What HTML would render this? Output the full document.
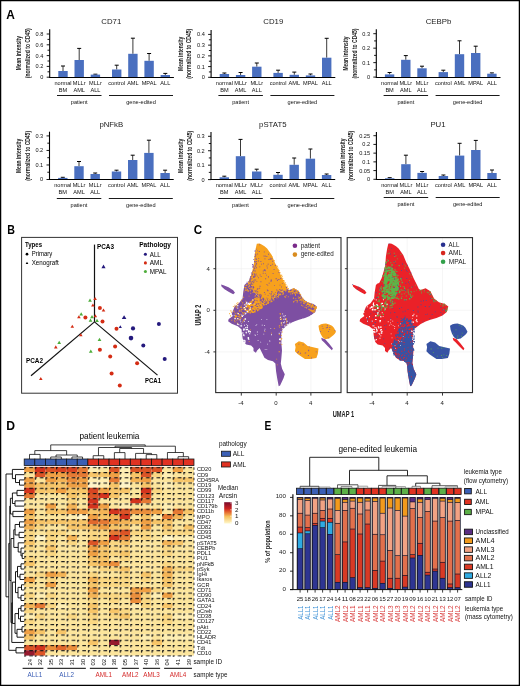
<!DOCTYPE html>
<html><head><meta charset="utf-8"><style>html,body{margin:0;padding:0;background:#fff;width:520px;height:686px;overflow:hidden}svg{display:block;will-change:transform;font-family:"Liberation Sans",sans-serif}</style></head><body>
<svg width="520" height="686" viewBox="0 0 520 686" font-family="Liberation Sans, sans-serif">
<rect x="0" y="0" width="520" height="686" fill="#fff"/>
<text x="111.3" y="24.38" font-size="7.8" fill="#1a1a1a" text-anchor="middle">CD71</text>
<line x1="63" y1="71" x2="63" y2="66" stroke="#3a3a3a" stroke-width="1"/>
<line x1="61" y1="66" x2="65" y2="66" stroke="#000" stroke-width="1"/>
<rect x="58.3" y="71" width="9.4" height="6" fill="#4a6fbf"/>
<line x1="79.2" y1="60" x2="79.2" y2="48.4" stroke="#3a3a3a" stroke-width="1"/>
<line x1="77.2" y1="48.4" x2="81.2" y2="48.4" stroke="#000" stroke-width="1"/>
<rect x="74.5" y="60" width="9.4" height="17" fill="#4a6fbf"/>
<line x1="95.4" y1="74.6" x2="95.4" y2="74.2" stroke="#3a3a3a" stroke-width="1"/>
<line x1="93.4" y1="74.2" x2="97.4" y2="74.2" stroke="#000" stroke-width="1"/>
<rect x="90.7" y="74.6" width="9.4" height="2.4" fill="#4a6fbf"/>
<line x1="116.7" y1="69.5" x2="116.7" y2="65.2" stroke="#3a3a3a" stroke-width="1"/>
<line x1="114.7" y1="65.2" x2="118.7" y2="65.2" stroke="#000" stroke-width="1"/>
<rect x="112" y="69.5" width="9.4" height="7.5" fill="#4a6fbf"/>
<line x1="132.9" y1="53.8" x2="132.9" y2="38.2" stroke="#3a3a3a" stroke-width="1"/>
<line x1="130.9" y1="38.2" x2="134.9" y2="38.2" stroke="#000" stroke-width="1"/>
<rect x="128.2" y="53.8" width="9.4" height="23.2" fill="#4a6fbf"/>
<line x1="149.1" y1="60.8" x2="149.1" y2="53.5" stroke="#3a3a3a" stroke-width="1"/>
<line x1="147.1" y1="53.5" x2="151.1" y2="53.5" stroke="#000" stroke-width="1"/>
<rect x="144.4" y="60.8" width="9.4" height="16.2" fill="#4a6fbf"/>
<line x1="165.3" y1="75" x2="165.3" y2="73.4" stroke="#3a3a3a" stroke-width="1"/>
<line x1="163.3" y1="73.4" x2="167.3" y2="73.4" stroke="#000" stroke-width="1"/>
<rect x="160.6" y="75" width="9.4" height="2" fill="#4a6fbf"/>
<line x1="49.7" y1="29.3" x2="49.7" y2="77.7" stroke="#000" stroke-width="1.1"/>
<line x1="49.2" y1="77.5" x2="173.9" y2="77.5" stroke="#000" stroke-width="1.1"/>
<line x1="46.7" y1="77.2" x2="49.7" y2="77.2" stroke="#000" stroke-width="0.9"/>
<text x="43.4" y="79.15" font-size="5.6" fill="#111" text-anchor="end">0</text>
<line x1="46.7" y1="66.4" x2="49.7" y2="66.4" stroke="#000" stroke-width="0.9"/>
<text x="43.4" y="68.35" font-size="5.6" fill="#111" text-anchor="end">0.2</text>
<line x1="46.7" y1="55.6" x2="49.7" y2="55.6" stroke="#000" stroke-width="0.9"/>
<text x="43.4" y="57.55" font-size="5.6" fill="#111" text-anchor="end">0.4</text>
<line x1="46.7" y1="44.8" x2="49.7" y2="44.8" stroke="#000" stroke-width="0.9"/>
<text x="43.4" y="46.75" font-size="5.6" fill="#111" text-anchor="end">0.6</text>
<line x1="46.7" y1="34" x2="49.7" y2="34" stroke="#000" stroke-width="0.9"/>
<text x="43.4" y="35.95" font-size="5.6" fill="#111" text-anchor="end">0.8</text>
<line x1="47.5" y1="71.8" x2="49.7" y2="71.8" stroke="#000" stroke-width="0.9"/>
<line x1="47.5" y1="61" x2="49.7" y2="61" stroke="#000" stroke-width="0.9"/>
<line x1="47.5" y1="50.2" x2="49.7" y2="50.2" stroke="#000" stroke-width="0.9"/>
<line x1="47.5" y1="39.4" x2="49.7" y2="39.4" stroke="#000" stroke-width="0.9"/>
<text transform="translate(21.3 53.2) rotate(-90)" font-size="7.3" fill="#222" text-anchor="middle" textLength="34.2" lengthAdjust="spacingAndGlyphs" font-weight="bold">Mean intensity</text>
<text transform="translate(30.1 53.2) rotate(-90)" font-size="7.3" fill="#222" text-anchor="middle" textLength="49.9" lengthAdjust="spacingAndGlyphs" font-weight="bold">(normalized to CD45)</text>
<text x="63" y="84.9" font-size="5.6" fill="#111" text-anchor="middle">normal</text>
<text x="63" y="91.9" font-size="5.6" fill="#111" text-anchor="middle">BM</text>
<text x="79.2" y="84.9" font-size="5.6" fill="#111" text-anchor="middle">MLLr</text>
<text x="79.2" y="91.9" font-size="5.6" fill="#111" text-anchor="middle">AML</text>
<text x="95.4" y="84.9" font-size="5.6" fill="#111" text-anchor="middle">MLLr</text>
<text x="95.4" y="91.9" font-size="5.6" fill="#111" text-anchor="middle">ALL</text>
<text x="116.7" y="84.9" font-size="5.6" fill="#111" text-anchor="middle">control</text>
<text x="132.9" y="84.9" font-size="5.6" fill="#111" text-anchor="middle">AML</text>
<text x="149.1" y="84.9" font-size="5.6" fill="#111" text-anchor="middle">MPAL</text>
<text x="165.3" y="84.9" font-size="5.6" fill="#111" text-anchor="middle">ALL</text>
<line x1="57" y1="95.5" x2="101.5" y2="95.5" stroke="#000" stroke-width="0.9"/>
<line x1="109" y1="95.5" x2="173" y2="95.5" stroke="#000" stroke-width="0.9"/>
<text x="79.2" y="104.2" font-size="5.6" fill="#111" text-anchor="middle">patient</text>
<text x="141" y="104.2" font-size="5.6" fill="#111" text-anchor="middle">gene-edited</text>
<text x="273.3" y="24.48" font-size="7.8" fill="#1a1a1a" text-anchor="middle">CD19</text>
<line x1="224.4" y1="74" x2="224.4" y2="73" stroke="#3a3a3a" stroke-width="1"/>
<line x1="222.4" y1="73" x2="226.4" y2="73" stroke="#000" stroke-width="1"/>
<rect x="219.7" y="74" width="9.4" height="3" fill="#4a6fbf"/>
<line x1="240.6" y1="75" x2="240.6" y2="72.5" stroke="#3a3a3a" stroke-width="1"/>
<line x1="238.6" y1="72.5" x2="242.6" y2="72.5" stroke="#000" stroke-width="1"/>
<rect x="235.9" y="75" width="9.4" height="2" fill="#4a6fbf"/>
<line x1="256.8" y1="66.7" x2="256.8" y2="63" stroke="#3a3a3a" stroke-width="1"/>
<line x1="254.8" y1="63" x2="258.8" y2="63" stroke="#000" stroke-width="1"/>
<rect x="252.1" y="66.7" width="9.4" height="10.3" fill="#4a6fbf"/>
<line x1="278.1" y1="72.9" x2="278.1" y2="70.2" stroke="#3a3a3a" stroke-width="1"/>
<line x1="276.1" y1="70.2" x2="280.1" y2="70.2" stroke="#000" stroke-width="1"/>
<rect x="273.4" y="72.9" width="9.4" height="4.1" fill="#4a6fbf"/>
<line x1="294.3" y1="74.8" x2="294.3" y2="72.1" stroke="#3a3a3a" stroke-width="1"/>
<line x1="292.3" y1="72.1" x2="296.3" y2="72.1" stroke="#000" stroke-width="1"/>
<rect x="289.6" y="74.8" width="9.4" height="2.2" fill="#4a6fbf"/>
<line x1="310.5" y1="75.4" x2="310.5" y2="74" stroke="#3a3a3a" stroke-width="1"/>
<line x1="308.5" y1="74" x2="312.5" y2="74" stroke="#000" stroke-width="1"/>
<rect x="305.8" y="75.4" width="9.4" height="1.6" fill="#4a6fbf"/>
<line x1="326.7" y1="57.7" x2="326.7" y2="38.3" stroke="#3a3a3a" stroke-width="1"/>
<line x1="324.7" y1="38.3" x2="328.7" y2="38.3" stroke="#000" stroke-width="1"/>
<rect x="322" y="57.7" width="9.4" height="19.3" fill="#4a6fbf"/>
<line x1="211.1" y1="30" x2="211.1" y2="77.8" stroke="#000" stroke-width="1.1"/>
<line x1="210.6" y1="77.5" x2="335.3" y2="77.5" stroke="#000" stroke-width="1.1"/>
<line x1="208.1" y1="77.3" x2="211.1" y2="77.3" stroke="#000" stroke-width="0.9"/>
<text x="204.8" y="79.25" font-size="5.6" fill="#111" text-anchor="end">0</text>
<line x1="208.1" y1="66.58" x2="211.1" y2="66.58" stroke="#000" stroke-width="0.9"/>
<text x="204.8" y="68.53" font-size="5.6" fill="#111" text-anchor="end">0.1</text>
<line x1="208.1" y1="55.86" x2="211.1" y2="55.86" stroke="#000" stroke-width="0.9"/>
<text x="204.8" y="57.81" font-size="5.6" fill="#111" text-anchor="end">0.2</text>
<line x1="208.1" y1="45.14" x2="211.1" y2="45.14" stroke="#000" stroke-width="0.9"/>
<text x="204.8" y="47.09" font-size="5.6" fill="#111" text-anchor="end">0.3</text>
<line x1="208.1" y1="34.42" x2="211.1" y2="34.42" stroke="#000" stroke-width="0.9"/>
<text x="204.8" y="36.37" font-size="5.6" fill="#111" text-anchor="end">0.4</text>
<line x1="208.9" y1="71.94" x2="211.1" y2="71.94" stroke="#000" stroke-width="0.9"/>
<line x1="208.9" y1="61.22" x2="211.1" y2="61.22" stroke="#000" stroke-width="0.9"/>
<line x1="208.9" y1="50.5" x2="211.1" y2="50.5" stroke="#000" stroke-width="0.9"/>
<line x1="208.9" y1="39.78" x2="211.1" y2="39.78" stroke="#000" stroke-width="0.9"/>
<text transform="translate(182.5 53.8) rotate(-90)" font-size="7.3" fill="#222" text-anchor="middle" textLength="34.2" lengthAdjust="spacingAndGlyphs" font-weight="bold">Mean intensity</text>
<text transform="translate(191.3 53.8) rotate(-90)" font-size="7.3" fill="#222" text-anchor="middle" textLength="49.9" lengthAdjust="spacingAndGlyphs" font-weight="bold">(normalized to CD45)</text>
<text x="224.4" y="85" font-size="5.6" fill="#111" text-anchor="middle">normal</text>
<text x="224.4" y="92" font-size="5.6" fill="#111" text-anchor="middle">BM</text>
<text x="240.6" y="85" font-size="5.6" fill="#111" text-anchor="middle">MLLr</text>
<text x="240.6" y="92" font-size="5.6" fill="#111" text-anchor="middle">AML</text>
<text x="256.8" y="85" font-size="5.6" fill="#111" text-anchor="middle">MLLr</text>
<text x="256.8" y="92" font-size="5.6" fill="#111" text-anchor="middle">ALL</text>
<text x="278.1" y="85" font-size="5.6" fill="#111" text-anchor="middle">control</text>
<text x="294.3" y="85" font-size="5.6" fill="#111" text-anchor="middle">AML</text>
<text x="310.5" y="85" font-size="5.6" fill="#111" text-anchor="middle">MPAL</text>
<text x="326.7" y="85" font-size="5.6" fill="#111" text-anchor="middle">ALL</text>
<line x1="218.4" y1="95.5" x2="262.9" y2="95.5" stroke="#000" stroke-width="0.9"/>
<line x1="270.4" y1="95.5" x2="334.4" y2="95.5" stroke="#000" stroke-width="0.9"/>
<text x="240.6" y="104.3" font-size="5.6" fill="#111" text-anchor="middle">patient</text>
<text x="302.4" y="104.3" font-size="5.6" fill="#111" text-anchor="middle">gene-edited</text>
<text x="438.5" y="24.38" font-size="7.8" fill="#1a1a1a" text-anchor="middle">CEBPb</text>
<line x1="389.6" y1="74.4" x2="389.6" y2="72.5" stroke="#3a3a3a" stroke-width="1"/>
<line x1="387.6" y1="72.5" x2="391.6" y2="72.5" stroke="#000" stroke-width="1"/>
<rect x="384.9" y="74.4" width="9.4" height="2.6" fill="#4a6fbf"/>
<line x1="405.8" y1="59.8" x2="405.8" y2="55.6" stroke="#3a3a3a" stroke-width="1"/>
<line x1="403.8" y1="55.6" x2="407.8" y2="55.6" stroke="#000" stroke-width="1"/>
<rect x="401.1" y="59.8" width="9.4" height="17.2" fill="#4a6fbf"/>
<line x1="422" y1="68.3" x2="422" y2="66.2" stroke="#3a3a3a" stroke-width="1"/>
<line x1="420" y1="66.2" x2="424" y2="66.2" stroke="#000" stroke-width="1"/>
<rect x="417.3" y="68.3" width="9.4" height="8.7" fill="#4a6fbf"/>
<line x1="443.3" y1="72.1" x2="443.3" y2="70.2" stroke="#3a3a3a" stroke-width="1"/>
<line x1="441.3" y1="70.2" x2="445.3" y2="70.2" stroke="#000" stroke-width="1"/>
<rect x="438.6" y="72.1" width="9.4" height="4.9" fill="#4a6fbf"/>
<line x1="459.5" y1="54.2" x2="459.5" y2="40.8" stroke="#3a3a3a" stroke-width="1"/>
<line x1="457.5" y1="40.8" x2="461.5" y2="40.8" stroke="#000" stroke-width="1"/>
<rect x="454.8" y="54.2" width="9.4" height="22.8" fill="#4a6fbf"/>
<line x1="475.7" y1="53" x2="475.7" y2="46.2" stroke="#3a3a3a" stroke-width="1"/>
<line x1="473.7" y1="46.2" x2="477.7" y2="46.2" stroke="#000" stroke-width="1"/>
<rect x="471" y="53" width="9.4" height="24" fill="#4a6fbf"/>
<line x1="491.9" y1="73.7" x2="491.9" y2="72.9" stroke="#3a3a3a" stroke-width="1"/>
<line x1="489.9" y1="72.9" x2="493.9" y2="72.9" stroke="#000" stroke-width="1"/>
<rect x="487.2" y="73.7" width="9.4" height="3.3" fill="#4a6fbf"/>
<line x1="376.3" y1="29.3" x2="376.3" y2="77.6" stroke="#000" stroke-width="1.1"/>
<line x1="375.8" y1="77.5" x2="500.5" y2="77.5" stroke="#000" stroke-width="1.1"/>
<line x1="373.3" y1="77.1" x2="376.3" y2="77.1" stroke="#000" stroke-width="0.9"/>
<text x="370" y="79.05" font-size="5.6" fill="#111" text-anchor="end">0</text>
<line x1="373.3" y1="62.63" x2="376.3" y2="62.63" stroke="#000" stroke-width="0.9"/>
<text x="370" y="64.58" font-size="5.6" fill="#111" text-anchor="end">0.1</text>
<line x1="373.3" y1="48.16" x2="376.3" y2="48.16" stroke="#000" stroke-width="0.9"/>
<text x="370" y="50.11" font-size="5.6" fill="#111" text-anchor="end">0.2</text>
<line x1="373.3" y1="33.69" x2="376.3" y2="33.69" stroke="#000" stroke-width="0.9"/>
<text x="370" y="35.64" font-size="5.6" fill="#111" text-anchor="end">0.3</text>
<line x1="374.1" y1="69.86" x2="376.3" y2="69.86" stroke="#000" stroke-width="0.9"/>
<line x1="374.1" y1="55.39" x2="376.3" y2="55.39" stroke="#000" stroke-width="0.9"/>
<line x1="374.1" y1="40.92" x2="376.3" y2="40.92" stroke="#000" stroke-width="0.9"/>
<text transform="translate(348.2 53.5) rotate(-90)" font-size="7.3" fill="#222" text-anchor="middle" textLength="34.2" lengthAdjust="spacingAndGlyphs" font-weight="bold">Mean intensity</text>
<text transform="translate(357.1 53.5) rotate(-90)" font-size="7.3" fill="#222" text-anchor="middle" textLength="49.9" lengthAdjust="spacingAndGlyphs" font-weight="bold">(normalized to CD45)</text>
<text x="389.6" y="84.8" font-size="5.6" fill="#111" text-anchor="middle">normal</text>
<text x="389.6" y="91.8" font-size="5.6" fill="#111" text-anchor="middle">BM</text>
<text x="405.8" y="84.8" font-size="5.6" fill="#111" text-anchor="middle">MLLr</text>
<text x="405.8" y="91.8" font-size="5.6" fill="#111" text-anchor="middle">AML</text>
<text x="422" y="84.8" font-size="5.6" fill="#111" text-anchor="middle">MLLr</text>
<text x="422" y="91.8" font-size="5.6" fill="#111" text-anchor="middle">ALL</text>
<text x="443.3" y="84.8" font-size="5.6" fill="#111" text-anchor="middle">control</text>
<text x="459.5" y="84.8" font-size="5.6" fill="#111" text-anchor="middle">AML</text>
<text x="475.7" y="84.8" font-size="5.6" fill="#111" text-anchor="middle">MPAL</text>
<text x="491.9" y="84.8" font-size="5.6" fill="#111" text-anchor="middle">ALL</text>
<line x1="383.6" y1="95.5" x2="428.1" y2="95.5" stroke="#000" stroke-width="0.9"/>
<line x1="435.6" y1="95.5" x2="499.6" y2="95.5" stroke="#000" stroke-width="0.9"/>
<text x="405.8" y="104.1" font-size="5.6" fill="#111" text-anchor="middle">patient</text>
<text x="467.6" y="104.1" font-size="5.6" fill="#111" text-anchor="middle">gene-edited</text>
<text x="111.3" y="126.58" font-size="7.8" fill="#1a1a1a" text-anchor="middle">pNFkB</text>
<line x1="62.8" y1="177.9" x2="62.8" y2="177.3" stroke="#3a3a3a" stroke-width="1"/>
<line x1="60.8" y1="177.3" x2="64.8" y2="177.3" stroke="#000" stroke-width="1"/>
<rect x="58.1" y="177.9" width="9.4" height="1.1" fill="#4a6fbf"/>
<line x1="79" y1="166.2" x2="79" y2="161.5" stroke="#3a3a3a" stroke-width="1"/>
<line x1="77" y1="161.5" x2="81" y2="161.5" stroke="#000" stroke-width="1"/>
<rect x="74.3" y="166.2" width="9.4" height="12.8" fill="#4a6fbf"/>
<line x1="95.2" y1="174" x2="95.2" y2="173" stroke="#3a3a3a" stroke-width="1"/>
<line x1="93.2" y1="173" x2="97.2" y2="173" stroke="#000" stroke-width="1"/>
<rect x="90.5" y="174" width="9.4" height="5" fill="#4a6fbf"/>
<line x1="116.5" y1="171.5" x2="116.5" y2="170.2" stroke="#3a3a3a" stroke-width="1"/>
<line x1="114.5" y1="170.2" x2="118.5" y2="170.2" stroke="#000" stroke-width="1"/>
<rect x="111.8" y="171.5" width="9.4" height="7.5" fill="#4a6fbf"/>
<line x1="132.7" y1="160" x2="132.7" y2="155.2" stroke="#3a3a3a" stroke-width="1"/>
<line x1="130.7" y1="155.2" x2="134.7" y2="155.2" stroke="#000" stroke-width="1"/>
<rect x="128" y="160" width="9.4" height="19" fill="#4a6fbf"/>
<line x1="148.9" y1="152.9" x2="148.9" y2="140.2" stroke="#3a3a3a" stroke-width="1"/>
<line x1="146.9" y1="140.2" x2="150.9" y2="140.2" stroke="#000" stroke-width="1"/>
<rect x="144.2" y="152.9" width="9.4" height="26.1" fill="#4a6fbf"/>
<line x1="165.1" y1="173" x2="165.1" y2="170.2" stroke="#3a3a3a" stroke-width="1"/>
<line x1="163.1" y1="170.2" x2="167.1" y2="170.2" stroke="#000" stroke-width="1"/>
<rect x="160.4" y="173" width="9.4" height="6" fill="#4a6fbf"/>
<line x1="49.5" y1="131.7" x2="49.5" y2="180" stroke="#000" stroke-width="1.1"/>
<line x1="49" y1="179.5" x2="173.7" y2="179.5" stroke="#000" stroke-width="1.1"/>
<line x1="46.5" y1="179.5" x2="49.5" y2="179.5" stroke="#000" stroke-width="0.9"/>
<text x="43.2" y="181.45" font-size="5.6" fill="#111" text-anchor="end">0</text>
<line x1="46.5" y1="164.97" x2="49.5" y2="164.97" stroke="#000" stroke-width="0.9"/>
<text x="43.2" y="166.92" font-size="5.6" fill="#111" text-anchor="end">0.1</text>
<line x1="46.5" y1="150.44" x2="49.5" y2="150.44" stroke="#000" stroke-width="0.9"/>
<text x="43.2" y="152.39" font-size="5.6" fill="#111" text-anchor="end">0.2</text>
<line x1="46.5" y1="135.91" x2="49.5" y2="135.91" stroke="#000" stroke-width="0.9"/>
<text x="43.2" y="137.86" font-size="5.6" fill="#111" text-anchor="end">0.3</text>
<line x1="47.3" y1="172.24" x2="49.5" y2="172.24" stroke="#000" stroke-width="0.9"/>
<line x1="47.3" y1="157.7" x2="49.5" y2="157.7" stroke="#000" stroke-width="0.9"/>
<line x1="47.3" y1="143.18" x2="49.5" y2="143.18" stroke="#000" stroke-width="0.9"/>
<text transform="translate(21 155.9) rotate(-90)" font-size="7.3" fill="#222" text-anchor="middle" textLength="34.2" lengthAdjust="spacingAndGlyphs" font-weight="bold">Mean intensity</text>
<text transform="translate(29.9 155.9) rotate(-90)" font-size="7.3" fill="#222" text-anchor="middle" textLength="49.9" lengthAdjust="spacingAndGlyphs" font-weight="bold">(normalized to CD45)</text>
<text x="62.8" y="187.2" font-size="5.6" fill="#111" text-anchor="middle">normal</text>
<text x="62.8" y="194.2" font-size="5.6" fill="#111" text-anchor="middle">BM</text>
<text x="79" y="187.2" font-size="5.6" fill="#111" text-anchor="middle">MLLr</text>
<text x="79" y="194.2" font-size="5.6" fill="#111" text-anchor="middle">AML</text>
<text x="95.2" y="187.2" font-size="5.6" fill="#111" text-anchor="middle">MLLr</text>
<text x="95.2" y="194.2" font-size="5.6" fill="#111" text-anchor="middle">ALL</text>
<text x="116.5" y="187.2" font-size="5.6" fill="#111" text-anchor="middle">control</text>
<text x="132.7" y="187.2" font-size="5.6" fill="#111" text-anchor="middle">AML</text>
<text x="148.9" y="187.2" font-size="5.6" fill="#111" text-anchor="middle">MPAL</text>
<text x="165.1" y="187.2" font-size="5.6" fill="#111" text-anchor="middle">ALL</text>
<line x1="56.8" y1="198.5" x2="101.3" y2="198.5" stroke="#000" stroke-width="0.9"/>
<line x1="108.8" y1="198.5" x2="172.8" y2="198.5" stroke="#000" stroke-width="0.9"/>
<text x="79" y="206.5" font-size="5.6" fill="#111" text-anchor="middle">patient</text>
<text x="140.8" y="206.5" font-size="5.6" fill="#111" text-anchor="middle">gene-edited</text>
<text x="272.8" y="126.78" font-size="7.8" fill="#1a1a1a" text-anchor="middle">pSTAT5</text>
<line x1="224.3" y1="177.3" x2="224.3" y2="176.2" stroke="#3a3a3a" stroke-width="1"/>
<line x1="222.3" y1="176.2" x2="226.3" y2="176.2" stroke="#000" stroke-width="1"/>
<rect x="219.6" y="177.3" width="9.4" height="1.7" fill="#4a6fbf"/>
<line x1="240.5" y1="156.2" x2="240.5" y2="139.4" stroke="#3a3a3a" stroke-width="1"/>
<line x1="238.5" y1="139.4" x2="242.5" y2="139.4" stroke="#000" stroke-width="1"/>
<rect x="235.8" y="156.2" width="9.4" height="22.8" fill="#4a6fbf"/>
<line x1="256.7" y1="171.5" x2="256.7" y2="169.2" stroke="#3a3a3a" stroke-width="1"/>
<line x1="254.7" y1="169.2" x2="258.7" y2="169.2" stroke="#000" stroke-width="1"/>
<rect x="252" y="171.5" width="9.4" height="7.5" fill="#4a6fbf"/>
<line x1="278" y1="174.8" x2="278" y2="172.5" stroke="#3a3a3a" stroke-width="1"/>
<line x1="276" y1="172.5" x2="280" y2="172.5" stroke="#000" stroke-width="1"/>
<rect x="273.3" y="174.8" width="9.4" height="4.2" fill="#4a6fbf"/>
<line x1="294.2" y1="164.8" x2="294.2" y2="158" stroke="#3a3a3a" stroke-width="1"/>
<line x1="292.2" y1="158" x2="296.2" y2="158" stroke="#000" stroke-width="1"/>
<rect x="289.5" y="164.8" width="9.4" height="14.2" fill="#4a6fbf"/>
<line x1="310.4" y1="158.7" x2="310.4" y2="149" stroke="#3a3a3a" stroke-width="1"/>
<line x1="308.4" y1="149" x2="312.4" y2="149" stroke="#000" stroke-width="1"/>
<rect x="305.7" y="158.7" width="9.4" height="20.3" fill="#4a6fbf"/>
<line x1="326.6" y1="175" x2="326.6" y2="174" stroke="#3a3a3a" stroke-width="1"/>
<line x1="324.6" y1="174" x2="328.6" y2="174" stroke="#000" stroke-width="1"/>
<rect x="321.9" y="175" width="9.4" height="4" fill="#4a6fbf"/>
<line x1="211" y1="132" x2="211" y2="180.1" stroke="#000" stroke-width="1.1"/>
<line x1="210.5" y1="179.5" x2="335.2" y2="179.5" stroke="#000" stroke-width="1.1"/>
<line x1="208" y1="179.6" x2="211" y2="179.6" stroke="#000" stroke-width="0.9"/>
<text x="204.7" y="181.55" font-size="5.6" fill="#111" text-anchor="end">0</text>
<line x1="208" y1="165.17" x2="211" y2="165.17" stroke="#000" stroke-width="0.9"/>
<text x="204.7" y="167.12" font-size="5.6" fill="#111" text-anchor="end">0.1</text>
<line x1="208" y1="150.74" x2="211" y2="150.74" stroke="#000" stroke-width="0.9"/>
<text x="204.7" y="152.69" font-size="5.6" fill="#111" text-anchor="end">0.2</text>
<line x1="208" y1="136.31" x2="211" y2="136.31" stroke="#000" stroke-width="0.9"/>
<text x="204.7" y="138.26" font-size="5.6" fill="#111" text-anchor="end">0.3</text>
<line x1="208.8" y1="172.38" x2="211" y2="172.38" stroke="#000" stroke-width="0.9"/>
<line x1="208.8" y1="157.95" x2="211" y2="157.95" stroke="#000" stroke-width="0.9"/>
<line x1="208.8" y1="143.52" x2="211" y2="143.52" stroke="#000" stroke-width="0.9"/>
<text transform="translate(182.5 155.8) rotate(-90)" font-size="7.3" fill="#222" text-anchor="middle" textLength="34.2" lengthAdjust="spacingAndGlyphs" font-weight="bold">Mean intensity</text>
<text transform="translate(191.5 155.8) rotate(-90)" font-size="7.3" fill="#222" text-anchor="middle" textLength="49.9" lengthAdjust="spacingAndGlyphs" font-weight="bold">(normalized to CD45)</text>
<text x="224.3" y="187.3" font-size="5.6" fill="#111" text-anchor="middle">normal</text>
<text x="224.3" y="194.3" font-size="5.6" fill="#111" text-anchor="middle">BM</text>
<text x="240.5" y="187.3" font-size="5.6" fill="#111" text-anchor="middle">MLLr</text>
<text x="240.5" y="194.3" font-size="5.6" fill="#111" text-anchor="middle">AML</text>
<text x="256.7" y="187.3" font-size="5.6" fill="#111" text-anchor="middle">MLLr</text>
<text x="256.7" y="194.3" font-size="5.6" fill="#111" text-anchor="middle">ALL</text>
<text x="278" y="187.3" font-size="5.6" fill="#111" text-anchor="middle">control</text>
<text x="294.2" y="187.3" font-size="5.6" fill="#111" text-anchor="middle">AML</text>
<text x="310.4" y="187.3" font-size="5.6" fill="#111" text-anchor="middle">MPAL</text>
<text x="326.6" y="187.3" font-size="5.6" fill="#111" text-anchor="middle">ALL</text>
<line x1="218.3" y1="198.5" x2="262.8" y2="198.5" stroke="#000" stroke-width="0.9"/>
<line x1="270.3" y1="198.5" x2="334.3" y2="198.5" stroke="#000" stroke-width="0.9"/>
<text x="240.5" y="206.6" font-size="5.6" fill="#111" text-anchor="middle">patient</text>
<text x="302.3" y="206.6" font-size="5.6" fill="#111" text-anchor="middle">gene-edited</text>
<text x="438" y="126.78" font-size="7.8" fill="#1a1a1a" text-anchor="middle">PU1</text>
<line x1="389.7" y1="178.3" x2="389.7" y2="177.7" stroke="#3a3a3a" stroke-width="1"/>
<line x1="387.7" y1="177.7" x2="391.7" y2="177.7" stroke="#000" stroke-width="1"/>
<rect x="385" y="178.3" width="9.4" height="0.7" fill="#4a6fbf"/>
<line x1="405.9" y1="164.2" x2="405.9" y2="155.2" stroke="#3a3a3a" stroke-width="1"/>
<line x1="403.9" y1="155.2" x2="407.9" y2="155.2" stroke="#000" stroke-width="1"/>
<rect x="401.2" y="164.2" width="9.4" height="14.8" fill="#4a6fbf"/>
<line x1="422.1" y1="172.9" x2="422.1" y2="171.5" stroke="#3a3a3a" stroke-width="1"/>
<line x1="420.1" y1="171.5" x2="424.1" y2="171.5" stroke="#000" stroke-width="1"/>
<rect x="417.4" y="172.9" width="9.4" height="6.1" fill="#4a6fbf"/>
<line x1="443.4" y1="176" x2="443.4" y2="175" stroke="#3a3a3a" stroke-width="1"/>
<line x1="441.4" y1="175" x2="445.4" y2="175" stroke="#000" stroke-width="1"/>
<rect x="438.7" y="176" width="9.4" height="3" fill="#4a6fbf"/>
<line x1="459.6" y1="155.6" x2="459.6" y2="143.3" stroke="#3a3a3a" stroke-width="1"/>
<line x1="457.6" y1="143.3" x2="461.6" y2="143.3" stroke="#000" stroke-width="1"/>
<rect x="454.9" y="155.6" width="9.4" height="23.4" fill="#4a6fbf"/>
<line x1="475.8" y1="150" x2="475.8" y2="140.4" stroke="#3a3a3a" stroke-width="1"/>
<line x1="473.8" y1="140.4" x2="477.8" y2="140.4" stroke="#000" stroke-width="1"/>
<rect x="471.1" y="150" width="9.4" height="29" fill="#4a6fbf"/>
<line x1="492" y1="173" x2="492" y2="170" stroke="#3a3a3a" stroke-width="1"/>
<line x1="490" y1="170" x2="494" y2="170" stroke="#000" stroke-width="1"/>
<rect x="487.3" y="173" width="9.4" height="6" fill="#4a6fbf"/>
<line x1="376.4" y1="132" x2="376.4" y2="179.8" stroke="#000" stroke-width="1.1"/>
<line x1="375.9" y1="179.5" x2="500.6" y2="179.5" stroke="#000" stroke-width="1.1"/>
<line x1="373.4" y1="179.3" x2="376.4" y2="179.3" stroke="#000" stroke-width="0.9"/>
<text x="370.1" y="181.25" font-size="5.6" fill="#111" text-anchor="end">0</text>
<line x1="373.4" y1="170.58" x2="376.4" y2="170.58" stroke="#000" stroke-width="0.9"/>
<text x="370.1" y="172.53" font-size="5.6" fill="#111" text-anchor="end">0.05</text>
<line x1="373.4" y1="161.86" x2="376.4" y2="161.86" stroke="#000" stroke-width="0.9"/>
<text x="370.1" y="163.81" font-size="5.6" fill="#111" text-anchor="end">0.1</text>
<line x1="373.4" y1="153.14" x2="376.4" y2="153.14" stroke="#000" stroke-width="0.9"/>
<text x="370.1" y="155.09" font-size="5.6" fill="#111" text-anchor="end">0.15</text>
<line x1="373.4" y1="144.42" x2="376.4" y2="144.42" stroke="#000" stroke-width="0.9"/>
<text x="370.1" y="146.37" font-size="5.6" fill="#111" text-anchor="end">0.2</text>
<line x1="373.4" y1="135.7" x2="376.4" y2="135.7" stroke="#000" stroke-width="0.9"/>
<text x="370.1" y="137.65" font-size="5.6" fill="#111" text-anchor="end">0.25</text>
<text transform="translate(344.7 155.7) rotate(-90)" font-size="7.3" fill="#222" text-anchor="middle" textLength="34.2" lengthAdjust="spacingAndGlyphs" font-weight="bold">Mean intensity</text>
<text transform="translate(353.1 155.7) rotate(-90)" font-size="7.3" fill="#222" text-anchor="middle" textLength="49.9" lengthAdjust="spacingAndGlyphs" font-weight="bold">(normalized to CD45)</text>
<text x="389.7" y="187" font-size="5.6" fill="#111" text-anchor="middle">normal</text>
<text x="389.7" y="194" font-size="5.6" fill="#111" text-anchor="middle">BM</text>
<text x="405.9" y="187" font-size="5.6" fill="#111" text-anchor="middle">MLLr</text>
<text x="405.9" y="194" font-size="5.6" fill="#111" text-anchor="middle">AML</text>
<text x="422.1" y="187" font-size="5.6" fill="#111" text-anchor="middle">MLLr</text>
<text x="422.1" y="194" font-size="5.6" fill="#111" text-anchor="middle">ALL</text>
<text x="443.4" y="187" font-size="5.6" fill="#111" text-anchor="middle">control</text>
<text x="459.6" y="187" font-size="5.6" fill="#111" text-anchor="middle">AML</text>
<text x="475.8" y="187" font-size="5.6" fill="#111" text-anchor="middle">MPAL</text>
<text x="492" y="187" font-size="5.6" fill="#111" text-anchor="middle">ALL</text>
<line x1="383.7" y1="197.5" x2="428.2" y2="197.5" stroke="#000" stroke-width="0.9"/>
<line x1="435.7" y1="197.5" x2="499.7" y2="197.5" stroke="#000" stroke-width="0.9"/>
<text x="405.9" y="206.3" font-size="5.6" fill="#111" text-anchor="middle">patient</text>
<text x="467.7" y="206.3" font-size="5.6" fill="#111" text-anchor="middle">gene-edited</text>
<rect x="21.6" y="237.4" width="155.9" height="155.8" fill="none" stroke="#333" stroke-width="1"/>
<line x1="94.5" y1="321.9" x2="94.5" y2="244.6" stroke="#111" stroke-width="1.2"/>
<line x1="94.5" y1="321.9" x2="31" y2="375.7" stroke="#111" stroke-width="1.2"/>
<line x1="94.5" y1="321.9" x2="157.5" y2="375.1" stroke="#111" stroke-width="1.2"/>
<text x="105.5" y="248.7" font-size="6.4" font-weight="bold" text-anchor="middle">PCA3</text>
<text x="34.5" y="362.7" font-size="6.4" font-weight="bold" text-anchor="middle">PCA2</text>
<text x="145" y="382.6" font-size="6.4" font-weight="bold" textLength="16" lengthAdjust="spacingAndGlyphs">PCA1</text>
<text x="25" y="246.84" font-size="6.8" font-weight="bold" textLength="17" lengthAdjust="spacingAndGlyphs">Types</text>
<circle cx="27" cy="254.2" r="1.35" fill="#000"/>
<text x="31.7" y="255.99" font-size="7" textLength="20.6" lengthAdjust="spacingAndGlyphs">Primary</text>
<path d="M27 261.67L28.3 263.88L25.7 263.88Z" fill="#000"/>
<text x="31.7" y="264.59" font-size="7" textLength="27" lengthAdjust="spacingAndGlyphs">Xenograft</text>
<text x="139.2" y="246.89" font-size="7" font-weight="bold" textLength="31.8" lengthAdjust="spacingAndGlyphs">Pathology</text>
<circle cx="145.4" cy="254.2" r="1.55" fill="#24197d"/>
<text x="149.8" y="256.57" font-size="6.9" textLength="11" lengthAdjust="spacingAndGlyphs">ALL</text>
<circle cx="145.4" cy="262.9" r="1.55" fill="#d42c14"/>
<text x="149.8" y="265.27" font-size="6.9" textLength="13.2" lengthAdjust="spacingAndGlyphs">AML</text>
<circle cx="145.4" cy="271.5" r="1.55" fill="#4fae3c"/>
<text x="149.8" y="273.87" font-size="6.9" textLength="16.7" lengthAdjust="spacingAndGlyphs">MPAL</text>
<path d="M103.5 264.56L105.6 268.13L101.4 268.13Z" fill="#24197d"/>
<path d="M90 298.56L91.9 301.79L88.1 301.79Z" fill="#4fae3c"/>
<path d="M95.1 296.96L96.9 300.02L93.3 300.02Z" fill="#d42c14"/>
<path d="M92.9 303.46L94.7 306.52L91.1 306.52Z" fill="#d42c14"/>
<circle cx="99.9" cy="308" r="2" fill="#d42c14"/>
<path d="M103.5 308.56L105.3 311.62L101.7 311.62Z" fill="#d42c14"/>
<path d="M81.2 312.36L83.1 315.59L79.3 315.59Z" fill="#4fae3c"/>
<path d="M78.9 315.16L80.7 318.22L77.1 318.22Z" fill="#d42c14"/>
<circle cx="85.4" cy="317.4" r="2" fill="#d42c14"/>
<path d="M92 314.96L93.9 318.19L90.1 318.19Z" fill="#4fae3c"/>
<path d="M95.4 314.37L97.1 317.26L93.7 317.26Z" fill="#d42c14"/>
<path d="M90.5 318.56L92.4 321.79L88.6 321.79Z" fill="#4fae3c"/>
<path d="M97 318.86L98.9 322.09L95.1 322.09Z" fill="#4fae3c"/>
<circle cx="102.5" cy="321.5" r="2" fill="#d42c14"/>
<path d="M72.3 324.76L74.1 327.82L70.5 327.82Z" fill="#d42c14"/>
<path d="M80.8 333.16L82.6 336.22L79 336.22Z" fill="#d42c14"/>
<path d="M59.2 340.66L61.1 343.89L57.3 343.89Z" fill="#4fae3c"/>
<path d="M55.8 345.36L57.6 348.42L54 348.42Z" fill="#d42c14"/>
<path d="M40.8 377.06L42.6 380.12L39 380.12Z" fill="#d42c14"/>
<path d="M90.8 349.46L92.7 352.69L88.9 352.69Z" fill="#4fae3c"/>
<path d="M99.5 337.76L101.4 340.99L97.6 340.99Z" fill="#4fae3c"/>
<circle cx="99.9" cy="349.7" r="2" fill="#d42c14"/>
<path d="M124.1 315.15L126.4 319.06L121.8 319.06Z" fill="#24197d"/>
<path d="M120.3 325.37L121.9 328.09L118.7 328.09Z" fill="#24197d"/>
<circle cx="116.5" cy="328.7" r="2" fill="#d42c14"/>
<circle cx="133" cy="328.4" r="2.1" fill="#24197d"/>
<circle cx="158.9" cy="324.1" r="2" fill="#24197d"/>
<circle cx="131" cy="338.1" r="2.3" fill="#24197d"/>
<circle cx="143.3" cy="345.4" r="2" fill="#24197d"/>
<circle cx="164.7" cy="358.9" r="2" fill="#24197d"/>
<circle cx="115.1" cy="346.6" r="2" fill="#d42c14"/>
<circle cx="110.2" cy="356.6" r="2" fill="#d42c14"/>
<circle cx="137.1" cy="363.2" r="2" fill="#d42c14"/>
<circle cx="111.6" cy="373.6" r="2" fill="#d42c14"/>
<circle cx="119.8" cy="385.5" r="2" fill="#d42c14"/>
<line x1="241.3" y1="238" x2="241.3" y2="392.5" stroke="#ececec" stroke-width="0.5"/>
<line x1="276.2" y1="238" x2="276.2" y2="392.5" stroke="#ececec" stroke-width="0.5"/>
<line x1="310.9" y1="238" x2="310.9" y2="392.5" stroke="#ececec" stroke-width="0.5"/>
<line x1="215.7" y1="268.7" x2="341" y2="268.7" stroke="#ececec" stroke-width="0.5"/>
<line x1="215.7" y1="310.3" x2="341" y2="310.3" stroke="#ececec" stroke-width="0.5"/>
<line x1="215.7" y1="351.9" x2="341" y2="351.9" stroke="#ececec" stroke-width="0.5"/>
<line x1="372.2" y1="238" x2="372.2" y2="392.5" stroke="#ececec" stroke-width="0.5"/>
<line x1="407.2" y1="238" x2="407.2" y2="392.5" stroke="#ececec" stroke-width="0.5"/>
<line x1="442.5" y1="238" x2="442.5" y2="392.5" stroke="#ececec" stroke-width="0.5"/>
<line x1="347.2" y1="268.7" x2="472.5" y2="268.7" stroke="#ececec" stroke-width="0.5"/>
<line x1="347.2" y1="310.3" x2="472.5" y2="310.3" stroke="#ececec" stroke-width="0.5"/>
<line x1="347.2" y1="351.9" x2="472.5" y2="351.9" stroke="#ececec" stroke-width="0.5"/>
<path d="M247.7 283L246 283.6L244.4 285L243.2 292.3L242.6 298.3L239 303.2L234.7 306.2L233.5 309.2L231.7 314.1L232.9 315.9L228.7 318.9L228.1 321.3L231.7 323.8L237.8 326.2L241.4 329.2L242 333.5L242.6 338.3L243.8 342L246.2 344.4L251.1 345.6L253.5 348L253.5 351L255.9 352.8L257.1 350.4L259.6 348L262 352.8L264.4 357.7L268 360.1L272.9 361.3L275.4 363.5L276.1 371.5L277.4 379.6L278.7 386.3L280.1 385.5L283.5 378.3L284.8 374.2L282.1 368.8L280.8 363.5L281.4 357.7L282 350.4L281.4 343.2L281.4 333.5L282.6 329L284.4 327.7L289.2 324.1L294.1 321.6L298.9 319.8L305 318L311 315.6L315.3 312L316.8 306.5L313.5 304.1L307.4 302.2L302.6 298.6L298.9 291.3L294.1 288.3L289.2 290.1L287.4 288.9L284 291L280 292.5L276 296L272 300L268 301.5L264 300.5L260 298L256 294L252 289ZM221.1 284.4L223.5 285.2L228.5 287.3L233.2 290.3L235 292.8L233.2 294.2L229 292L224.5 289.3L221.5 286.5ZM321.2 337.8L325.2 339.2L329 343.5L332.9 348.6L331.9 350.3L328 346.6L324 342.3L321.8 340.2Z" fill="#7d4fa2"/>
<path d="M247.7 283L250.1 278.2L252 272.1L253.8 264.9L254.4 256.4L255.6 249.1L256.8 243.7L259.5 243.6L261.6 244.5L264.5 246.2L267.1 248.5L271.7 255L274.7 262.3L278.3 269.5L282 278L285 284.1L287.4 288.9L284 291L280 292.5L276 296L272 300L268 301.5L264 300.5L260 298L256 294L252 289ZM318.5 325.8L321 324.2L323.2 323.7L326 323.6L329.2 324.4L332 325.8L333.9 327.8L336 331.8L334.8 333.8L333.3 335.2L329.2 338.6L325.2 339.2L322.5 337.2L320.5 333.8L319.1 329.8ZM294.9 343.9L298.9 341.2L303.6 342.6L307.7 346L313.1 347.3L318.5 348.6L317.8 354L316.4 358.1L310.4 358.9L305 359L301.6 356.7L297.6 354L294.9 351.3L295.6 347.3Z" fill="#f7a11d"/>
<path d="M250.87 303.71h0.97v1.52h-0.97zM262.65 301.76h1.23v1.15h-1.23zM264.11 303.71h0.92v1.06h-0.92zM258.69 299.52h1.14v1.25h-1.14zM265.66 300.06h1.73v1.54h-1.73zM257.04 310.05h1.14v1.22h-1.14zM251.67 311.28h1.04v1.74h-1.04zM257.56 304.68h1.22v1.59h-1.22zM267.8 299.13h1.55v1.72h-1.55zM267.52 296.59h0.92v1.19h-0.92zM268.49 297.8h1.25v0.97h-1.25zM258.13 297.93h1.69v1.19h-1.69zM257.36 301.42h1.59v1.37h-1.59zM257.73 298.31h0.95v1.25h-0.95zM252.93 308.83h1.11v0.94h-1.11zM248.1 305.06h1.04v1.44h-1.04zM249.23 305.27h0.93v1.18h-0.93zM270.49 297.69h1.28v1.39h-1.28zM254.5 298.46h1.02v1.54h-1.02zM266.47 297.16h1.13v1.55h-1.13zM265.17 301.67h1.5v1.03h-1.5zM262.96 302.22h1.08v1.15h-1.08zM248.39 303.85h1.54v1.26h-1.54zM252.29 307.2h1.25v1.68h-1.25zM249.11 303.29h1.1v1.16h-1.1zM253.52 311.42h1.21v1.09h-1.21zM267.25 295.82h0.94v0.92h-0.94zM253.44 304.12h1.47v1.41h-1.47zM245.8 305.88h1.63v1.78h-1.63zM247.88 303h1.17v1.5h-1.17zM247.46 306.28h1.73v1.09h-1.73zM260.28 303.77h1.52v1.5h-1.52zM262.56 303.06h1.76v1.68h-1.76zM273.21 296.35h1.11v1.47h-1.11zM249.66 305.68h0.98v1.28h-0.98zM267.23 300.86h1.25v0.95h-1.25zM259.83 298.87h1.25v1.2h-1.25zM264.64 298.1h1.35v1.15h-1.35zM248.75 303.09h1.04v1.26h-1.04zM254.63 309.81h1.33v1.05h-1.33zM270.56 295.21h1.5v1.12h-1.5zM262.06 300.11h0.98v1.21h-0.98zM263.95 301.98h1.28v1.04h-1.28zM246 309.58h1.42v1.53h-1.42zM258.25 305.89h1.4v1.53h-1.4zM269.43 299.11h0.92v1.25h-0.92zM256.8 309.17h1.23v0.96h-1.23zM247.9 311.78h1.26v0.95h-1.26zM249.09 302.68h1.35v1.43h-1.35zM256.27 304.93h1.32v1.19h-1.32zM258.88 306.59h1.13v0.92h-1.13zM248.26 310.17h1.21v1.7h-1.21zM251.48 311.08h1.41v1.14h-1.41zM252.84 307.75h1.5v1.07h-1.5zM255.26 302.07h1.32v1.45h-1.32zM249.43 303.94h1.76v1.23h-1.76zM267.27 302.26h1.42v1.75h-1.42zM254.24 301.32h1.59v1.46h-1.59zM261.89 298.08h1.46v1.27h-1.46zM259.96 305.62h1.27v1.15h-1.27zM260.79 294.97h1.65v1.69h-1.65zM259.62 306.92h1.24v1.72h-1.24zM253.34 303.24h0.93v1.02h-0.93zM260.55 296.42h1.36v1.18h-1.36zM254.73 300.68h1.22v1.78h-1.22zM248.52 307.98h1.03v1.07h-1.03zM256.34 301.89h1.11v1.51h-1.11zM252.19 308.25h1.11v0.9h-1.11zM271.13 297.97h1.39v1.25h-1.39zM271.18 296.81h1.12v1.34h-1.12zM248.07 309.7h1.49v1.39h-1.49zM256.95 306.97h1.46v1.4h-1.46zM247.96 304.66h1.65v1.77h-1.65zM259.98 307.08h1.2v1.21h-1.2zM246.24 304.61h1.7v1.18h-1.7zM272.11 296h1.54v1.53h-1.54zM249.14 306.71h1.52v1.77h-1.52zM267.36 300.52h1.64v1.04h-1.64zM257.64 300.89h1.46v1.34h-1.46zM262.72 294.63h1.41v1.23h-1.41zM269.91 297.57h1.16v1.57h-1.16zM255.74 301.29h1.38v1.11h-1.38zM262.98 296.16h1.12v1.19h-1.12zM261.99 297.85h1.06v1.36h-1.06zM268.83 299.3h1.01v0.96h-1.01zM252.25 311.98h0.96v0.99h-0.96zM255.03 306.7h1.53v1h-1.53zM260.81 301.41h1.31v1.59h-1.31zM266.76 299.22h1.33v1.05h-1.33zM261.09 306.52h1.68v1.68h-1.68zM259.21 297.56h0.95v1.13h-0.95zM261.04 305.23h1.36v1.62h-1.36zM262.71 300.99h1.25v1.54h-1.25zM259.45 299.22h1.13v1.54h-1.13zM263.76 301.96h1.19v1.2h-1.19zM247.34 310.92h1.58v1.66h-1.58zM266.03 298.94h1.65v1.41h-1.65zM249.55 311.99h1.28v1.54h-1.28zM262.77 296.31h1.46v1.65h-1.46zM258.4 298.26h1.62v1.01h-1.62zM255.72 297.11h1.24v1.5h-1.24zM258.29 306.82h1.11v1.07h-1.11zM256.1 308.05h0.91v1.43h-0.91zM259.08 303.42h1.75v1.77h-1.75zM253.46 305.52h1.02v1.52h-1.02zM263.44 296.16h1.28v1.47h-1.28zM261.34 305.81h1.26v1.74h-1.26zM259.14 301.08h1.79v0.94h-1.79zM255.2 308.28h1.54v1.01h-1.54zM258.42 308.25h0.94v1.16h-0.94zM268.71 300.93h1.56v1.79h-1.56zM253.93 308.44h1.01v1.2h-1.01zM257.94 301.14h0.92v1.39h-0.92zM258.73 300.38h1.33v1.24h-1.33zM257.94 304.7h1.18v1.62h-1.18zM253.84 308.77h1.65v1.16h-1.65zM254.37 311.12h1.25v1.46h-1.25zM265.36 303.26h1.59v1.78h-1.59zM264.44 300.29h1.25v1.52h-1.25zM254.66 302.35h1.39v1.62h-1.39zM258.19 309.33h1.03v1.06h-1.03zM258.79 298.22h1v1.74h-1zM247.88 309.66h1.13v1.34h-1.13zM256.03 301.72h1.01v1.19h-1.01zM250.66 308.34h0.92v1.41h-0.92zM269.03 298.36h1.03v1.46h-1.03zM261.21 304.95h1.15v1.1h-1.15zM262.21 300.04h1.33v1.23h-1.33zM255.13 299.59h1.13v0.95h-1.13zM271.59 295.72h0.96v1.7h-0.96zM248.24 309.62h1.18v0.97h-1.18zM267.64 301.63h1.06v1.34h-1.06zM268.51 300.62h1.8v1.08h-1.8zM259.48 304.27h1.68v1.34h-1.68zM260.56 307.32h1.27v1.63h-1.27zM257.6 302.3h1.26v0.95h-1.26zM265.14 300.19h1.4v1.49h-1.4zM257.59 299.83h1.46v1.15h-1.46zM258.8 307.68h1.74v1.68h-1.74zM254.17 298.01h1.79v1.3h-1.79zM262.42 298.37h1.65v1.55h-1.65zM259.47 298.63h1.06v0.92h-1.06zM268.32 295.57h1.05v1.01h-1.05zM258.57 298.95h0.97v1.22h-0.97zM262.79 297.32h1.58v1.18h-1.58zM267.7 297.22h1.36v0.91h-1.36zM260.42 295.1h1.09v1.76h-1.09zM269.39 295.84h0.91v1.37h-0.91zM263.02 303.96h1.63v1.61h-1.63zM265.34 295.9h1.56v1.26h-1.56zM271.77 295.86h1.62v1.64h-1.62zM251.25 304.16h1.59v1.79h-1.59zM250.07 309.51h0.99v1.76h-0.99zM254.54 301.73h1.26v1.53h-1.26zM255.87 306.85h1.13v1.72h-1.13zM266.18 303.08h0.92v1.42h-0.92zM261.81 302.85h1.1v1.25h-1.1zM271.53 297.07h1.23v1.49h-1.23zM266.18 300.52h1.63v1.23h-1.63zM249.07 306.05h1.47v1.22h-1.47zM250.64 301.58h1.15v1.71h-1.15zM262.59 296.17h1.19v0.98h-1.19zM272.28 296.79h1.2v1.57h-1.2zM264.33 296.18h1.09v1.57h-1.09zM251.25 300.4h1.39v1.51h-1.39zM252.83 304.47h1.06v1h-1.06zM261.39 300.91h1.03v1.22h-1.03zM262.01 298.21h1.29v0.91h-1.29zM261.78 294.86h1.35v1.26h-1.35zM267.93 296.83h1.19v1.38h-1.19zM247.78 310.6h1.76v1.08h-1.76zM258.58 296.7h1.69v1.19h-1.69zM252.13 305.03h1.58v1h-1.58zM261.36 299.25h1.79v1.29h-1.79zM262.56 296.72h1.77v1.1h-1.77zM253.74 310.83h1.27v1.54h-1.27zM267.46 301.14h1.06v1.15h-1.06zM250.63 304.26h1.51v1.75h-1.51zM258.58 301.93h1.19v1.07h-1.19zM254.31 306.52h1.22v1.79h-1.22zM250.08 301.89h1.03v1.47h-1.03zM249.53 301.41h1.24v1.48h-1.24zM250.49 303.89h1.09v1.45h-1.09zM252.23 311.4h1.7v1.67h-1.7zM263.88 295.02h1.47v1.35h-1.47zM256.99 303.7h1.41v1h-1.41zM258.8 301.85h1.65v1.52h-1.65zM269.27 296.42h1.31v1.5h-1.31zM253.95 305.78h1.28v1.25h-1.28zM249.06 302.55h1.11v1.44h-1.11zM260.55 298.74h1.42v1.36h-1.42zM251.97 308.08h0.93v1.46h-0.93zM271.55 296.11h1.3v1.43h-1.3zM248.87 304.08h1.44v1.74h-1.44zM249.58 307.15h1.04v1.32h-1.04zM254.03 303.44h1.79v1.56h-1.79zM270.89 297.97h1.18v1.56h-1.18zM250.77 309.87h1.79v1.26h-1.79zM260.62 298.86h1.68v1.01h-1.68zM263.96 299.99h1.79v1.34h-1.79zM266.13 296.67h1.11v1.66h-1.11zM257.3 297.26h1.48v1.74h-1.48zM248.68 306.98h1.65v1.62h-1.65zM268.24 300.99h1.36v1.79h-1.36zM262.63 298.39h0.96v1.68h-0.96zM271.2 297.78h1.54v1.13h-1.54zM253.21 306.18h1.63v1.31h-1.63zM258.73 295.57h1.38v1.68h-1.38zM260.86 295.26h1.08v1.15h-1.08zM260.84 302.35h1.48v0.97h-1.48zM252.43 299.36h1.4v1.61h-1.4zM250.73 311.04h1.34v1.12h-1.34zM250.41 304.45h1.62v1.67h-1.62zM254.51 303.25h1.59v1.39h-1.59zM260.13 303.55h1.72v1.62h-1.72zM263.12 298.74h1.04v1.23h-1.04zM261.39 299.27h0.99v0.93h-0.99zM252.93 304.23h1.21v1.68h-1.21zM254.6 305.75h1.65v1.01h-1.65zM263.54 295.37h1.06v1.25h-1.06zM256.15 298.86h1.66v1.46h-1.66zM248.87 308.49h1.71v0.96h-1.71zM249.3 302.88h1.79v1.09h-1.79zM247.92 304.44h1.47v1.69h-1.47zM255.78 300.7h1.55v1.08h-1.55zM258.66 301.63h1.5v1.29h-1.5zM256.6 308.85h0.91v1.21h-0.91zM257.54 298.83h1.18v1.47h-1.18zM259.35 301.68h1.15v1.44h-1.15zM251.17 301.55h1.53v1.06h-1.53z" fill="#f7a11d"/>
<path d="M235.3 315.94h0.89v1.01h-0.89zM242.23 311.95h1.06v0.97h-1.06zM244.2 312.05h1.16v0.88h-1.16zM244.72 309.09h1.2v1.02h-1.2zM242.67 313.05h0.86v1.19h-0.86zM247.48 311.81h1.17v0.84h-1.17zM236.24 315.97h1.05v0.91h-1.05zM234.45 321.34h1.04v0.89h-1.04zM243.41 313.63h0.83v1.12h-0.83zM238.73 318.85h0.95v1.06h-0.95zM237.87 316.09h0.93v0.85h-0.93zM237.23 318h0.92v1.01h-0.92zM238.78 310.53h0.87v0.95h-0.87zM241.27 307.23h0.93v1.13h-0.93zM243.15 308.26h1.07v1.09h-1.07zM238.38 313.9h0.81v0.94h-0.81zM240.08 317.23h1.18v1.01h-1.18zM239.43 309.59h1.01v1.09h-1.01zM243.02 319.71h0.95v1.04h-0.95zM240.86 315.98h0.84v1.08h-0.84zM234.06 319.85h0.94v0.9h-0.94zM235.08 317.14h1.19v1.08h-1.19zM244.85 307.71h1.14v0.88h-1.14zM240.6 311.14h1.11v0.82h-1.11zM245 310.02h0.87v0.85h-0.87zM234.75 315.69h1.1v0.94h-1.1zM238.93 316.58h1.14v0.89h-1.14zM234.99 315h1.04v1.12h-1.04zM238.89 314.35h1.18v1.06h-1.18zM238.76 310.97h0.95v0.84h-0.95z" fill="#f7a11d"/>
<path d="M310.06 303.35h1.03v0.99h-1.03zM305.25 301.09h1.03v1.14h-1.03zM291.89 289.84h1.16v0.96h-1.16zM311.42 311.01h1.08v0.87h-1.08zM296.52 291.19h0.82v0.99h-0.82zM301.95 299.55h0.98v0.82h-0.98zM297.16 291.76h0.84v1.01h-0.84zM294.32 289.24h1.27v1.22h-1.27zM303.69 301.17h0.82v0.96h-0.82zM301.3 298.63h0.98v0.96h-0.98zM313.41 310.11h0.87v1.1h-0.87zM304.71 300.96h1.22v0.99h-1.22zM300.27 296.84h0.89v0.85h-0.89zM314.2 309h0.81v1.18h-0.81zM312.19 310.35h0.92v1.16h-0.92zM315.48 308.05h1.2v0.84h-1.2zM297.26 293.13h0.89v0.96h-0.89zM304.32 301.61h1.18v1.17h-1.18zM297.82 296.41h0.95v1.03h-0.95zM292.58 291.07h0.98v1.04h-0.98zM312.75 305.42h1.2v0.93h-1.2zM308.13 304.04h1.21v1.26h-1.21zM295.87 292.08h1.1v1.28h-1.1zM313.86 311.46h1.27v0.89h-1.27zM291.64 291.33h1.3v0.9h-1.3zM306.72 302.92h1.2v0.86h-1.2zM303.37 299.82h0.95v1.02h-0.95zM306.95 303.77h1.22v1.14h-1.22zM288.76 291.14h0.9v1.25h-0.9zM295.02 289h1.23v1.05h-1.23zM301.39 299.5h0.83v0.94h-0.83zM310.73 307.19h0.95v1.01h-0.95zM308.79 303.94h1.27v1.1h-1.27zM312.31 306.48h1.21v0.84h-1.21zM315.24 306.45h0.92v1.17h-0.92zM288.85 290.18h0.97v0.91h-0.97zM315.05 309.39h0.83v0.83h-0.83zM287.39 289.53h1.01v1.07h-1.01zM308.37 302.74h1v1.08h-1zM314.97 308.52h0.95v0.81h-0.95zM300.01 296.67h1.14v0.97h-1.14zM305.27 301.13h1.05v0.99h-1.05zM293.01 288.5h0.93v0.83h-0.93zM311.79 304.8h0.95v0.95h-0.95zM303.11 302.46h0.86v0.81h-0.86zM311.21 310.05h1.04v0.81h-1.04zM309.32 304.27h1.24v0.98h-1.24zM288.73 290.23h1.02v1.06h-1.02zM288.28 291.57h0.81v0.85h-0.81zM295.2 292.39h1.19v1.08h-1.19zM312.76 311.81h1.05v0.97h-1.05zM302.79 300.23h1.18v1.05h-1.18zM304.19 300.92h1.2v1.22h-1.2zM310.72 305.24h1.25v1.16h-1.25zM310.09 303.14h1.14v1.03h-1.14zM310.53 309.57h1.07v1.09h-1.07zM296.26 290.48h1.06v1.21h-1.06zM292.78 288.16h1.23v0.83h-1.23zM300 299.47h1.18v1.11h-1.18zM309.22 305.15h1.1v1.25h-1.1zM291.76 288.69h0.82v1.04h-0.82zM292.52 290.38h0.99v1.27h-0.99zM299.01 296.91h0.88v1.08h-0.88zM312.15 310.35h0.87v1.18h-0.87zM312.25 304.1h1.04v1.17h-1.04zM316.04 306.86h0.95v1.24h-0.95zM289.37 290.69h0.8v0.91h-0.8zM290.71 290.97h1.17v1.24h-1.17zM295.08 289.01h1.19v0.94h-1.19zM313.46 306.86h0.84v1.15h-0.84zM311.18 309.94h1.17v0.83h-1.17zM313.33 307h1.27v1.06h-1.27zM312.53 310.45h0.82v1.04h-0.82zM292.75 289.74h0.97v0.85h-0.97zM313.57 306.59h1.24v1.27h-1.24zM304.36 303.19h0.86v1.02h-0.86zM314.35 307.24h0.94v1.14h-0.94zM299.86 294.06h0.85v0.97h-0.85zM315.02 306.12h1.01v1.04h-1.01zM310.58 305.78h1.02v1.1h-1.02zM289.48 291.18h1.27v1.27h-1.27zM312.1 310.98h1.25v1.21h-1.25zM290.29 291.23h0.91v0.92h-0.91zM304.42 301.46h1.03v1.12h-1.03zM299.7 298.87h1.1v0.97h-1.1z" fill="#f7a11d"/>
<path d="M293.76 288.47h0.96v0.97h-0.96zM314.09 311.19h0.98v1.17h-0.98zM309.26 309.22h1.07v0.75h-1.07zM301.38 298.59h1.19v0.71h-1.19zM287.84 296.2h0.73v1.11h-0.73zM313.93 307.91h0.84v0.71h-0.84zM298.77 292.85h0.79v0.95h-0.79zM307.44 302.57h1.12v0.71h-1.12zM305.52 302.39h0.78v0.71h-0.78zM315.11 307.17h0.73v0.86h-0.73zM311.5 306.06h0.95v1.18h-0.95zM302.37 305.43h1.02v1.13h-1.02zM294.96 294.61h1v1.16h-1zM311.9 305.5h1.04v0.82h-1.04zM294.93 293.85h0.89v0.94h-0.89zM300.36 294.24h0.75v1.16h-0.75zM296.15 289.74h0.94v0.8h-0.94zM292.05 293.07h0.95v1.1h-0.95zM298.47 298.05h0.84v0.99h-0.84zM312.79 309.74h0.75v0.82h-0.75zM299.42 300.07h0.79v0.95h-0.79zM294.24 292.24h1.04v0.81h-1.04zM297.04 300.36h1.04v0.99h-1.04zM311.79 304.07h1.08v1.2h-1.08zM315.17 305.56h0.87v1.2h-0.87zM293.59 292.45h0.93v0.95h-0.93zM291.6 291.08h0.79v0.74h-0.79zM306.03 307.7h1.02v0.75h-1.02zM291.66 291.8h0.72v0.74h-0.72zM313.55 309.8h0.97v0.8h-0.97zM285.27 296.62h0.83v1.08h-0.83zM285.74 295.05h0.92v0.77h-0.92zM297.92 290.83h1.04v1.2h-1.04zM301.09 304.84h1.01v0.92h-1.01zM288.01 291.12h0.97v1.05h-0.97zM304.55 306.77h1.12v1.09h-1.12zM302.79 298.56h0.82v1.09h-0.82zM305.98 307.12h0.75v0.76h-0.75zM310.72 307.04h0.95v0.79h-0.95zM293.91 292.81h0.98v0.84h-0.98zM292.91 298.17h1.17v0.92h-1.17zM308.27 308.65h1.11v1.17h-1.11zM293.46 300.92h0.93v1.08h-0.93zM301.73 300.62h0.95v0.9h-0.95zM299.36 292.88h0.76v1.03h-0.76zM309.52 310.23h1.16v1.04h-1.16zM302.26 297.61h0.86v0.96h-0.86zM305.86 304.99h0.88v0.9h-0.88zM310.41 309.68h1.09v0.7h-1.09zM284.27 296.18h0.94v0.96h-0.94zM311.3 310.14h0.77v1.07h-0.77zM292.1 289.14h0.83v0.9h-0.83zM298.98 292.98h0.82v1h-0.82zM307.62 306.1h0.92v1.04h-0.92zM291.48 290.31h0.91v1.09h-0.91zM311.85 305.05h0.98v0.75h-0.98zM300.51 302.32h0.95v0.83h-0.95zM305.82 301.02h0.85v1.17h-0.85zM293.14 301.49h0.94v1.07h-0.94zM312.69 310.24h0.78v1.01h-0.78zM306.38 304.13h0.76v0.81h-0.76zM300.84 300.51h0.76v0.71h-0.76zM303.64 300.81h1.15v1.18h-1.15zM293.02 296.9h0.88v0.71h-0.88zM295.15 291.42h1.07v1.03h-1.07zM300.65 295.92h0.72v1.08h-0.72zM296.25 290.14h0.73v0.82h-0.73zM303.26 302.86h1.09v1.08h-1.09zM305.47 301.18h0.82v0.95h-0.82zM293.23 288.64h1.1v1h-1.1zM294.71 300.2h0.96v0.79h-0.96zM293.08 291.85h0.73v0.79h-0.73zM290.36 293.43h0.96v1h-0.96zM295.37 298.2h0.93v1.02h-0.93zM296.66 301.56h0.98v1.02h-0.98z" fill="#f7a11d"/>
<path d="M286.4 288.47h0.89v1.09h-0.89zM284.36 282.53h0.91v0.77h-0.91zM278.69 269.92h0.77v0.97h-0.77zM286.77 285.74h0.91v0.86h-0.91zM272.15 258.35h0.9v0.86h-0.9zM277.45 267.59h0.97v0.94h-0.97zM287.08 286.65h0.72v0.9h-0.72zM277.16 265.85h0.8v0.93h-0.8zM275.45 265.2h0.89v1h-0.89zM281.66 276.15h1.09v1h-1.09zM283.2 280.12h0.95v0.9h-0.95zM288.18 287.95h0.75v0.99h-0.75zM283.82 281.17h0.78v0.85h-0.78zM273.89 260.38h0.93v0.81h-0.93zM278.37 271.63h1.05v0.92h-1.05zM280.99 277.9h1.09v0.71h-1.09zM276.69 265.64h0.89v0.83h-0.89zM285.79 285.64h0.93v0.96h-0.93zM281.28 274.68h0.94v1.08h-0.94zM278.18 269.31h0.88v0.85h-0.88zM285.03 282.61h1v0.92h-1zM283.06 280.02h0.81v1.07h-0.81zM279.7 272.12h0.79v0.73h-0.79zM285.28 286.35h0.92v1.06h-0.92zM271.67 256.45h1.04v1.03h-1.04zM281.59 280.53h0.94v0.9h-0.94zM282.93 282.73h0.82v0.77h-0.82zM280.9 274.68h0.88v1.03h-0.88zM279.03 274.52h0.92v1.09h-0.92zM272.88 261.02h1.02v0.92h-1.02zM285.55 284.23h0.94v0.87h-0.94zM283.33 279.89h1.06v1.03h-1.06zM279.4 272.63h0.77v1.06h-0.77zM286.52 287.67h0.97v0.84h-0.97zM282.21 278.14h1v0.87h-1zM286.71 288.04h0.98v0.9h-0.98zM282.25 279.84h0.95v1.07h-0.95zM284.8 284.33h1.06v0.89h-1.06zM283.88 282.74h0.85v0.99h-0.85zM273.48 259.98h0.97v0.74h-0.97zM284.96 286.52h0.9v0.81h-0.9zM277.87 269.45h0.96v0.77h-0.96zM275.29 264.73h0.82v0.8h-0.82zM278.78 270.29h0.81v0.93h-0.81zM277.68 270.08h1.05v0.96h-1.05z" fill="#f7a11d"/>
<path d="M289.9 324.48h1.01v0.9h-1.01zM300.13 320.43h1.02v1.03h-1.02zM289.08 324.02h0.97v1.18h-0.97zM288.99 323.02h0.8v0.78h-0.8zM313.66 313.11h0.87v0.74h-0.87zM310.27 315.23h0.97v1.14h-0.97zM311.23 315.97h0.86v0.81h-0.86zM286.22 326.21h1.02v1.01h-1.02zM308.14 317.04h0.74v1.1h-0.74zM287.67 323.69h0.99v0.87h-0.99zM287.83 324.16h0.87v0.88h-0.87zM300.59 320.37h0.94v0.96h-0.94zM286.7 324.85h0.8v0.88h-0.8zM286.56 326.91h0.77v1.05h-0.77zM291.7 322.58h0.94v1.05h-0.94zM308.39 317.41h1.17v0.9h-1.17zM294.05 322.01h1.1v1.16h-1.1zM302.26 318.78h0.8v1.03h-0.8zM314.05 312.91h0.94v1.01h-0.94zM286.66 324.2h1v0.91h-1zM311.87 314.62h0.93v1.06h-0.93zM311.17 315.12h0.71v0.72h-0.71zM285.22 326.79h0.85v1.15h-0.85zM284.12 325.39h1.09v1h-1.09zM312.43 314.79h1.15v0.89h-1.15zM289.34 322.4h1v1.19h-1zM300.08 320.58h1.15v1.07h-1.15zM284.79 325.72h0.9v0.83h-0.9zM292.79 322.39h1.17v1.13h-1.17zM310.58 315.29h0.89v0.9h-0.89z" fill="#fff"/>
<path d="M235.29 313.16h0.79v1.04h-0.79zM239.82 307.3h0.89v0.81h-0.89zM243.77 304.62h0.91v0.91h-0.91zM246.85 304.97h0.93v0.99h-0.93zM242.15 302.13h1.06v0.79h-1.06zM237.45 319.41h0.94v0.72h-0.94zM241.14 309.07h0.79v0.83h-0.79zM230.13 315.32h1v1.1h-1zM236.97 313.33h0.79v1.02h-0.79zM240.49 318.34h0.83v0.7h-0.83zM237.51 323.52h0.8v0.82h-0.8zM240.88 300.39h0.88v1.04h-0.88zM244.13 308.75h0.92v0.96h-0.92zM236.32 303.07h0.73v0.77h-0.73zM231.03 311.85h0.89v0.79h-0.89zM229.18 313.1h0.71v1.03h-0.71zM240.71 306.63h0.85v1.04h-0.85zM232.87 306.24h1.02v0.87h-1.02zM237.79 302.38h0.77v1.05h-0.77zM236.22 315.07h0.86v0.7h-0.86zM236.13 305.48h0.9v1.04h-0.9zM236.23 307.31h1.07v0.94h-1.07zM230.41 310.34h0.9v1.08h-0.9zM233.8 317.6h1.05v0.76h-1.05zM236.17 319.65h0.8v0.75h-0.8zM243.24 307.22h1.02v1.06h-1.02zM237.02 304.13h0.99v0.92h-0.99zM241.05 309.81h0.89v0.72h-0.89zM233.35 310.85h0.99v1.04h-0.99zM239.7 313.98h0.91v0.76h-0.91zM241.82 308.99h1v0.74h-1zM236.94 302.48h0.76v0.75h-0.76zM244.79 308.13h0.87v0.98h-0.87zM236.48 305.03h0.86v0.82h-0.86zM234.57 306.56h0.81v0.86h-0.81zM242.31 303.39h0.84v0.75h-0.84zM236.79 312.6h0.92v0.82h-0.92zM243.53 319.37h1.05v1.1h-1.05zM244.99 303.03h0.77v1.02h-0.77zM236.84 322.45h0.78v1.06h-0.78zM234.46 304.76h0.9v1.05h-0.9zM240.31 306.61h0.92v0.96h-0.92zM242.24 321.47h0.87v0.98h-0.87zM231.41 319.86h0.84v0.99h-0.84zM241.13 315.66h0.9v0.82h-0.9zM285.83 320.24h0.81v0.88h-0.81zM279.8 313.76h0.92v0.99h-0.92zM280.87 323.19h1.04v1.02h-1.04zM281.18 338.33h1.05v0.99h-1.05zM279.73 317.6h0.87v1.08h-0.87zM279.54 342.59h0.83v0.99h-0.83zM280.05 339.75h0.76v0.71h-0.76zM279.34 327.14h0.78v0.88h-0.78zM285.58 324.31h0.78v0.82h-0.78zM285.92 318.96h0.84v0.97h-0.84zM286.03 318.05h0.71v0.91h-0.71zM281.35 322.01h0.96v0.98h-0.96zM281.32 334.77h0.72v1.04h-0.72zM286.37 321.62h0.77v0.81h-0.77zM279.11 325.17h1.06v0.87h-1.06zM280.58 316.48h0.8v0.75h-0.8zM281.86 331.39h0.86v1.02h-0.86zM281 319.1h0.9v0.87h-0.9zM280.36 339.01h0.91v0.98h-0.91zM279.65 313.06h1.07v0.82h-1.07zM280.56 338.21h1.08v0.75h-1.08zM286.14 322.39h0.82v0.8h-0.82zM281.06 335.03h0.89v1.04h-0.89zM281.23 324.68h1.05v0.71h-1.05zM281.54 328.67h0.86v0.84h-0.86zM278.72 325.65h0.99v0.77h-0.99zM281.21 344.19h1.1v0.74h-1.1zM279.14 342.62h1.04v0.86h-1.04zM281.07 318.27h0.72v0.85h-0.72zM278.83 334.04h0.96v1.05h-0.96zM248.74 341.29h0.86v0.72h-0.86zM296.18 300.18h0.78v0.79h-0.78zM278.61 351.37h0.7v0.84h-0.7zM273.88 328.09h0.84v0.87h-0.84zM234.34 312.49h0.75v0.83h-0.75zM250.13 329.47h0.77v0.76h-0.77zM308.19 302.61h0.89v0.81h-0.89zM233.58 310.39h0.83v0.87h-0.83zM271.2 332.73h0.83v0.81h-0.83zM240.89 305.44h0.76v0.82h-0.76zM279.06 351.35h0.77v0.84h-0.77zM276.24 358.68h0.86v0.81h-0.86zM276.88 364.39h0.77v0.85h-0.77zM264.74 331.29h0.71v0.75h-0.71zM248.62 286.03h0.71v0.71h-0.71z" fill="#f7a11d"/>
<path d="M280.72 289.65h1.29v1.08h-1.29zM268.78 302.16h1.1v1.27h-1.1zM255.68 294.88h1.15v0.87h-1.15zM260.96 298.99h1.03v0.87h-1.03zM267.35 299.62h1.2v1.27h-1.2zM274.46 300.08h1.18v0.83h-1.18zM253.56 290.7h1.04v0.81h-1.04zM277.2 291.89h1.21v1.25h-1.21zM271.92 296.27h0.92v1.23h-0.92zM266.86 301.67h0.83v0.89h-0.83zM260.67 299.34h1.36v0.93h-1.36zM251.37 291.07h1.19v1.36h-1.19zM250.23 286.33h1.26v1.07h-1.26zM267.82 299h1.06v1.04h-1.06zM268.63 299.87h0.89v1.27h-0.89zM271.35 295.86h1.11v1.26h-1.11zM272.06 298.77h1.09v0.94h-1.09zM256.03 297.07h0.95v0.87h-0.95zM254.54 290.43h1.23v1.1h-1.23zM279.24 290.76h1.03v1.39h-1.03zM247.86 289.85h1.02v1.01h-1.02zM284.84 291.25h0.93v0.97h-0.93zM277.34 297.28h0.95v1.11h-0.95zM272.27 298.94h1.05v1.08h-1.05zM261.51 300.88h1.3v1.01h-1.3zM273.02 296.25h1.16v1.11h-1.16zM257.31 294.41h1.37v1.16h-1.37zM252.84 287.03h1.36v1.02h-1.36zM253.02 290.72h0.92v0.92h-0.92zM277.82 296.81h1.29v0.87h-1.29zM270.78 301.19h0.97v1.31h-0.97zM253.62 289.09h0.84v1.22h-0.84zM257.07 291.15h1.04v0.93h-1.04zM246.05 283.56h1.37v1.32h-1.37zM276.63 297.51h0.93v0.88h-0.93zM251.65 289.22h1.13v0.84h-1.13zM255.13 290.2h1.37v1h-1.37zM250.9 285.96h0.99v0.83h-0.99zM270.31 301.07h1.09v1.14h-1.09zM259.59 293.98h0.88v1.22h-0.88zM260.31 297.66h1.11v1.29h-1.11zM247.35 283.82h1.35v1.32h-1.35zM263.56 298.55h1.06v1.01h-1.06zM250.58 286.77h1.18v1.04h-1.18zM259.62 298.84h1.07v0.95h-1.07zM258.7 295.95h0.89v0.86h-0.89zM283.6 290.45h1.18v1.35h-1.18zM246.22 288.53h1.39v0.96h-1.39zM257.39 292.61h0.92v0.85h-0.92zM266.24 301.25h0.86v1.29h-0.86zM277.31 298.01h1.01v1.02h-1.01zM276.95 292.89h0.92v1.22h-0.92zM254.46 293.54h0.91v1.37h-0.91zM246.27 287.02h0.81v1.36h-0.81zM245.17 286.95h1.05v1.07h-1.05zM279.45 292.08h1.1v0.94h-1.1zM251.46 289.57h1.35v1.11h-1.35zM261.91 301.5h1.13v1.32h-1.13zM247.7 289.44h1.2v1.3h-1.2zM257.63 296.65h0.87v0.98h-0.87zM249.98 285.33h0.93v1.11h-0.93zM252.66 287.52h0.96v1.34h-0.96zM252.17 292.31h0.93v1.03h-0.93zM266.23 297.73h1.04v0.99h-1.04zM259.62 300.13h1.23v1.1h-1.23zM267.4 298.79h1.28v1.01h-1.28zM259.57 297.02h1.3v1.3h-1.3zM250.24 290.7h1.04v1.36h-1.04zM276.01 299.5h1.36v0.93h-1.36zM278.16 291.23h1.13v1.32h-1.13zM250.06 289.76h0.94v1.32h-0.94zM267.14 300.5h0.98v1.29h-0.98zM276.55 296.84h1.03v1.37h-1.03zM254.39 294.34h1.33v1.03h-1.33zM278.22 294.59h0.81v1.17h-0.81zM249.73 284.61h1.14v0.98h-1.14zM262.37 297.81h1.35v1.05h-1.35zM268.32 300.9h1.12v0.94h-1.12zM273.7 297.91h1.24v1.12h-1.24zM265.63 302.54h0.89v1.36h-0.89zM264.85 301.55h0.97v0.88h-0.97zM262.83 299.6h1.23v1.05h-1.23zM276.09 295.62h1.28v1.06h-1.28zM254.02 294.78h1.13v1.23h-1.13zM246.12 284.17h1.32v0.9h-1.32zM280.7 292.18h0.87v1.09h-0.87zM255.87 290.27h0.89v1.28h-0.89zM246.61 281.68h1v1.01h-1zM277.5 293.64h0.85v0.96h-0.85zM260.81 294.79h1.02v0.96h-1.02zM271.28 298.12h0.93v0.97h-0.93zM262.3 301.82h1.23v0.87h-1.23zM277.1 296.08h1.1v1.19h-1.1zM286.35 288.83h0.81v1.29h-0.81zM274.02 298.63h1.25v0.95h-1.25zM252.17 289.14h0.84v0.84h-0.84zM269.82 299.68h1.32v0.83h-1.32zM249.43 291.51h1.16v1.15h-1.16zM255.55 292.42h1.19v1.07h-1.19zM277.18 293.59h1.07v1.08h-1.07zM251.15 288.6h1.25v0.86h-1.25zM255.9 295.39h0.96v1.1h-0.96zM272.79 294.93h1.05v1.17h-1.05zM262.55 298.45h1.04v1.38h-1.04zM250.17 290.55h0.93v1.35h-0.93zM278.95 290.05h0.81v1.29h-0.81zM287.06 289.87h0.86v0.97h-0.86zM259.87 296.31h1.05v1.35h-1.05zM254.56 294.99h0.88v1.11h-0.88zM260.87 298.97h1.27v1.09h-1.27zM264.22 302.93h1.23v1.4h-1.23zM275.27 295.86h1.28v0.95h-1.28zM279.84 289.94h1v1.13h-1zM251.16 290.84h1.25v1.39h-1.25zM253.51 293.45h1.31v1.27h-1.31zM273.86 299.42h1.17v1.23h-1.17zM277.69 290.26h1.32v1.28h-1.32zM283.03 291.97h0.9v0.94h-0.9zM278.59 289.99h1.04v1.38h-1.04zM269.29 300.63h0.99v1.29h-0.99z" fill="#7d4fa2"/>
<path d="M282.34 289.44h1.12v1.08h-1.12zM254.98 291.06h1.19v1.29h-1.19zM279.36 293.7h0.88v1.01h-0.88zM252.6 289.41h1.1v0.89h-1.1zM274.73 293.47h0.87v1.19h-0.87zM282.18 293.52h1.39v1.29h-1.39zM244.8 286.93h0.99v1h-0.99zM253.4 288.95h1.39v1.29h-1.39zM282.38 292.1h1.16v0.85h-1.16zM261.78 295.96h0.88v1.25h-0.88zM253.16 290.79h1.02v1.2h-1.02zM264.5 297.73h0.9v1.21h-0.9zM271.71 296.75h1.11v0.87h-1.11zM284.75 289.14h0.88v0.95h-0.88zM283.17 288h1.04v1.12h-1.04zM255.43 292.46h1.37v0.91h-1.37zM246.93 289.1h0.92v1.12h-0.92zM279.44 290.4h0.93v0.8h-0.93zM254.19 289.22h1.1v1.05h-1.1zM255.29 289.47h1.19v1.11h-1.19zM285.73 289.65h0.84v1.06h-0.84zM280.48 294.32h0.86v0.85h-0.86zM267.51 301.78h1.32v1.34h-1.32zM251.3 288.17h1.37v1.24h-1.37zM267.91 299.05h1.17v1.1h-1.17zM246.22 284.4h1.11v0.99h-1.11zM260.74 298.09h1.32v1.08h-1.32zM249.73 290.28h1.35v1.02h-1.35zM254.03 291.36h0.95v1.18h-0.95zM276.64 296.02h1.22v1.09h-1.22zM281.22 292.15h0.93v0.85h-0.93zM279.23 294.37h1.18v0.88h-1.18zM247.56 290.63h1.31v1.08h-1.31zM279.25 289.81h1.23v0.96h-1.23zM267.15 300.48h1.34v0.94h-1.34zM267.38 302.68h1.39v0.84h-1.39zM264.47 298.44h1.24v0.98h-1.24zM257.62 295.44h1.36v1.16h-1.36zM270.34 297.07h1.24v1.13h-1.24zM271.3 300.71h1.26v0.97h-1.26zM272.74 297.96h1.03v1.2h-1.03zM245.31 287.67h0.84v0.97h-0.84zM275.41 297.06h0.92v0.91h-0.92zM258.3 295.88h0.95v0.82h-0.95zM279.51 290.98h1.13v1.05h-1.13zM247.38 289.91h1.24v1.38h-1.24zM270.54 300.94h1.16v1.19h-1.16zM278.23 294.08h1.34v1.38h-1.34zM278.22 289.92h1.07v1.32h-1.07zM252.54 292.01h1.06v1.08h-1.06zM258.54 298.92h0.95v1.25h-0.95zM282.9 292.73h0.95v0.99h-0.95zM265.74 297.79h1.07v0.81h-1.07zM268.68 300.26h1.29v0.8h-1.29zM278.12 295.03h0.88v1.34h-0.88zM258.06 293.11h1.26v0.81h-1.26zM245.56 284.76h0.93v1.05h-0.93zM276.57 297.68h0.81v0.94h-0.81zM273.35 299.19h1.01v1.39h-1.01zM285.48 289.15h0.83v1.22h-0.83zM253.18 290.93h0.93v1.18h-0.93zM285 290.34h0.81v1.25h-0.81zM265.46 298.69h1.35v0.84h-1.35zM256.11 297.3h1.38v1.32h-1.38zM247.95 286.53h0.99v1.09h-0.99zM267.52 301.18h0.8v0.91h-0.8zM278.06 296.62h0.83v1.01h-0.83zM285.44 290.57h0.95v0.84h-0.95zM252.78 289.45h0.84v0.91h-0.84zM280.14 293.61h0.83v0.88h-0.83zM247.86 284.27h1.03v0.96h-1.03zM244.21 287.09h0.73v0.77h-0.73zM243.76 291.46h0.79v0.74h-0.79zM250.3 292.75h0.8v0.97h-0.8zM241.67 299.15h1v0.88h-1zM245.92 284.92h0.92v0.96h-0.92zM243.08 296.84h0.97v0.87h-0.97zM245.48 288.99h0.85v0.91h-0.85zM250.28 293.09h0.93v0.75h-0.93zM245.24 300.67h0.88v0.9h-0.88zM246.15 287.53h1v0.81h-1zM249.2 288.01h1.08v0.99h-1.08zM254.62 295.87h0.95v0.9h-0.95zM244.81 289.94h0.77v0.84h-0.77zM250.21 288.58h0.82v0.89h-0.82zM248.69 295.74h0.73v0.71h-0.73zM249.04 285.98h1.1v0.7h-1.1zM244.95 289.95h0.82v0.86h-0.82zM245.72 290.24h1.09v0.84h-1.09zM255.09 294.85h0.82v0.89h-0.82z" fill="#f7a11d"/>
<path d="M281.92 283.15h1.09v0.7h-1.09zM256.08 263.2h1v0.71h-1zM280.29 278.02h0.9v1.04h-0.9zM250.05 277.29h1v0.88h-1zM253.32 282.11h0.83v1.02h-0.83zM270.3 265.1h0.86v0.86h-0.86zM263.16 255.64h0.8v0.7h-0.8zM271.95 263.76h0.75v1.02h-0.75zM258.78 251.07h0.95v0.93h-0.95zM266.59 284.01h0.74v1.03h-0.74zM255.97 248.67h0.73v0.9h-0.73zM270.25 264.97h1.03v0.74h-1.03zM256.5 280.94h0.76v0.75h-0.76zM259.22 295.21h0.96v0.88h-0.96zM270.92 297.49h1.02v1.04h-1.02zM255.26 264.79h0.95v0.84h-0.95zM264.93 272.94h0.73v0.81h-0.73zM266.02 274.87h0.75v0.75h-0.75zM250.41 282.6h0.87v0.92h-0.87zM260.31 296.46h0.76v1.03h-0.76zM251.83 272.65h1.06v0.94h-1.06zM273.55 269.24h1.07v0.74h-1.07zM258.02 277.33h0.78v0.82h-0.78zM260.32 261.28h1.07v0.75h-1.07zM277.88 293.41h0.74v0.87h-0.74zM274.1 285.03h0.76v0.73h-0.76zM252.18 286.48h0.99v0.77h-0.99zM267.66 263.65h1.08v0.82h-1.08zM266.9 267.49h0.76v0.99h-0.76zM276.33 289.39h0.87v1.04h-0.87zM281.19 286.4h0.8v1.07h-0.8zM266.59 265.55h0.8v0.91h-0.8zM253 286.04h0.78v0.91h-0.78zM268.02 253.64h0.83v1.02h-0.83zM267.69 295h0.77v0.79h-0.77zM271.01 293.25h0.83v0.77h-0.83zM269.77 257.87h0.93v0.83h-0.93zM259.74 274.52h0.76v0.99h-0.76zM273.56 293.45h0.81v0.99h-0.81zM279.36 288.93h0.99v0.95h-0.99zM259.77 295.86h0.82v0.97h-0.82zM249.21 280.15h1.09v1.06h-1.09zM272.58 273.37h1.07v0.73h-1.07zM267.42 290.29h1.05v0.94h-1.05zM259.22 287.66h0.92v1.07h-0.92zM252.35 284.03h0.79v0.8h-0.79zM259.29 266.54h0.98v0.71h-0.98zM278.33 279.09h1.07v0.96h-1.07zM265.16 299.75h0.76v0.98h-0.76zM253.17 276.77h1.09v0.85h-1.09zM278.39 272.21h1.05v0.9h-1.05zM275.89 278.1h0.74v1.09h-0.74zM257.25 275.71h0.76v0.87h-0.76zM272.2 260.81h0.94v1.05h-0.94zM263.91 292h1.09v0.79h-1.09zM256.98 294.03h0.78v0.91h-0.78zM257 250.55h0.76v0.74h-0.76zM268.63 282.82h1.09v0.74h-1.09zM263.79 269.57h0.89v0.88h-0.89zM271.34 258.37h0.95v0.91h-0.95zM270.5 280.66h1.1v1.07h-1.1zM260.52 281.18h0.81v1.02h-0.81zM277.75 291.37h0.94v0.79h-0.94zM267.91 276.37h0.9v0.79h-0.9zM268.49 258.9h0.97v1.1h-0.97zM279.63 284.75h0.79v0.84h-0.79zM262.82 270.48h0.8v0.99h-0.8zM258.22 258.36h0.89v0.72h-0.89zM260.66 276.17h0.99v0.72h-0.99zM276.93 279.85h1.1v0.8h-1.1zM271.74 291.46h0.84v0.92h-0.84zM285.96 287.02h1.09v1.07h-1.09zM268.06 276.76h0.9v0.72h-0.9zM275.12 292h0.72v0.74h-0.72zM257.34 288.18h1.07v1.08h-1.07zM271 299.31h0.89v0.79h-0.89zM270.29 259.22h0.99v0.84h-0.99zM257.21 253.5h0.89v1.09h-0.89zM282.01 289.62h0.75v0.96h-0.75zM259.54 285.82h1.03v0.96h-1.03zM270.7 279.6h1.09v1.09h-1.09zM264.55 268.88h0.75v0.75h-0.75zM265.05 270.23h0.78v1.01h-0.78zM262.79 272.67h0.78v0.96h-0.78zM259.24 244.43h0.89v0.75h-0.89zM275.54 278.43h1.05v0.76h-1.05zM248.31 280.94h0.93v0.79h-0.93zM264.17 270.14h0.76v0.77h-0.76zM271.08 291.27h0.75v1.02h-0.75zM249.03 281.85h0.87v0.75h-0.87zM251.47 281.55h0.8v1.09h-0.8zM270.59 294.24h1.01v1.01h-1.01zM257.88 260.5h1v1.09h-1zM263.17 263.23h0.83v0.97h-0.83zM260.98 263.74h0.92v0.71h-0.92zM267.25 285.39h1.04v0.71h-1.04zM263.87 251.62h0.72v0.83h-0.72zM264.52 255.54h1.07v1.09h-1.07zM259.39 294.46h1.06v0.99h-1.06zM264.77 293.65h0.87v0.91h-0.87zM264.42 258.46h1.04v0.72h-1.04zM274.9 264.96h1.06v0.78h-1.06zM260.81 296.18h0.76v0.92h-0.76zM274.51 294.17h0.76v0.92h-0.76zM265.21 278.26h0.93v0.99h-0.93zM266.3 256.24h1.04v0.74h-1.04zM256.82 288.86h0.86v0.8h-0.86zM266.91 289.4h0.85v1.09h-0.85zM269.45 292.9h0.94v0.74h-0.94zM255.1 291.17h0.95v0.86h-0.95z" fill="#7d4fa2"/>
<path d="M256.09 261.12h0.81v0.95h-0.81zM255.09 265.98h1.02v0.74h-1.02zM254.69 250.16h0.89v1.02h-0.89zM255.11 261.69h1.11v0.76h-1.11zM255.23 255.06h0.92v0.73h-0.92zM253.68 276.89h0.79v0.9h-0.79zM255.77 263.47h0.92v1.18h-0.92zM255.27 279.38h0.84v1.08h-0.84zM250.84 276.32h0.83v0.75h-0.83zM249.82 284.74h1.05v1h-1.05zM253.5 266.86h1.14v0.96h-1.14zM252.72 264.77h0.82v1.18h-0.82zM253.92 274.3h1.1v0.85h-1.1zM255.85 267.36h1.05v0.95h-1.05zM250.74 285.99h1v1.12h-1zM253.53 281.02h0.94v0.84h-0.94zM254.34 275.57h0.71v0.95h-0.71zM252.1 264.25h1.07v0.78h-1.07zM251.69 274.24h1.2v1.13h-1.2zM252.82 265.66h1.14v0.76h-1.14zM255.74 273.41h0.75v0.99h-0.75zM249.2 284.14h1.05v1.07h-1.05zM254.93 256.13h0.83v1.14h-0.83zM255.46 273.8h0.77v0.98h-0.77zM254.81 253.67h0.88v0.81h-0.88zM250.29 275.91h0.88v1.09h-0.88zM255.48 258.22h1.11v1.17h-1.11zM250.35 278.63h0.95v1.2h-0.95zM254.59 250.79h0.95v0.93h-0.95zM251.98 281.14h1.02v0.74h-1.02zM253.14 276.86h0.96v0.86h-0.96zM253.22 258.88h1.1v0.88h-1.1zM255.89 258.88h0.87v1.1h-0.87zM250.96 283.45h1.13v0.72h-1.13zM253.81 272.9h0.88v0.86h-0.88zM253.81 279.61h0.88v0.89h-0.88zM251.26 283.19h0.93v0.82h-0.93zM252.21 264.03h1.08v1.01h-1.08zM252.96 276h0.79v0.82h-0.79zM254.56 256.08h0.72v1.01h-0.72zM249.87 280.61h1v1.03h-1zM251.48 278.1h0.89v0.77h-0.89zM253.59 268.93h0.71v0.92h-0.71zM250.79 283.98h0.77v1.04h-0.77zM252.85 280.39h0.8v0.7h-0.8zM252 271.51h0.73v0.76h-0.73zM249.41 278.85h1.15v0.78h-1.15zM255.3 253.63h0.92v1.2h-0.92zM249.71 277.8h0.87v1h-0.87zM252.03 273.9h0.84v1.14h-0.84zM254.2 268.09h1.02v0.91h-1.02zM255.37 273.9h0.99v0.81h-0.99zM252.07 266.62h1.12v0.98h-1.12zM254.43 275.98h1.08v0.98h-1.08zM250.93 272.43h0.92v1.12h-0.92zM253.28 270.08h0.85v1.11h-0.85zM255.4 275.22h0.92v0.7h-0.92zM254.55 270.56h1.12v0.82h-1.12zM254.06 276.52h1.11v0.76h-1.11zM254.13 261.09h1.17v1.04h-1.17z" fill="#7d4fa2"/>
<path d="M326.89 325.2h0.96v0.72h-0.96zM327.83 337.29h0.73v0.95h-0.73zM320.28 330.95h0.75v0.94h-0.75zM326.81 327.14h0.83v0.88h-0.83zM334.55 330.13h0.77v0.84h-0.77zM322.53 327.97h0.92v0.85h-0.92zM321.82 325.65h0.72v0.99h-0.72zM329.13 329.22h0.99v0.85h-0.99zM327.16 326.79h0.8v0.89h-0.8zM327.99 330.9h0.93v0.93h-0.93zM325.82 327.54h0.95v0.7h-0.95zM329.43 326.95h0.81v0.96h-0.81zM305.25 352.41h0.98v0.93h-0.98zM304.71 352.67h0.81v0.76h-0.81zM302.64 344.39h0.93v0.75h-0.93zM298.11 350.97h0.74v0.99h-0.74zM307.91 355.06h0.92v0.86h-0.92zM308.85 346.49h0.71v0.77h-0.71zM297.18 352.17h0.81v0.71h-0.81zM308.19 349.83h0.95v0.77h-0.95zM308.26 350.42h0.87v0.92h-0.87zM315.73 351.47h0.93v0.73h-0.93zM298.46 343.82h0.85v0.71h-0.85zM297.76 351.93h0.7v0.8h-0.7zM311.15 357.52h0.79v0.96h-0.79zM299.95 352.85h0.96v0.98h-0.96z" fill="#7d4fa2"/>
<path d="M240.94 323.38h0.65v0.98h-0.65zM237.65 313.1h1.17v1.08h-1.17zM247.06 325.31h1.03v1h-1.03zM238.39 324.05h0.75v0.81h-0.75zM239.86 325.36h0.84v1.18h-0.84zM249.03 309.22h0.64v0.74h-0.64zM245.64 329.02h1.06v1.29h-1.06zM250.52 307h0.63v0.92h-0.63zM244.59 309.09h0.95v1.05h-0.95zM253.59 303.63h1.15v0.64h-1.15zM252.54 299.38h0.79v1.2h-0.79zM249.04 309.51h0.84v1.11h-0.84zM233.8 314.85h0.62v1.04h-0.62zM244.14 324.64h0.84v1.13h-0.84zM244.96 327.15h1.13v0.99h-1.13zM247.94 321.24h1.01v0.8h-1.01zM242.94 332.4h0.69v1.08h-0.69zM243.87 320.73h0.75v1.26h-0.75zM243.7 335.23h0.91v1.13h-0.91zM238.56 324.26h0.69v1.03h-0.69zM245.17 312.65h0.9v0.99h-0.9zM244.62 313.55h1.09v0.91h-1.09zM237.26 317.99h1.12v1.14h-1.12zM245.61 331.64h1.26v1.25h-1.26zM241.49 314.6h0.7v1.13h-0.7zM246.2 323.92h0.64v0.73h-0.64zM234.34 317.89h0.92v0.97h-0.92zM234.6 318.23h1.3v1.07h-1.3zM236.95 323.38h1.25v1.26h-1.25zM240.42 321.35h0.7v0.88h-0.7zM248.08 304.13h1.12v0.64h-1.12zM252.28 299.47h0.79v1.08h-0.79zM232.7 308.1h0.73v1.2h-0.73zM239.67 319.18h0.91v1.21h-0.91zM249.96 308.39h0.89v1.28h-0.89zM246.55 303.77h1.06v0.87h-1.06zM245.8 312.63h0.83v0.75h-0.83zM242.47 315.28h1.27v0.76h-1.27zM246.17 301.84h1.13v1.05h-1.13zM237.17 307.69h1.14v0.87h-1.14zM245.07 308.67h0.95v1.13h-0.95zM241.75 315.76h1.22v1.25h-1.22zM243.67 306.88h1.43v1.32h-1.43zM245.23 305.71h1.63v0.96h-1.63zM248.9 303.31h1.26v1.68h-1.26zM245.83 302.66h1.1v0.97h-1.1zM247.64 302.66h1.32v1.37h-1.32zM244.25 304.31h1.31v1.05h-1.31zM246.62 310.81h1.61v1.42h-1.61zM250 302.93h1.4v1.02h-1.4zM244.52 318.3h1.53v1.48h-1.53zM236.83 305.17h1.6v1.15h-1.6zM257.65 340.07h0.85v0.65h-0.85zM271.01 334.27h0.86v0.87h-0.86zM266.96 343.75h0.72v0.7h-0.72zM270.48 327.92h0.65v0.85h-0.65zM256.89 331.58h0.86v0.81h-0.86zM264.55 328.69h0.88v0.71h-0.88zM269.68 340.77h0.63v0.83h-0.63zM255.61 324.96h0.76v0.71h-0.76zM264.15 325.36h0.83v0.76h-0.83zM260.36 341.75h0.76v0.82h-0.76zM254.94 335.27h0.65v0.81h-0.65zM256.52 324.35h0.62v0.64h-0.62zM261.35 319.17h0.69v0.79h-0.69zM269.28 340.58h0.73v0.8h-0.73zM266.53 348.94h0.64v0.84h-0.64zM254.63 334.4h0.79v0.77h-0.79zM264.79 349.21h0.7v0.7h-0.7zM261.77 324.87h0.9v0.63h-0.9zM264.17 330.49h0.9v0.7h-0.9zM263.47 333.66h0.68v0.83h-0.68zM257 334.21h0.72v0.63h-0.72zM266.53 319.34h0.72v0.7h-0.72zM241.25 325.07h0.84v1.64h-0.84zM249.82 330.98h1.06v1.48h-1.06zM246.58 328.77h1.53v1.39h-1.53zM248.35 330.52h1.33v1.42h-1.33zM241.9 332.46h1.45v1.16h-1.45zM243.11 328.43h1.7v1.59h-1.7zM248.1 330.14h1.15v1.39h-1.15zM247.56 337.27h1.52v1.26h-1.52zM242.89 334.8h0.99v1.07h-0.99zM249.15 333.37h1.09v0.85h-1.09zM246.51 326.67h1.39v1.24h-1.39zM248.11 338.72h1.27v1h-1.27zM243.13 329.86h1.33v1h-1.33zM247.81 337.89h1.18v1.62h-1.18zM245.77 331.93h0.94v1.45h-0.94zM244.51 340.32h1.13v1.55h-1.13zM240 329.59h1.22v1.68h-1.22zM244.03 341.71h1.44v1.42h-1.44zM247.88 336.92h0.92v1.39h-0.92zM242.8 334.13h1.62v1.43h-1.62zM247.86 331.18h1.36v1.2h-1.36zM243.16 339.76h1.53v1.59h-1.53zM283.34 318.84h0.92v0.88h-0.92zM279.52 338.07h1v0.84h-1zM281.86 332.96h0.91v0.9h-0.91zM280.39 331.17h1.2v0.7h-1.2zM279.55 342.32h0.84v1.08h-0.84zM282.86 315.78h1.07v0.61h-1.07zM280.78 322.46h0.93v1.02h-0.93zM282.46 313.32h0.61v1.09h-0.61zM278.78 332.79h0.76v1.12h-0.76zM281.76 334.05h1.17v0.92h-1.17zM281.69 336.3h0.98v0.97h-0.98zM284.72 314.94h1.02v0.73h-1.02zM286.57 320.79h1.11v0.85h-1.11zM281.6 334.48h1.11v1.03h-1.11zM279.92 316.8h0.84v1.12h-0.84zM278.96 339.12h0.88v0.85h-0.88zM284.34 321.06h0.62v0.69h-0.62zM282.26 328.12h0.65v0.96h-0.65zM279.46 339.77h1.05v0.6h-1.05zM279.61 339h1.2v0.95h-1.2zM284.5 316.3h0.66v0.89h-0.66zM280.02 319.29h0.83v0.77h-0.83zM283.31 321.98h1.17v1.19h-1.17zM284.79 318.52h1.09v1.15h-1.09zM281.57 324.64h1v0.68h-1z" fill="#fff"/>
<g transform="translate(131.5 0)">
<path d="M247.7 283L246 283.6L244.4 285L243.2 292.3L242.6 298.3L239 303.2L234.7 306.2L233.5 309.2L231.7 314.1L232.9 315.9L228.7 318.9L228.1 321.3L231.7 323.8L237.8 326.2L241.4 329.2L242 333.5L242.6 338.3L243.8 342L246.2 344.4L251.1 345.6L253.5 348L253.5 351L255.9 352.8L257.1 350.4L259.6 348L262 352.8L264.4 357.7L268 360.1L272.9 361.3L275.4 363.5L276.1 371.5L277.4 379.6L278.7 386.3L280.1 385.5L283.5 378.3L284.8 374.2L282.1 368.8L280.8 363.5L281.4 357.7L282 350.4L281.4 343.2L281.4 333.5L282.6 329L284.4 327.7L289.2 324.1L294.1 321.6L298.9 319.8L305 318L311 315.6L315.3 312L316.8 306.5L313.5 304.1L307.4 302.2L302.6 298.6L298.9 291.3L294.1 288.3L289.2 290.1L287.4 288.9L284 291L280 292.5L276 296L272 300L268 301.5L264 300.5L260 298L256 294L252 289ZM221.1 284.4L223.5 285.2L228.5 287.3L233.2 290.3L235 292.8L233.2 294.2L229 292L224.5 289.3L221.5 286.5ZM321.2 337.8L325.2 339.2L329 343.5L332.9 348.6L331.9 350.3L328 346.6L324 342.3L321.8 340.2ZM247.7 283L250.1 278.2L252 272.1L253.8 264.9L254.4 256.4L255.6 249.1L256.8 243.7L259.5 243.6L261.6 244.5L264.5 246.2L267.1 248.5L271.7 255L274.7 262.3L278.3 269.5L282 278L285 284.1L287.4 288.9L284 291L280 292.5L276 296L272 300L268 301.5L264 300.5L260 298L256 294L252 289Z" fill="#ea2128"/>
<path d="M318.5 325.8L321 324.2L323.2 323.7L326 323.6L329.2 324.4L332 325.8L333.9 327.8L336 331.8L334.8 333.8L333.3 335.2L329.2 338.6L325.2 339.2L322.5 337.2L320.5 333.8L319.1 329.8ZM294.9 343.9L298.9 341.2L303.6 342.6L307.7 346L313.1 347.3L318.5 348.6L317.8 354L316.4 358.1L310.4 358.9L305 359L301.6 356.7L297.6 354L294.9 351.3L295.6 347.3Z" fill="#3753a4"/>
<path d="M275.87 349.46h1.26v1.28h-1.26zM278.22 350.55h1.04v0.92h-1.04zM278.64 322.73h1.26v1.19h-1.26zM280.16 325.78h1.59v1.34h-1.59zM279.41 347.94h1.35v1.27h-1.35zM271.86 345.57h1.1v1.3h-1.1zM270.4 322.67h1.5v0.95h-1.5zM270.79 319.18h1.17v1.04h-1.17zM275.27 338.08h1.39v1.45h-1.39zM273.94 353.02h0.94v1.26h-0.94zM276.43 344.3h1.56v1.35h-1.56zM262.29 347.78h0.97v1.3h-0.97zM279.59 349.36h1.45v1.1h-1.45zM270.73 334.9h1.36v0.93h-1.36zM276.84 327.61h1.57v1.01h-1.57zM272.59 350.22h1.1v1.5h-1.1zM273.16 332.04h1.49v1.02h-1.49zM274.66 337.9h1.34v1.56h-1.34zM272.56 360.51h1.16v1.56h-1.16zM279.31 347.75h1.51v1.34h-1.51zM269.8 330.12h1.47v1.48h-1.47zM262.91 342.72h1.2v1.5h-1.2zM281.41 349.47h1.45v1.39h-1.45zM269.66 343.1h1.24v0.91h-1.24zM271.68 329.3h1.48v1.31h-1.48zM274.99 357.95h1v1.55h-1zM267.92 332.88h1.49v1.59h-1.49zM276.76 326.35h1.35v1.43h-1.35zM263.62 355.27h1.15v1.19h-1.15zM265.86 344.92h1.06v0.97h-1.06zM272.86 341.79h1.03v1.05h-1.03zM261.62 347.03h1.6v1.45h-1.6zM273.47 358.47h1.01v1.28h-1.01zM279.85 356.04h1.38v1.52h-1.38zM264.49 352.58h1.22v0.96h-1.22zM264.52 355.38h1.38v1.42h-1.38zM271.4 358.27h1.58v1.36h-1.58zM280.51 331.5h1.59v1.18h-1.59zM268.43 345.3h1.23v1.33h-1.23zM271.52 324.47h0.98v1.27h-0.98zM271.96 331.25h1.5v1.21h-1.5zM266.74 329.92h1.58v1.49h-1.58zM276.2 359.59h1.17v1.12h-1.17zM262.49 339.21h1.09v1.42h-1.09zM271.97 347.54h1.56v1.55h-1.56zM262.65 349.03h1.02v0.98h-1.02zM276.82 337.47h1.33v1.16h-1.33zM275.84 357.54h1.59v1.02h-1.59zM267.94 348.78h1.18v0.97h-1.18zM279.7 350.58h1.42v1.46h-1.42zM270.29 319.3h1.14v1.02h-1.14zM281.62 337.02h1.25v1.44h-1.25zM275.05 326.95h1.34v1.04h-1.34zM271.83 347.88h1.42v1.55h-1.42zM275.03 338.13h1.57v1.06h-1.57zM271.7 335.05h0.98v1.36h-0.98zM278.8 336.7h1.45v1.42h-1.45zM270.07 327.59h1.07v1.16h-1.07zM273.86 335.99h1.26v1.22h-1.26zM273.36 328.09h1.53v1.52h-1.53zM265.62 331.26h1.13v1.06h-1.13zM280.48 325.86h1.41v1.19h-1.41zM275.42 360.1h1.2v1.56h-1.2zM269.15 353h1.49v1.58h-1.49zM273.51 354.45h1.28v1.12h-1.28zM275.83 343.93h1.16v1.15h-1.16zM271.45 338.82h1.28v1.25h-1.28zM268.19 335.56h1.41v1.37h-1.41zM281.83 328.21h1.38v1.45h-1.38zM275.16 318.69h1.48v0.94h-1.48zM265.53 356.93h1.24v1.22h-1.24zM272.84 343.4h1.42v1.49h-1.42zM273.46 326.12h1.47v0.91h-1.47zM267.89 331.58h1.57v1.2h-1.57zM273.96 331.76h1.33v1.3h-1.33zM271.12 352.98h1.2v1.1h-1.2zM271.31 356.19h1.24v1.33h-1.24zM275.62 329.91h1.08v1h-1.08zM278.88 333.61h1.37v1.53h-1.37zM278.84 349.43h1.53v1.38h-1.53zM276.58 356.81h1.31v0.96h-1.31zM279.53 342.89h1.14v1.39h-1.14zM267.63 329.87h1.12v1.29h-1.12zM266.78 335.79h1.07v1.51h-1.07zM267.2 334.01h0.9v0.98h-0.9zM272.77 326.72h1.17v0.93h-1.17zM275.12 362.74h1.06v1.16h-1.06zM276.98 330.11h1.33v1.42h-1.33zM268 345.85h1.26v1.11h-1.26zM271.96 321.86h1.04v1.48h-1.04zM279.64 338.52h0.99v1.48h-0.99zM262.15 354.25h0.94v1.53h-0.94zM276.65 334.29h1.49v1.57h-1.49zM267.1 350.7h1.3v1.21h-1.3zM275.98 339.56h1.31v1.04h-1.31zM274.57 338.05h1.26v1.11h-1.26zM282.05 330.87h1.23v1.54h-1.23zM267.52 342.93h1.5v1.55h-1.5zM263.32 345.23h1.5v1.43h-1.5zM268.58 340.42h1.09v0.94h-1.09zM265.31 333.66h1.38v1.13h-1.38zM273.15 330.45h1.31v1.14h-1.31zM263.77 354.75h0.94v1.45h-0.94zM265.61 354.6h1.02v1.05h-1.02zM271.67 335.7h1.47v1.47h-1.47zM278.19 321h1.02v1.36h-1.02zM273.89 359.95h1.18v1.46h-1.18zM282.15 328.61h1.19v1.11h-1.19zM276.04 346.4h1.48v1.25h-1.48zM271.19 341.83h1.31v1.17h-1.31zM268.04 359.21h1.58v1.49h-1.58zM279.9 357.64h1.47v0.95h-1.47zM262.51 343.34h1.04v1.59h-1.04zM277.58 319.67h1.39v1.37h-1.39zM271.67 331.03h1.13v1.06h-1.13zM268.01 333.12h1.3v1.02h-1.3zM281.16 327.67h1.28v0.95h-1.28zM278.07 333.97h1.39v1.27h-1.39zM272.76 331.52h1.51v0.93h-1.51zM263.42 344.24h1.45v1.37h-1.45zM281.14 325.84h1.54v1.24h-1.54zM276.33 360.02h1.51v1.6h-1.51zM266.78 328.63h1.32v1.4h-1.32zM272.87 356.03h1.58v1.27h-1.58zM269.7 357.17h1.49v1.55h-1.49zM273.77 361.15h1.03v1.51h-1.03zM266.14 356.76h1.06v1.48h-1.06zM277.32 359.23h1.12v1.33h-1.12zM273.41 347.97h1.38v0.91h-1.38zM281.21 348.33h1.29v1.35h-1.29zM278.67 361.9h1.39v1.2h-1.39zM275.35 328.15h1.34v0.95h-1.34zM275.63 339.99h1.33v1.04h-1.33zM274.65 354.09h1.53v1.37h-1.53zM269.3 339.84h1.49v1.09h-1.49zM267.31 355.12h1v1.02h-1zM277.25 322.72h1.31v1.47h-1.31zM260.91 346.25h1.04v1.49h-1.04zM276.38 327.8h0.93v1.28h-0.93zM278.27 326.32h1.46v1.45h-1.46zM270.53 334.18h1.02v0.95h-1.02zM272.98 322.57h1.51v1.39h-1.51zM279.31 346.8h1.09v1.39h-1.09zM278.97 344.35h1.23v1.03h-1.23zM269.72 359.71h1.41v0.93h-1.41zM276.15 320.5h1.47v1.42h-1.47zM267.29 332h0.92v1.48h-0.92zM271.47 319.08h1.48v1.52h-1.48zM278.42 338.95h1.29v1.32h-1.29zM273.26 324.17h0.92v0.95h-0.92zM282.16 340.89h1.31v1.22h-1.31zM270.6 349.95h1.34v0.99h-1.34zM263.24 340.91h1.16v1.31h-1.16zM277.96 350.28h1.47v1.44h-1.47zM265.34 338.12h1.55v1.16h-1.55zM281.75 341.79h1.33v1.09h-1.33zM271.16 347.3h1.15v1.08h-1.15zM280.95 338.98h1.53v1.3h-1.53zM267.47 333.89h1.45v1.24h-1.45zM269.66 350.59h1.19v1.11h-1.19zM261.97 345.07h1.54v0.94h-1.54zM269.12 333.09h1.31v1.49h-1.31zM268.14 345.2h1.04v1.43h-1.04zM263.34 345.18h1.03v1.1h-1.03zM278.84 320.31h1.44v1.09h-1.44zM272.67 359.8h1.19v1.43h-1.19zM268.27 343.26h1.04v1.23h-1.04zM267.89 344.37h0.99v1.35h-0.99zM267.68 332.39h1.04v1.2h-1.04zM268.95 319.9h1.42v1.18h-1.42zM270.9 349.74h1.06v1.15h-1.06zM264.78 337.96h1.22v1.18h-1.22zM264.96 356.76h1.11v1.08h-1.11zM278.45 319.17h0.97v1.33h-0.97zM271.7 357.64h1.35v1.5h-1.35zM279.54 340.86h1.07v0.98h-1.07zM272.56 336.83h1.57v1.2h-1.57zM266.21 354.44h1.4v1.12h-1.4zM267.23 328.69h1.5v1.27h-1.5zM267.15 328.67h1.4v1.19h-1.4zM279.24 358.04h1.24v1.43h-1.24zM275.86 347.58h1.28v1.58h-1.28zM262.19 351.18h1.55v1.49h-1.55zM275.77 326.85h0.99v0.93h-0.99zM265.13 351.69h1.23v0.92h-1.23zM272.36 317.61h1.04v1.18h-1.04zM273.07 336.6h1.15v1.38h-1.15zM263.71 351.02h1.18v1.15h-1.18zM265.12 350.32h1.51v1.17h-1.51zM273.88 329.68h1.38v1.3h-1.38zM271.87 342h1.17v1.05h-1.17zM270.13 343.9h1.51v1.19h-1.51zM272.49 355.08h0.94v1.33h-0.94zM277.05 335.4h1.5v0.96h-1.5zM275.45 356.18h0.97v1.18h-0.97zM264.92 350.11h0.96v1.19h-0.96zM281.66 338.67h1.54v1.04h-1.54zM267.47 357.86h1.48v1.59h-1.48zM269.99 333.11h0.91v1.31h-0.91zM281.54 331.55h1.23v1.25h-1.23zM269.2 322.08h1.29v1.56h-1.29zM270.31 346.83h0.97v1.05h-0.97zM268.36 348.09h1.19v1.03h-1.19zM275.48 335.36h1.58v1.28h-1.58zM265.17 345.36h1.09v1.11h-1.09zM277.43 339.5h1.07v1.14h-1.07zM275.43 329.13h1.42v1.11h-1.42zM265.13 356.97h1.52v0.96h-1.52zM272.03 320.96h1.15v0.93h-1.15zM270.18 319.38h0.91v1.36h-0.91zM267.31 339.49h0.98v1.33h-0.98zM268.82 332.27h1.04v1h-1.04zM281.1 325.85h1.01v1.24h-1.01zM270.19 354.17h1.29v1.13h-1.29zM272.51 320h1.21v1.59h-1.21zM278.63 329.32h1.36v1.18h-1.36zM265.74 334.69h1.32v1.25h-1.32zM267.26 356.93h1.31v0.93h-1.31zM271.14 322.05h1.21v0.93h-1.21zM277.6 334.82h1.23v1.52h-1.23zM280.96 354.81h0.94v1.19h-0.94zM279.85 346.64h1.32v1.14h-1.32zM261.54 352.81h1.38v1.54h-1.38zM272.26 336.05h1.24v1.56h-1.24zM276.78 335.44h1.31v1.11h-1.31zM268.38 332.59h1.54v1.36h-1.54zM264.67 340.56h1.18v1.44h-1.18zM261.92 342.69h1.34v1.06h-1.34zM267.58 341.15h1.06v1.41h-1.06zM274.53 319.43h1.25v1.46h-1.25zM262.07 353.98h1.37v1.01h-1.37zM275.47 328.23h1.37v1.11h-1.37zM279 354.29h1.52v1.26h-1.52zM276.53 334.19h1.38v1.11h-1.38zM280.44 333.85h1.52v1.1h-1.52zM267.92 324.85h1.51v1.44h-1.51zM278.76 347.16h1.09v0.91h-1.09zM262.66 353.48h1.14v0.93h-1.14zM263.98 349.09h1.14v1.03h-1.14zM274.78 358.75h1.17v1.18h-1.17zM268.39 335.31h1.3v1.02h-1.3zM260.9 345.83h0.98v0.91h-0.98zM274.75 348.16h1.34v1.57h-1.34zM271.67 318.49h1.25v1.41h-1.25zM263.72 335.12h1.41v1.16h-1.41zM272.57 327.23h1.53v1.36h-1.53zM271.07 332.69h1.4v1.25h-1.4zM278.06 333.35h0.96v1.04h-0.96zM275.87 329.78h1.23v1.25h-1.23zM267.91 329.16h1.16v1.55h-1.16zM274.67 353.2h1v1.12h-1zM275.39 344.57h1.3v1.06h-1.3zM274.03 330.1h1.09v1.5h-1.09zM279.09 351.37h1.26v1.2h-1.26zM280.97 343.49h1.42v1.18h-1.42zM265.81 348.58h0.93v1.59h-0.93zM271.52 357.24h1.55v1.51h-1.55zM278.64 356.52h1.45v1.4h-1.45zM274.19 352.96h1.34v1.07h-1.34zM275.99 320.84h1.01v1.08h-1.01zM274.96 323.91h1.41v1.21h-1.41zM281.26 337.31h1.34v1.46h-1.34zM274.01 360.23h0.93v0.94h-0.93zM278.44 361.7h1.06v1.38h-1.06zM276.4 332.41h1.49v1.22h-1.49zM275.64 349.44h1.58v1.4h-1.58zM277.14 335.5h1.33v1.07h-1.33zM281.22 342.19h1.44v1.46h-1.44zM278.38 324.43h1.33v1.19h-1.33zM279.52 323.97h1.39v1.55h-1.39zM267.42 328.13h1.34v0.92h-1.34zM274.91 333.84h1.1v1.33h-1.1zM261.53 344.06h1.56v1.16h-1.56zM282.14 326.09h1.6v1.45h-1.6zM278.43 362.02h1.05v1.48h-1.05zM278.81 326.73h1.39v1.55h-1.39zM273.48 321.67h1.11v1.1h-1.11zM275.75 353.95h1.51v1h-1.51zM273.2 319.99h1.14v1.48h-1.14zM271.43 336.06h1.54v1.06h-1.54zM281.29 327.88h1.36v1.34h-1.36zM265.59 341.16h1.24v1.14h-1.24zM273.64 326.13h1.43v1.34h-1.43zM277.9 359.84h0.91v1.21h-0.91zM277.52 339.5h1.48v1.16h-1.48zM261.37 346.59h0.97v1.6h-0.97zM274.05 334.92h1.47v1.02h-1.47zM275.46 330.04h1.37v0.94h-1.37zM279.62 356.71h1.54v1.59h-1.54zM281.95 335.43h1.4v1.36h-1.4zM273.69 360.26h0.96v1.02h-0.96zM277.67 342.33h1.08v1.24h-1.08zM271.92 358.54h1.26v1.59h-1.26zM273.62 339.64h1.31v1.59h-1.31zM274.01 325.57h0.9v1.09h-0.9zM273.19 352.12h0.95v1.51h-0.95zM268.92 333.82h1.36v1.02h-1.36zM270.78 330.5h1.48v1.47h-1.48zM272.46 336.01h1.45v1.16h-1.45zM274.75 318.2h1.36v1.26h-1.36zM276.39 340.18h1.21v0.96h-1.21zM264.38 335.99h1v1.27h-1zM276.88 319.67h1.32v1.22h-1.32zM269.74 351.3h1v1.13h-1zM267.37 334.36h1.13v1.53h-1.13zM269.55 338.85h1.27v1.34h-1.27zM274 334.93h0.98v1.5h-0.98zM268.02 355.09h1.07v1.51h-1.07zM278.54 320h1.24v1.06h-1.24zM265.61 343.78h1.35v1.02h-1.35zM274.34 350.62h1.39v0.92h-1.39zM271.73 328.59h1.22v1.38h-1.22zM267.45 345.63h0.98v1.51h-0.98zM265.6 356.89h0.97v1.44h-0.97zM270.73 358.36h1.46v1.37h-1.46zM268.7 351.72h1.42v1.12h-1.42zM277.96 341.27h1.15v1h-1.15zM273.4 330.13h1.17v1.19h-1.17zM273.52 333.57h1.36v1.41h-1.36zM276.69 326.88h1.36v1.36h-1.36zM281.78 337.54h1.13v1.09h-1.13zM278.22 335.01h1.14v0.98h-1.14zM266.58 349.09h1.13v1.37h-1.13zM274.76 348.6h1.25v1.46h-1.25zM278.86 332.58h1.17v1.37h-1.17zM264.71 345.44h1.43v1.22h-1.43zM268.9 327.03h1.47v1.53h-1.47zM275.76 356.95h1.59v1h-1.59zM262.7 339.63h0.97v1.59h-0.97zM279.62 324.33h1.16v1.14h-1.16zM272.01 356.37h1.13v1.25h-1.13zM278.5 338.38h1.18v1.11h-1.18zM276.21 335.3h1.29v1.26h-1.29zM270.72 350.53h1.17v1.42h-1.17zM268.02 325.74h1v0.9h-1zM269.09 349.38h1.12v1.4h-1.12zM271.97 328.34h1.1v1.01h-1.1zM271.33 318.51h1.42v1.26h-1.42zM266.27 333.71h1.59v1.04h-1.59zM267.57 351.39h1.09v0.91h-1.09zM268.66 332.34h1.29v0.96h-1.29zM277.94 330.43h1.44v1.59h-1.44zM271.91 329.16h0.97v1.17h-0.97zM274 340.74h0.99v1.59h-0.99zM277.61 346.68h0.98v1.04h-0.98zM264.53 341.75h1.21v1.38h-1.21zM270.91 322.71h1.5v1.24h-1.5zM266.72 352.56h0.97v0.97h-0.97zM279.37 345.21h1.31v1.16h-1.31zM261.11 350.44h1.31v1.59h-1.31zM278.35 339h1.6v1.06h-1.6zM277.24 330.35h1.37v1.18h-1.37zM271.38 320.91h1.34v1.47h-1.34zM267.3 343.47h1.15v1.17h-1.15zM268.54 351.88h1.4v1.52h-1.4zM273.77 341.31h1.18v1.48h-1.18zM274.26 359.63h1.18v1.02h-1.18zM275.69 328.41h1.35v0.96h-1.35zM281.24 341.24h1.31v0.93h-1.31zM271.69 349.32h1.47v1.59h-1.47zM278.14 321.81h1.53v0.93h-1.53zM262.02 340.67h1.34v1.4h-1.34zM275.86 340.07h1.47v1.08h-1.47zM265.36 350.44h1.5v1.42h-1.5zM261.39 343.84h1.15v1.07h-1.15zM260.17 347.32h1.48v1.21h-1.48zM277.81 348.26h1.16v1.18h-1.16zM276.61 344.27h1.04v0.91h-1.04zM270.46 326.66h0.92v1.11h-0.92zM271.87 326.92h1.28v1.58h-1.28zM277.82 327.03h1.53v1.15h-1.53zM263.59 334.46h1.49v1.19h-1.49zM271.88 326.95h1.27v0.99h-1.27zM265.34 352.55h1.2v1.16h-1.2zM267.6 331.16h0.95v1.1h-0.95zM267.01 344.68h1.37v1.31h-1.37zM272.29 318.97h1v1.5h-1zM278.8 336.13h1.22v1.06h-1.22zM280.46 325.84h0.99v1.51h-0.99zM272.13 343.3h1.03v1.37h-1.03zM279.57 323.37h1.09v1.03h-1.09zM281.33 338.05h1.01v1.47h-1.01zM261.29 347.73h1.3v1.4h-1.3zM270.29 323.27h0.91v0.97h-0.91zM260.28 343.86h1.4v1.25h-1.4zM281.08 329.35h1.59v1.4h-1.59zM270.99 340.82h1.49v1.58h-1.49zM274.23 324.61h1.1v1.46h-1.1zM269.24 329.01h1.49v1.42h-1.49zM273.3 336.44h1.06v0.94h-1.06zM280.92 326.09h1.15v0.99h-1.15zM268.53 353.01h1.6v1.31h-1.6zM267.43 352.97h1.47v1.54h-1.47zM260.96 343.12h0.98v1.18h-0.98zM261.8 342.28h1.14v1.34h-1.14zM276.38 331.6h1.27v1.56h-1.27zM281.03 327.04h1.37v1.57h-1.37zM269.7 324.27h1.05v1.28h-1.05zM265.11 333.64h0.92v1.14h-0.92zM260.58 349.26h1.4v1.49h-1.4zM272.59 354.53h1.13v1.2h-1.13zM269.9 335.71h1.28v1.48h-1.28zM272.57 322.29h1.24v1.48h-1.24zM269.83 332.94h1.17v1.25h-1.17zM262.42 349.33h1.5v1.08h-1.5zM275.18 350.02h1.3v1.37h-1.3zM262.83 341.76h1.49v1.27h-1.49zM277.19 320.38h1.2v1.54h-1.2zM264.6 346.25h1.42v1.46h-1.42zM280.67 341.94h1.4v1.07h-1.4zM267.04 348.37h0.97v1.35h-0.97zM281.26 326.27h1.05v1.49h-1.05zM270.47 357.61h0.94v1.24h-0.94zM265.07 342.44h1.05v1.54h-1.05zM275.68 346.6h0.97v1.39h-0.97zM262.4 339.73h1.49v1.55h-1.49zM279.1 320.27h1.15v1.57h-1.15zM260.55 349.3h1.1v1.17h-1.1zM265.22 352.54h0.96v0.91h-0.96zM271.19 328.28h0.92v1.04h-0.92z" fill="#3753a4"/>
<path d="M266 345L271 337L278 333L281.5 340L281.2 356L280.8 363.5L276 363L270 359L266 353ZM275.2 362.5L276.1 371.5L277.4 379.6L278.7 386.3L280.1 385.5L283.5 378.3L284.8 374.2L282.1 368.8L281 362.5Z" fill="#3753a4"/>
<path d="M268.28 341.03h1.14v0.71h-1.14zM267.15 354.64h0.76v0.74h-0.76zM276.53 336.66h1.08v0.79h-1.08zM272.89 337.05h1.17v0.85h-1.17zM271.17 339.09h0.83v1.18h-0.83zM279.4 349.63h0.92v0.8h-0.92zM267.46 353.94h1.03v0.93h-1.03zM280.38 340.52h1.03v0.79h-1.03zM276.16 351.72h0.94v0.78h-0.94zM278.87 359.05h0.79v0.79h-0.79zM279.45 352.38h1.12v0.83h-1.12zM276.97 336.93h0.74v0.85h-0.74zM267.3 347.04h0.9v1.05h-0.9zM269.61 355.35h1.06v0.98h-1.06zM272.27 356.93h0.97v0.98h-0.97zM280.16 345.64h0.93v0.8h-0.93zM272.18 344.19h0.71v0.86h-0.71zM272.24 342.25h1.04v0.72h-1.04zM276.71 350.45h0.87v1.2h-0.87zM276.75 355.5h0.91v0.81h-0.91zM278.26 353.7h0.98v0.72h-0.98zM270.27 337.1h0.78v0.97h-0.78zM267.08 342.8h1.03v0.88h-1.03zM271.07 341.71h0.9v0.79h-0.9zM281.09 341.27h0.74v0.92h-0.74zM274.14 353.29h1.07v0.8h-1.07zM271.56 357.53h1.06v1.11h-1.06zM277.56 352.38h1.17v0.77h-1.17zM271.38 338.1h1.19v0.73h-1.19zM272.83 354.75h0.97v1.05h-0.97zM270.52 354.42h0.92v0.83h-0.92zM266.32 353.24h1.02v0.73h-1.02zM277.7 334.44h0.79v1.1h-0.79zM273.94 359.59h0.87v0.93h-0.87zM269.78 350.76h1.12v0.95h-1.12zM272.53 349.64h0.94v1.17h-0.94zM276.04 347.38h0.97v0.94h-0.97zM278.78 341.58h0.91v0.97h-0.91zM274.84 357.47h0.77v1.2h-0.77zM272.46 348.35h0.73v0.79h-0.73zM277.68 371.26h0.78v0.82h-0.78zM279.47 376.29h0.78v0.89h-0.78zM276.56 363.79h0.9v0.77h-0.9zM275.66 364.93h0.73v0.87h-0.73zM280.47 364.01h0.88v0.94h-0.88zM275.09 363.63h0.78v0.8h-0.78z" fill="#ea2128"/>
<path d="M257.8 278.66h1.41v0.98h-1.41zM259.37 279.86h0.9v1.11h-0.9zM255.64 280.58h0.84v1.26h-0.84zM274.26 295.39h1.1v1.02h-1.1zM264.24 297.49h1.23v1.15h-1.23zM262.84 292.73h0.87v0.83h-0.87zM277.54 298.12h1.4v1.48h-1.4zM268.46 285.97h1.06v0.92h-1.06zM262.84 284.56h1.14v1h-1.14zM269.4 297.5h1.17v1.38h-1.17zM266.07 278.85h1.47v0.84h-1.47zM249 287.88h1.44v0.91h-1.44zM254 300.65h1.48v0.83h-1.48zM266.32 281.59h1.06v1.44h-1.06zM257.43 287.26h1.24v1.16h-1.24zM270.07 281.79h1.31v1.4h-1.31zM260.97 296.98h1.05v1.4h-1.05zM265.62 282.56h1.31v1h-1.31zM254.4 291.53h1.4v1.02h-1.4zM261.41 303.55h1.08v1.19h-1.08zM260.47 300.66h1.21v1.4h-1.21zM248.34 287.42h1.42v1.3h-1.42zM254.2 261.41h1.27v1.33h-1.27zM259.16 279.21h1.27v1.23h-1.27zM266.25 282.75h0.99v1.14h-0.99zM253.25 274.06h1.13v1.48h-1.13zM256.74 297.65h1.04v1.02h-1.04zM245.77 315h1.39v1.47h-1.39zM252.88 280.65h1.23v1.34h-1.23zM252.7 271.03h0.88v1.22h-0.88zM250.1 306.78h0.85v1.32h-0.85zM251.23 291.1h1.37v1.14h-1.37zM262.57 287.97h1.29v1.09h-1.29zM267.17 290.12h0.97v1.07h-0.97zM250.83 275.36h1.35v1.36h-1.35zM262.65 284.1h0.96v1.01h-0.96zM279.39 296.92h0.95v1.13h-0.95zM253.17 306.4h0.86v0.81h-0.86zM251.01 291.71h1.07v1.39h-1.07zM264.85 279.46h1.1v1.5h-1.1zM256.65 260.1h0.86v0.96h-0.86zM252.15 289.61h1.48v1.45h-1.48zM269.52 279.77h0.86v1.03h-0.86zM257.88 289.24h1.23v1.19h-1.23zM254.19 286.35h1.22v1.4h-1.22zM247.88 314.21h1.34v1.18h-1.34zM258.06 300.62h1.09v0.89h-1.09zM256.56 290.6h1.23v1.38h-1.23zM252.41 307.5h0.98v0.86h-0.98zM261.12 298.04h1.31v0.85h-1.31zM245.15 305.2h1.38v1.07h-1.38zM249.7 291.34h0.96v1.02h-0.96zM246.06 296.44h1.43v1.32h-1.43zM259.93 306.84h1.37v1.08h-1.37zM279.5 296.86h1.01v0.99h-1.01zM267.39 291.97h1v1.2h-1zM258.7 291.15h0.95v1.45h-0.95zM259.34 271.5h0.94v1.35h-0.94zM269.38 289.53h1.06v0.95h-1.06zM253.49 267.68h1.22v0.97h-1.22zM253.22 284.98h1.47v1.24h-1.47zM260.63 278.88h1.35v1.33h-1.35zM265.01 283.24h1.34v1.13h-1.34zM255.82 284.02h0.93v1.17h-0.93zM249.36 289.23h1.03v1.09h-1.03zM251.29 294.47h1.29v1.34h-1.29zM252.46 306.92h1.33v1.45h-1.33zM254.62 285.36h1.13v1.35h-1.13zM253.23 297.48h1.41v1.08h-1.41zM254.62 270.19h1.32v0.87h-1.32zM268.61 278.36h1.16v1.11h-1.16zM248.58 303.18h1.05v1.48h-1.05zM248.88 309.18h1.4v1.44h-1.4zM259.76 269.86h0.96v1.03h-0.96zM271.21 286.15h0.93v1.06h-0.93zM264.05 285.98h1.23v1.48h-1.23zM253.94 302.81h1.09v1.31h-1.09zM253.47 271.25h1.28v0.92h-1.28zM245.03 305.73h0.97v1.3h-0.97zM254.24 307.1h0.91v1.23h-0.91zM246.24 310.48h0.89v0.81h-0.89zM249.9 294.76h1.49v1.07h-1.49zM255.79 291.58h1.31v1.31h-1.31zM246.98 300.76h1.32v1.45h-1.32zM275.84 289.43h1.47v1.08h-1.47zM272.36 298.9h0.86v1.48h-0.86zM244.28 308.63h1.25v1.47h-1.25zM257.34 292.6h1.31v1.26h-1.31zM260.56 302.99h0.96v1.2h-0.96zM276.22 291.15h0.98v1.48h-0.98zM269.59 293.73h1.35v0.86h-1.35zM253.37 269.14h0.87v1.3h-0.87zM254.82 281.86h0.84v1.48h-0.84zM260.6 301.17h0.86v1.18h-0.86zM252.67 303.34h1.44v1.09h-1.44zM264.33 292.19h1.45v1.24h-1.45zM252.78 309.51h0.9v1.42h-0.9zM255.69 277.33h1.29v1.24h-1.29zM257.17 287.84h1.22v0.84h-1.22zM261.41 296.04h0.91v1.01h-0.91zM278.26 293.7h0.96v1.43h-0.96zM252.38 274.76h1.4v1.35h-1.4zM242.69 306.57h0.96v1.03h-0.96zM264.87 282.32h0.83v1.26h-0.83zM255.9 285.89h1.45v1.46h-1.45zM257.06 291.61h1.1v1.41h-1.1zM247.06 306.01h1.16v0.8h-1.16zM266.73 298.23h1.03v1.46h-1.03zM253.75 282.3h1.16v1.25h-1.16zM278.9 296.97h1.29v0.98h-1.29zM261.63 284.55h0.91v1.1h-0.91zM256.98 290.58h1.11v1.37h-1.11zM249.35 286.13h1.21v1.11h-1.21zM254.56 275.75h0.86v0.87h-0.86zM258.02 307.28h0.98v1.21h-0.98zM262.91 297.74h0.87v0.9h-0.87zM255.23 259.38h1.12v0.97h-1.12zM247.31 293.15h1.19v1.4h-1.19zM255.89 261.24h1.02v0.82h-1.02zM262.75 280.28h1.03v0.9h-1.03zM267.9 284.56h1.18v0.88h-1.18zM262.4 296.95h1.2v0.81h-1.2zM256.14 266.85h1.35v1.24h-1.35zM251.23 313.74h1.29v1.23h-1.29zM258.44 299.52h1.49v1.23h-1.49zM265.05 278.2h0.93v0.98h-0.93zM249.37 302.96h1.11v0.93h-1.11zM278.58 295.47h1.26v1.38h-1.26zM246.16 306.68h0.97v0.9h-0.97zM250.58 298.21h1.1v1.16h-1.1zM253.77 262.34h1.15v1.41h-1.15zM255.79 274.9h0.94v0.83h-0.94zM252.94 267.46h1.36v1.48h-1.36zM254.02 284.5h1.04v1.32h-1.04zM258.08 287.52h1.37v1.04h-1.37zM258.84 262.18h1v1.19h-1zM265.4 296.4h0.89v1.19h-0.89zM266.15 278.4h1.43v1.32h-1.43zM259.64 270.45h0.8v1.2h-0.8zM250.19 281h0.96v0.89h-0.96zM254.38 265.39h1.16v0.92h-1.16zM272.55 288.1h1.22v1.08h-1.22zM249.55 307.57h1.19v1.48h-1.19zM258.13 289.27h0.88v0.94h-0.88zM246.28 312.82h0.97v1.02h-0.97zM258.56 301.81h1.43v0.97h-1.43zM252.54 280.25h1.26v1.14h-1.26zM246.48 314.99h1.02v1.31h-1.02zM261.38 293.32h1.24v1.38h-1.24zM259.64 304.48h1.4v1.49h-1.4zM253.78 266.34h0.97v1.39h-0.97zM272.87 289.66h1.05v0.98h-1.05zM264.91 274.09h0.88v1.13h-0.88zM260.46 280.43h0.98v1.36h-0.98zM261.09 274.82h1v0.95h-1zM267.74 280.93h0.93v1.31h-0.93zM255.11 279.54h1.23v1.24h-1.23zM265.11 286.83h1.02v1.35h-1.02zM252.26 280.06h1.15v1.39h-1.15zM262.87 279.51h1.19v1.36h-1.19zM261.07 282.44h1.22v1h-1.22zM255.29 282.27h0.86v0.99h-0.86zM258.75 268.42h1.4v1.31h-1.4zM253.08 301.67h1.33v0.98h-1.33zM249.02 305.2h1.24v1.12h-1.24zM244.14 304.83h0.99v0.94h-0.99zM280.71 295.53h0.98v0.97h-0.98zM246.33 307.5h1.12v1.15h-1.12zM251.45 305.96h1.1v1.18h-1.1zM265.92 274.92h1.14v1.18h-1.14zM264.65 270.95h1.3v1.02h-1.3zM259.24 274.62h1.39v0.97h-1.39zM255.26 303.64h1.43v0.98h-1.43zM245.77 301.21h0.84v0.91h-0.84zM251.49 289.29h1.15v1.2h-1.15zM250.42 290.6h1v1.46h-1zM262.83 302.38h1.21v1.33h-1.21zM258.97 298.06h1.25v1.18h-1.25zM260.4 297.94h1.23v1.16h-1.23zM272.66 286.46h0.89v1.4h-0.89zM247.74 289.53h1.37v1.31h-1.37zM272.29 293.14h0.91v1.03h-0.91zM259.42 286.5h0.8v1.22h-0.8zM252.62 309.31h1.15v1.07h-1.15zM245.28 305.82h1.49v1.03h-1.49zM274 298.97h1.33v1.21h-1.33zM259.93 282.2h1.21v1.09h-1.21zM258.05 305.08h1.3v1.08h-1.3zM255.11 287.27h0.82v1.15h-0.82zM250.34 305.71h1.47v1.38h-1.47zM260.2 302.56h0.9v1.44h-0.9zM254.59 287.2h0.87v0.86h-0.87zM243.57 305.62h1.25v1.2h-1.25zM262.87 296.61h1.2v1.36h-1.2zM255 306.5h1.06v0.94h-1.06zM249.16 306.2h0.93v1.11h-0.93zM254.74 276.77h0.89v1.04h-0.89zM270.93 289.8h0.95v1.15h-0.95zM254.39 304.45h1.49v1.31h-1.49zM253.84 292.38h0.91v1.4h-0.91zM267.71 291.02h1.42v1.35h-1.42zM264.82 288.04h1.13v1.17h-1.13zM265 276.41h1.26v1.17h-1.26zM252.69 269.51h1.36v0.83h-1.36zM259.81 264.3h1.47v1.35h-1.47zM246.8 299.51h1.3v1.18h-1.3zM268.76 278.07h1.45v1.12h-1.45zM253.55 269.2h1.17v1.19h-1.17zM263.13 269.41h1.23v1.45h-1.23zM261.46 279.63h1.47v0.87h-1.47zM253.84 296.05h1.05v1.44h-1.05zM261.99 285.6h1.48v1.2h-1.48zM254.82 268.28h0.95v1.48h-0.95zM254.19 265.39h0.88v0.83h-0.88zM260.5 296.83h1.23v1.12h-1.23zM266.33 282.4h1.09v0.82h-1.09zM263.98 278.51h1.31v0.99h-1.31zM264.7 287.87h1.09v1.09h-1.09zM263.18 293.49h0.98v0.82h-0.98zM255.49 276.8h1.22v0.96h-1.22z" fill="#5db548"/>
<path d="M252.42 285.3h1.66v1.1h-1.66zM253.65 276.51h1.56v1.13h-1.56zM253.82 274.13h1.03v1.98h-1.03zM256.17 279.92h1.62v1.4h-1.62zM258.91 278.66h1.02v1.57h-1.02zM252.91 275.71h1.13v1.38h-1.13zM254.85 291.06h1.91v1.75h-1.91zM262.27 283.93h1.62v1.7h-1.62zM253.3 290.78h1.7v1h-1.7zM254.69 284.91h1.64v1.72h-1.64zM256.46 290.46h1.46v1.04h-1.46zM259.4 296.38h1.95v1.36h-1.95zM259.25 275.82h1.26v1.16h-1.26zM259.7 271.04h1.36v1.24h-1.36zM258.78 282.58h1.46v1.37h-1.46zM259.73 290.73h1.2v1.72h-1.2zM253.06 276.88h1.84v1.07h-1.84zM263.39 277.02h1.95v1.41h-1.95zM258.52 278.64h1.18v1.56h-1.18zM254.89 270.06h1.7v1.18h-1.7zM262.82 294.55h1.26v1.61h-1.26zM252.84 276.15h1.18v1.3h-1.18zM252.4 278.6h1.8v1.06h-1.8zM263.64 282.64h1.81v1.99h-1.81zM262.76 277.26h1.24v1.65h-1.24zM262.34 270.98h1.46v1.56h-1.46zM263.02 293.97h1.43v1.99h-1.43zM263.01 282.3h1.8v1.28h-1.8zM251.76 281.74h1.9v1.6h-1.9zM252 283.02h1.68v1.28h-1.68zM250.27 295.26h1.81v1.3h-1.81zM253.69 280.49h1.04v1.46h-1.04zM260.34 283.29h1.78v1.79h-1.78zM263.42 281.37h1.22v1.51h-1.22zM259.38 292.47h1.6v1.04h-1.6zM261.61 294.55h1.19v1.23h-1.19zM251.37 286.94h1.98v1.75h-1.98zM253.8 283.51h1.5v1.13h-1.5zM252.87 273.11h1.47v1.83h-1.47zM263.71 291.72h1.71v1.99h-1.71zM257.99 276.05h1.42v1.55h-1.42zM255.02 267.66h1.41v1.61h-1.41zM260.3 294.03h1.45v1.72h-1.45zM262.58 280.58h1.98v1.66h-1.98zM258.11 285.09h1.06v1.03h-1.06zM258.7 273.72h1.45v1.98h-1.45zM261.67 272.27h1.57v1.73h-1.57zM256.49 297.95h1.94v1.54h-1.94zM262.99 272.84h1.6v1.6h-1.6zM262.47 283.86h1.06v1.37h-1.06zM261.26 283.47h1.49v1.87h-1.49zM263.54 287.05h1.03v1.33h-1.03zM254.47 289.12h1.56v1.46h-1.56zM253.59 290.94h1.53v1.39h-1.53zM261.51 277.83h1.21v1.6h-1.21zM260.12 271.7h1.55v1.06h-1.55zM258.2 273.49h1.49v1.67h-1.49zM260.14 271.11h1.9v1.89h-1.9zM263.99 289.46h1.71v1.76h-1.71zM260.01 288.1h1.5v1.64h-1.5zM252.45 282.8h1.71v1.79h-1.71zM263.1 275.32h1.89v1.05h-1.89zM255.36 267.44h1.92v1.14h-1.92zM251.2 296.19h1.59v1.15h-1.59zM256.84 269.46h1.46v1.2h-1.46zM257.2 272h1.98v1.09h-1.98zM252.46 277.85h1.82v1.95h-1.82zM261.63 274.79h1.52v1.49h-1.52zM255.52 295.18h1.19v1.78h-1.19zM254.08 285.85h1.72v1.87h-1.72zM257.46 296.68h1.22v1.9h-1.22zM257.02 287.28h1.29v1.53h-1.29zM252.52 282.53h1.83v1.62h-1.83zM260.57 288.74h1.93v1.96h-1.93zM259.79 280.28h1.78v1.16h-1.78zM260.1 292.02h1.41v1.17h-1.41zM253.22 296.07h1.6v1.01h-1.6zM253.1 286.85h1.62v1.22h-1.62zM258.13 280.71h1.57v1.26h-1.57zM262.57 292.71h1.45v1.77h-1.45zM254.83 290.52h1.25v1.03h-1.25zM254.75 277.21h1.92v1.94h-1.92zM259.37 289.62h1.8v1.15h-1.8zM260.6 290.6h1.75v1.86h-1.75zM258.96 279.65h1.03v1.81h-1.03zM259.26 292.98h1.28v1.39h-1.28zM259.32 276.26h1.25v1.29h-1.25zM259.27 273.09h1.89v1.95h-1.89zM253.3 295.41h1.69v1.51h-1.69zM264.05 292.62h1.07v1.07h-1.07zM265.84 282.77h1.18v1.61h-1.18zM254.25 280.64h1.62v1.33h-1.62zM261.37 281.58h1.11v1.68h-1.11zM259.18 292.36h1.48v1.37h-1.48zM264.98 286.72h1.46v1.51h-1.46zM253 278.97h1.22v1.29h-1.22zM265.1 292.16h1.65v1.19h-1.65zM252.21 292.2h1.36v1.98h-1.36zM256.27 293.15h1.88v1.71h-1.88zM258.29 294.81h1.66v1.22h-1.66zM264.52 284.7h1.44v1.59h-1.44zM263.91 285.23h1.81v1.6h-1.81zM264.54 280.29h1.09v1.9h-1.09zM258.71 282.89h1.45v1.09h-1.45zM256.42 274.35h1.6v1.68h-1.6zM257.86 276.86h1.94v1.29h-1.94zM253.84 272.95h1.37v1.69h-1.37zM264.12 280.46h1.57v1.27h-1.57zM254.03 270.55h1.91v1.59h-1.91zM253.95 280.08h1.98v1.09h-1.98zM258.23 292.85h1.33v1.15h-1.33zM251.96 297.05h1.96v1.98h-1.96zM257.36 274.73h1.4v1.97h-1.4zM261.42 282.99h1.75v1.91h-1.75zM257.49 270h1.82v1.02h-1.82zM263.13 274.58h1.22v1.51h-1.22zM258.93 275.15h1.45v1.94h-1.45zM257.92 284.2h1.96v1.43h-1.96zM261.74 282.61h1.58v1.34h-1.58zM252.11 292.93h1.87v1.27h-1.87zM260.16 267.72h1.4v1.97h-1.4zM253.82 274.24h1.28v1.15h-1.28zM262.78 287.13h1.55v1.71h-1.55zM261.34 288.46h1.84v1.29h-1.84zM266.28 288.44h1.31v1.33h-1.31zM255.49 296.63h1.96v1.83h-1.96zM262.41 289.24h1.49v1.95h-1.49zM252.36 289.78h1.28v1.52h-1.28zM260.3 296.54h1.76v1.4h-1.76zM262.11 284.76h1.96v1.06h-1.96zM255.16 294.68h1.2v1.13h-1.2zM264.99 289.76h1.62v1.08h-1.62zM257.16 284.95h1.08v1.08h-1.08zM265.1 278.93h1.83v1.94h-1.83zM260.48 270.37h1.92v1.59h-1.92zM257.52 283.26h1.28v1.85h-1.28zM253.69 270.98h1.77v1.28h-1.77zM261.15 292.12h1.34v1.12h-1.34zM265.18 287.81h1.57v1.78h-1.57zM255.11 278.99h1.3v1.29h-1.3zM265.36 278.98h1.34v1.47h-1.34zM259.24 288.16h2v1.75h-2zM257.84 291.83h1.12v1.11h-1.12zM257.32 283.03h1.5v1.3h-1.5zM257.34 284.7h1.12v1.21h-1.12zM256.03 290.66h1.4v1.63h-1.4zM265.47 281.87h1.56v1.6h-1.56zM258.04 281.24h1.52v1.7h-1.52zM256.02 296.15h1.1v1.05h-1.1zM257.74 296.59h1.01v1.03h-1.01zM262.78 288.87h1.11v1.31h-1.11zM261.07 292.88h1.98v1.34h-1.98zM258.05 275.21h1.8v1.27h-1.8zM254.43 281.55h1.14v1.99h-1.14zM259.38 276.2h1.89v1.58h-1.89zM259.84 270.47h1.48v1.85h-1.48zM257.32 285.23h1.43v1.94h-1.43zM253.19 280.24h1.21v1.68h-1.21zM259.19 297.11h1.04v1.93h-1.04zM253.16 287.83h1.45v1.89h-1.45zM257.34 291.76h1.16v1.5h-1.16zM254.65 290.43h1.42v1.57h-1.42zM259.12 269.48h1.55v1.7h-1.55zM263.56 280.86h1.79v1.71h-1.79zM262.48 289.36h1.3v1.19h-1.3zM262.66 289.43h1.46v1.04h-1.46zM253.08 287.38h1.75v1.01h-1.75zM257.8 288.86h1.63v1.19h-1.63zM256.71 284.11h1.66v1.47h-1.66zM257.89 278.74h1.12v1.64h-1.12zM264.41 281.08h1.33v1.36h-1.33zM253.38 275.58h1.91v1.43h-1.91zM259.99 284.84h1.36v1.84h-1.36zM250.4 295.49h1.44v1.52h-1.44zM252.47 279.68h1.64v1.01h-1.64zM264.62 280.96h1.42v1.58h-1.42zM252.81 288.2h1.19v1.83h-1.19zM259.77 281.42h1.44v1.45h-1.44zM253.3 278.25h1.85v1.67h-1.85zM257.99 279.32h1.53v1.98h-1.53zM258.82 266.52h1.19v1.64h-1.19zM258.45 273.8h1.51v1.49h-1.51zM261.91 291.43h1.7v1.99h-1.7zM261.21 279.92h1.42v1.08h-1.42zM264.27 292.93h1.14v1.65h-1.14zM257.2 267.15h1.71v1.58h-1.71zM266.1 287.11h1.33v1.91h-1.33zM251.27 287.11h1.99v1.22h-1.99zM263.94 286.01h1.83v1.11h-1.83zM254.08 279.13h1.4v1.95h-1.4zM258.71 275.09h1.93v1.6h-1.93zM254.08 281.14h1.04v1.15h-1.04zM265.6 280.26h1.56v1.02h-1.56zM259.36 271.25h1.7v1.68h-1.7zM258.98 280.5h1.63v1.88h-1.63zM253.88 280.58h1.21v1.14h-1.21zM256.89 273.77h1.66v1.1h-1.66zM256.49 293.39h1.23v1.31h-1.23zM253.67 281.14h1.35v1.96h-1.35zM256.56 291.07h1.49v1.69h-1.49zM253.11 295.89h1.82v1.16h-1.82zM263.32 283.27h1.77v1.14h-1.77zM254.85 269.95h1.95v1.92h-1.95zM259.34 267.74h1.26v1.2h-1.26zM261.99 274.1h1.85v1.17h-1.85zM256.27 266.5h1.02v1.17h-1.02zM262.35 295.47h1.11v1.43h-1.11zM257.03 293.43h1.77v1.15h-1.77zM263.24 283.08h1.64v1.93h-1.64zM258.2 273.38h1.35v1.15h-1.35zM256.38 275.96h1.26v1.85h-1.26zM261.71 282.93h1.35v1.57h-1.35zM263.74 288h1.58v1.46h-1.58zM256.37 270.29h1.94v1.22h-1.94zM259.94 294.73h1.82v1.27h-1.82zM253.3 296.87h1.32v1.31h-1.32zM257.8 276.09h1.57v1.11h-1.57zM256.97 292.08h1.28v1.43h-1.28zM263.2 292.79h1.52v1.22h-1.52zM264.63 285.72h1.89v1.27h-1.89zM259.66 286.82h1.56v1.2h-1.56zM255.88 278.37h1.13v1.72h-1.13zM263.1 286.7h1.22v1.61h-1.22zM254.8 275.27h1.23v1.24h-1.23zM253.76 272.39h1.73v1.43h-1.73zM255.06 276.65h1.83v1.7h-1.83zM255.34 298.91h1.78v1.45h-1.78zM262.04 290.04h1.32v1.63h-1.32zM263.51 276.87h1.4v1.25h-1.4zM253.38 284.47h1.02v1.21h-1.02zM260.33 276.8h1.43v1.32h-1.43zM251.31 287.49h1.74v1.58h-1.74zM261.4 278.43h1.06v1.14h-1.06zM252.3 290.58h1.03v1.29h-1.03zM258.69 277.47h1.79v1.69h-1.79zM265.82 283.29h1.68v1.47h-1.68zM256.62 273.73h1.17v1.9h-1.17zM254.74 276.95h1.86v1.32h-1.86zM260.71 277.43h1.57v1.1h-1.57zM256.55 298.26h1.43v1.05h-1.43zM259.81 287.76h1.11v1.1h-1.11zM254.27 286.64h1.57v1.61h-1.57zM251 293.62h1.42v1.96h-1.42zM263.98 287.41h1.09v1.9h-1.09zM255.84 297.33h1.87v1.35h-1.87zM264.89 288.73h1.93v1.14h-1.93zM251.9 297.03h1.07v1.15h-1.07zM253.59 281.53h1.65v1.39h-1.65zM262.42 279.14h1.84v1.53h-1.84zM251.91 295.12h1.94v1.42h-1.94zM253.97 278.2h1.23v1.43h-1.23zM261.1 287.64h1.29v1.42h-1.29zM256.78 266.81h1.8v1.88h-1.8zM261.44 273.28h1.9v1.89h-1.9zM265.78 284.61h1.7v1.07h-1.7zM256.89 274.24h1.21v1.24h-1.21zM260.05 277.7h1.85v1.32h-1.85zM255.74 288.4h1.61v1.94h-1.61zM256.83 278.41h1.27v1.77h-1.27zM262.4 279.54h1.53v1.28h-1.53z" fill="#5db548"/>
<path d="M289.43 290.66h0.79v0.82h-0.79zM298.71 293.87h1.06v0.88h-1.06zM308.51 303.51h0.98v0.9h-0.98zM314.45 310.52h0.93v0.97h-0.93zM297.76 293.9h1.03v0.89h-1.03zM315.01 309.67h0.72v0.79h-0.72zM298 291.06h1.03v1.09h-1.03zM287.87 289.53h0.93v0.89h-0.93zM298.31 293.07h0.83v0.94h-0.83zM313.5 310.7h0.9v0.87h-0.9zM313.49 309.82h0.74v0.82h-0.74zM300.99 298.1h0.97v0.85h-0.97zM302.22 299.04h0.99v0.82h-0.99zM313.75 310.92h1.04v0.95h-1.04zM302.15 301.25h0.76v1.07h-0.76zM313.83 304.97h0.85v1.08h-0.85zM289.73 292.36h0.85v1.1h-0.85zM315.12 308.49h1.06v0.91h-1.06zM304.17 300.2h1.03v0.99h-1.03zM311.55 303.71h0.97v0.85h-0.97zM296.2 292.27h1.08v1.01h-1.08zM292.33 289.71h0.98v1h-0.98zM311.1 305.98h0.8v0.74h-0.8zM295.18 291.79h1.08v0.83h-1.08zM315.26 307.48h0.79v1.06h-0.79zM311.18 304.92h0.96v0.73h-0.96zM289.94 289.49h0.86v0.73h-0.86zM314.26 310.74h1.08v0.74h-1.08zM301.48 299.94h0.81v0.97h-0.81zM310.19 304.39h0.94v0.78h-0.94zM292.24 291.48h0.86v0.85h-0.86zM299.61 298.38h0.95v0.7h-0.95zM303.78 300.53h0.89v0.95h-0.89zM312.43 303.52h0.98v0.95h-0.98zM311.77 308.95h0.95v0.83h-0.95zM301.75 300.61h0.83v1.01h-0.83zM300.04 295.59h0.82v0.96h-0.82zM288.05 289.85h0.94v1.07h-0.94zM302.3 300.5h0.74v0.94h-0.74zM315.03 310.14h0.78v0.95h-0.78zM279.63 277.23h0.76v0.71h-0.76zM254.57 283.65h0.96v0.78h-0.96zM264.04 255.45h1v0.89h-1zM277.01 293.79h0.86v0.86h-0.86zM259.74 279h0.78v0.96h-0.78zM265.73 298.08h0.9v0.87h-0.9zM269.03 289.47h0.74v0.74h-0.74zM252.76 282.71h0.9v0.74h-0.9zM284.44 289.68h0.8v0.79h-0.8zM261.89 261.82h0.97v0.72h-0.97zM276.73 292.48h0.87v0.99h-0.87zM277.52 280.15h0.86v0.95h-0.86zM262.84 256.09h0.88v0.86h-0.88zM267.74 265.57h0.81v0.79h-0.81zM257.19 252.86h0.98v0.86h-0.98zM282.2 291.02h0.83v0.85h-0.83zM255.95 253.44h0.93v0.91h-0.93zM262.22 268.72h0.82v0.94h-0.82zM254.98 271.35h0.93v0.87h-0.93zM273.88 291.58h1v0.8h-1zM283.55 284.8h0.73v0.89h-0.73zM273.69 265.61h0.9v0.99h-0.9zM279.03 291.05h0.91v0.89h-0.91zM254.05 271.58h0.76v0.85h-0.76zM270.19 296.14h0.75v0.81h-0.75zM252.67 289.75h0.77v0.92h-0.77zM262.27 252.67h0.98v0.99h-0.98zM279.78 286.81h0.79v0.93h-0.79zM267.05 265.08h0.9v0.91h-0.9zM256.32 249.17h0.77v0.92h-0.77zM277.63 273.32h0.76v0.89h-0.76zM265.66 258.43h0.84v0.92h-0.84zM279.67 291.75h0.81v0.96h-0.81zM279.1 274.53h0.78v0.89h-0.78zM253.59 269.63h0.78v0.83h-0.78zM268.95 254.27h0.96v0.8h-0.96zM252.76 277.22h0.95v0.76h-0.95zM263.63 260.73h0.76v0.73h-0.76zM272.71 267.87h0.77v0.85h-0.77zM272.78 264.56h0.7v0.79h-0.7z" fill="#5db548"/>
<path d="M238.88 313.57h0.91v0.72h-0.91zM241.18 305.25h0.84v0.82h-0.84zM283.77 374.89h0.86v0.93h-0.86zM286.14 311.68h0.97v0.87h-0.97zM298.75 294.33h0.93v0.74h-0.93zM293.36 306.09h0.93v0.95h-0.93zM243.32 322.05h0.93v0.95h-0.93zM261.62 345.94h0.95v0.84h-0.95zM241.39 324.07h0.86v0.83h-0.86zM261.22 300.6h0.93v0.73h-0.93zM252.45 319.6h0.83v0.77h-0.83zM265.22 316.75h0.87v0.99h-0.87zM308.86 311.92h0.87v0.8h-0.87zM270.18 333.35h0.97v0.92h-0.97zM269.84 307.13h0.74v0.84h-0.74zM245.95 313.37h0.77v0.73h-0.77zM272.47 321.82h0.89v0.95h-0.89zM254.33 324.47h0.81v0.99h-0.81zM267.52 308.18h0.92v0.87h-0.92zM280.26 352.46h0.87v0.71h-0.87zM312.84 308.58h0.73v1h-0.73zM309.04 307.04h0.95v0.83h-0.95zM262.8 312.06h0.89v0.96h-0.89zM273.28 310.71h0.98v0.72h-0.98zM298.12 318.06h0.74v0.88h-0.74zM279.05 352.84h0.7v0.76h-0.7zM286.04 306.56h0.82v0.95h-0.82zM250.28 297.47h0.86v0.94h-0.86zM274.41 333.31h0.73v0.74h-0.73zM259.08 302.25h0.81v0.96h-0.81zM249.1 307.56h0.93v0.77h-0.93zM234.29 308.79h0.76v0.85h-0.76zM251.54 292.3h0.97v0.96h-0.97zM257.68 304.24h0.71v0.9h-0.71zM274.61 321.63h0.76v0.76h-0.76zM289.14 300.84h0.88v0.93h-0.88zM272.58 331.91h0.73v0.71h-0.73zM281.43 310.1h0.95v0.84h-0.95zM243.02 338.33h0.99v0.75h-0.99zM249.4 332.14h0.97v0.72h-0.97zM260.75 307.76h0.93v0.74h-0.93zM258.72 312.4h0.9v0.93h-0.9zM295.74 313.71h0.7v0.83h-0.7zM270.83 346.86h0.85v0.85h-0.85zM280.8 336.29h0.73v0.93h-0.73zM247.39 327.65h0.75v0.93h-0.75zM265.78 322.06h0.86v0.92h-0.86zM291.2 321.44h0.74v0.93h-0.74zM241.38 316.72h0.85v0.92h-0.85zM244.95 336.47h0.79v0.92h-0.79zM276.05 309.25h0.92v0.79h-0.92zM278.54 296.97h0.71v0.93h-0.71zM244.18 312h0.98v0.7h-0.98zM293.87 314.05h0.86v0.72h-0.86zM235.94 321.26h0.77v0.92h-0.77zM301.61 300.41h0.82v0.94h-0.82zM297.26 306.34h0.89v0.97h-0.89zM313.73 310.3h0.9v0.95h-0.9zM258.88 318.31h0.81v0.95h-0.81zM245.63 296.91h0.84v0.91h-0.84zM247.07 312.53h0.76v0.83h-0.76zM262.2 347.3h0.81v0.81h-0.81zM272.58 318.36h0.98v0.7h-0.98zM239.63 320.92h0.94v0.78h-0.94zM244.26 292.23h0.89v0.91h-0.89zM248.12 310.29h0.84v0.75h-0.84zM271.24 337.05h0.83v0.71h-0.83zM253.65 328.51h0.92v0.89h-0.92zM248.35 289.62h0.91v0.86h-0.91zM271.07 311.43h0.85v0.86h-0.85zM275.55 355.03h0.97v0.86h-0.97zM298.46 297.92h0.95v0.74h-0.95zM291.51 300.22h0.9v0.91h-0.9zM246.18 335.53h0.75v0.96h-0.75zM273.14 299.79h1v0.81h-1zM244.1 329.25h0.87v0.84h-0.87zM244.45 297.4h0.94v0.91h-0.94zM235.39 319.7h0.81v0.76h-0.81zM269.33 317.92h0.73v0.97h-0.73zM310.9 309.56h0.95v0.83h-0.95zM274.99 345.82h0.75v1h-0.75zM251.94 338.24h0.73v0.89h-0.73zM274.92 331.23h0.7v0.88h-0.7zM241.98 311.36h0.86v0.87h-0.86zM282.61 374.67h0.73v0.98h-0.73zM244.3 332.82h0.91v0.86h-0.91zM247.76 287.81h0.76v0.7h-0.76zM265.33 354.84h0.83v0.78h-0.83zM284.43 326.12h0.95v1h-0.95zM273.05 317.37h0.92v1h-0.92zM235.44 318.11h0.99v0.98h-0.99zM303.31 311.5h0.91v0.81h-0.91zM276.91 375.02h0.79v0.95h-0.79zM276.47 348.11h0.71v0.78h-0.71zM267.04 356.01h0.88v0.97h-0.88zM300.17 314.03h0.93v0.77h-0.93zM265.05 316.24h0.9v0.85h-0.9zM242.73 336.36h0.92v0.92h-0.92zM257.66 347.79h0.72v0.75h-0.72zM235.91 324.07h0.94v0.73h-0.94zM273.09 315.67h0.92v0.77h-0.92zM294.27 299.89h0.89v0.9h-0.89zM252.89 343.29h0.83v0.76h-0.83zM298.64 304.46h0.81v0.86h-0.81zM279.48 327.18h0.85v0.93h-0.85zM289.07 304.37h0.84v0.89h-0.84zM252.66 325.14h0.89v0.94h-0.89zM310.52 313.69h0.97v0.8h-0.97zM281 323.37h0.79v0.94h-0.79zM286.1 310.61h0.77v0.99h-0.77zM263.7 262.89h0.91v0.93h-0.91zM279.12 272.59h0.74v0.91h-0.74zM267.31 289.38h0.82v0.97h-0.82zM264.98 273.83h0.86v0.71h-0.86zM277.27 287.44h0.91v0.82h-0.91zM257.2 243.59h0.9v0.75h-0.9zM252.87 284.51h0.71v0.98h-0.71zM265.05 267.49h0.85v0.87h-0.85zM259.03 267.82h0.77v0.72h-0.77zM253.5 263.83h0.84v0.8h-0.84zM253.25 269.42h0.8v0.97h-0.8zM280.56 286.55h0.79v0.77h-0.79zM262.35 286.89h0.91v0.99h-0.91zM275.52 264.78h0.76v0.87h-0.76zM262.55 278.48h0.88v0.99h-0.88zM258.11 251.38h0.75v0.73h-0.75zM273.95 282.78h0.81v0.86h-0.81zM269.64 270.03h0.8v0.96h-0.8zM277.4 283.63h0.96v0.73h-0.96zM260.26 276.93h0.75v0.87h-0.75zM265.32 292.32h0.81v0.81h-0.81zM274.83 277.88h0.99v0.76h-0.99zM249.98 285.31h0.78v0.9h-0.78zM267.21 287.52h0.97v0.94h-0.97zM276.51 281.86h0.81v0.9h-0.81zM273.36 290.19h0.95v0.71h-0.95zM270.55 263.61h0.95v0.98h-0.95zM258.63 253.62h0.74v0.88h-0.74zM269.78 277.43h0.98v0.99h-0.98zM272.69 289.27h0.82v0.71h-0.82zM262.29 295.45h0.74v0.7h-0.74zM266.71 295h0.88v0.86h-0.88zM259.49 248.17h0.74v0.77h-0.74zM265.69 284.74h0.78v0.93h-0.78zM262.41 255.06h0.97v0.81h-0.97zM261.12 266.56h0.89v0.72h-0.89zM275.28 271.13h0.73v0.96h-0.73zM274.45 269.82h0.77v0.99h-0.77zM262.23 261.05h0.82v1h-0.82zM255.44 269.4h0.75v0.94h-0.75zM229.76 288.99h0.86v0.88h-0.86zM225.86 288.87h0.78v0.97h-0.78zM220.8 284.22h0.72v0.73h-0.72zM226.83 286.65h0.87v0.84h-0.87z" fill="#3753a4"/>
<path d="M321.82 333.57h0.79v0.71h-0.79zM324 329.39h0.97v0.8h-0.97zM329.56 325.7h0.85v0.71h-0.85zM329.55 335.87h0.78v0.84h-0.78zM325.52 337.58h0.76v1h-0.76zM330.31 332.67h0.76v0.91h-0.76zM325.9 335.43h0.91v0.96h-0.91zM327.24 324.81h0.87v0.78h-0.87zM309.86 347.76h0.8v0.97h-0.8zM309.58 354.93h0.98v0.79h-0.98zM310.61 357.31h0.72v0.79h-0.72zM305.32 355.79h0.89v0.77h-0.89zM301.41 351.95h0.84v0.92h-0.84zM311.99 354.4h0.74v0.79h-0.74zM311.96 347.11h0.8v0.73h-0.8zM306.11 347.78h0.81v0.71h-0.81zM299.14 348.6h0.95v0.78h-0.95zM314.68 355.11h0.96v0.75h-0.96z" fill="#5db548"/>
<path d="M239.26 306.78h1.03v1.26h-1.03zM232 312.46h1.07v0.63h-1.07zM250.26 312.22h0.92v0.98h-0.92zM249.66 303.76h0.63v0.72h-0.63zM244.4 327.51h1.04v0.9h-1.04zM248.26 320.09h1.28v1.07h-1.28zM242.46 305.28h0.76v0.7h-0.76zM231.6 311.57h0.96v0.86h-0.96zM241.8 302.06h0.89v0.81h-0.89zM251.24 315.89h0.69v1.01h-0.69zM244.46 330.89h1.1v0.69h-1.1zM235.37 306.27h0.71v1.23h-0.71zM242.92 298.47h0.65v1.14h-0.65zM251.74 305.56h0.8v0.94h-0.8zM254.99 303.81h1.22v0.91h-1.22zM240.71 325.44h1.18v0.81h-1.18zM247.77 319.9h0.83v0.87h-0.83zM246.43 332.91h0.93v0.67h-0.93zM234.95 305.5h1.06v0.65h-1.06zM234.68 317.31h0.64v0.9h-0.64zM251.65 299.17h0.87v1.17h-0.87zM241.76 304.46h1.01v1.18h-1.01zM245.9 312.07h1.14v1.19h-1.14zM250.83 305.21h1.21v1.23h-1.21zM253.2 308.41h0.99v1.12h-0.99zM244.04 331.62h0.86v0.82h-0.86zM244.3 299.37h0.77v1.07h-0.77zM248.91 316.32h0.99v1.24h-0.99zM245.24 330.36h1.04v1.02h-1.04zM247.9 321.37h1.16v0.77h-1.16zM248.71 316.01h1.14v1.16h-1.14zM247.22 310.14h0.72v1.28h-0.72zM241.16 304.3h1.13v0.78h-1.13zM245.44 305.02h1.26v0.64h-1.26zM237.61 316.08h0.86v1.1h-0.86zM239.28 306.67h1.15v1.25h-1.15zM240.8 299.22h0.69v0.7h-0.69zM240.32 320.61h0.75v1.04h-0.75zM240.92 307.58h0.99v1.02h-0.99zM235.55 320.71h0.93v1.08h-0.93zM238.09 307.59h1.17v1.27h-1.17zM242.81 308.93h1.41v1.6h-1.41zM241.46 305.54h1.18v0.91h-1.18zM245.74 313.31h0.97v1.36h-0.97zM240.33 309.01h1.67v1.43h-1.67zM243.48 315.03h1.53v1.45h-1.53zM241.42 303.08h1.06v1.49h-1.06zM249.85 302.82h1.63v1.07h-1.63zM239.75 306.1h1.39v1.4h-1.39zM244.79 304.12h1.33v0.98h-1.33zM245.49 307.27h1.52v1.65h-1.52zM243.44 318.97h1.69v0.96h-1.69zM269.81 341.21h0.82v0.62h-0.82zM258.87 319.46h0.84v0.87h-0.84zM266.76 325.55h0.78v0.78h-0.78zM260.77 320.8h0.88v0.74h-0.88zM258.61 322.54h0.83v0.61h-0.83zM262.56 327.95h0.76v0.76h-0.76zM266.39 339.95h0.71v0.77h-0.71zM263.8 348.15h0.61v0.87h-0.61zM261.26 325.34h0.7v0.66h-0.7zM267.6 340.97h0.68v0.89h-0.68zM257.43 324.83h0.78v0.65h-0.78zM260.1 337.38h0.83v0.75h-0.83zM268.85 323.47h0.74v0.86h-0.74zM259.61 343.51h0.82v0.85h-0.82zM256.28 321.27h0.83v0.88h-0.83zM271.36 336.32h0.63v0.66h-0.63zM268.66 345.24h0.75v0.84h-0.75zM262.81 326.36h0.86v0.76h-0.86zM259.21 333.48h0.81v0.83h-0.81zM263.21 345.15h0.64v0.87h-0.64zM270.75 330.75h0.61v0.66h-0.61zM259.32 324.37h0.61v0.66h-0.61zM248.42 330.2h0.82v0.96h-0.82zM244.32 338.93h1.08v1.26h-1.08zM246.7 326.79h1.27v1.6h-1.27zM247.68 333.34h1.01v1.4h-1.01zM242.19 328.99h1.2v1.26h-1.2zM248.49 326.62h1.69v1.15h-1.69zM246.32 326.2h1.27v1.16h-1.27zM240.29 328.66h1.56v1.1h-1.56zM248.71 335.53h1.14v0.83h-1.14zM242.49 331.65h1.25v1.06h-1.25zM241.68 331.03h1.55v1.49h-1.55zM244.46 328.85h1.43v1.57h-1.43zM249.69 330.67h1.43v1.32h-1.43zM241.45 328.85h1.06v0.81h-1.06zM242.05 325.23h0.83v1.36h-0.83zM242.65 339.65h1.53v0.96h-1.53zM241.06 331.13h1.27v1.07h-1.27zM248.83 328.88h1.59v1.44h-1.59zM248.05 337.74h0.91v1.1h-0.91zM240.15 332.28h1.47v1.53h-1.47zM243.02 326.89h1.03v1.39h-1.03zM249.31 332.14h1.5v1.5h-1.5zM280.97 337.35h0.9v0.87h-0.9zM280.61 338.97h1.04v0.78h-1.04zM284.18 320.11h0.83v0.78h-0.83zM284.7 315.58h1.11v0.98h-1.11zM281.44 342h1.15v1.05h-1.15zM284.69 319.05h0.99v0.93h-0.99zM284.21 320.42h0.83v0.79h-0.83zM280.43 317.96h0.68v0.73h-0.68zM281.04 315.34h1.05v0.83h-1.05zM281.61 330.27h0.68v0.7h-0.68zM280.03 330.86h1.09v1.1h-1.09zM281.29 315.2h0.9v0.88h-0.9zM280.89 314.96h0.68v0.76h-0.68zM285.04 320.96h1.08v1.19h-1.08zM280.48 315.67h0.99v0.63h-0.99zM280.98 337.83h1.05v0.84h-1.05zM281.98 313.64h0.93v1.13h-0.93zM279.65 330.62h0.86v0.7h-0.86zM280.16 321.39h0.82v1.14h-0.82zM279.81 331.23h0.9v0.84h-0.9zM281.55 332.25h1.01v0.75h-1.01zM283.28 328.21h0.7v0.98h-0.7zM284.88 320.44h0.89v0.73h-0.89zM281.37 321.54h1.15v1.17h-1.15zM281.5 337.17h0.92v1.09h-0.92z" fill="#fff"/>
</g>
<rect x="215.7" y="237.6" width="125.3" height="155" fill="none" stroke="#2a2a2a" stroke-width="1.1"/>
<line x1="213.4" y1="268.7" x2="215.7" y2="268.7" stroke="#222" stroke-width="0.9"/>
<line x1="213.4" y1="310.3" x2="215.7" y2="310.3" stroke="#222" stroke-width="0.9"/>
<line x1="213.4" y1="351.9" x2="215.7" y2="351.9" stroke="#222" stroke-width="0.9"/>
<line x1="241.3" y1="393" x2="241.3" y2="395.6" stroke="#222" stroke-width="0.9"/>
<text x="241" y="405.3" font-size="6" fill="#222" text-anchor="middle">-4</text>
<line x1="276.2" y1="393" x2="276.2" y2="395.6" stroke="#222" stroke-width="0.9"/>
<text x="275.9" y="405.3" font-size="6" fill="#222" text-anchor="middle">0</text>
<line x1="310.9" y1="393" x2="310.9" y2="395.6" stroke="#222" stroke-width="0.9"/>
<text x="310.6" y="405.3" font-size="6" fill="#222" text-anchor="middle">4</text>
<rect x="347.2" y="237.6" width="125.3" height="155" fill="none" stroke="#2a2a2a" stroke-width="1.1"/>
<line x1="344.9" y1="268.7" x2="347.2" y2="268.7" stroke="#222" stroke-width="0.9"/>
<line x1="344.9" y1="310.3" x2="347.2" y2="310.3" stroke="#222" stroke-width="0.9"/>
<line x1="344.9" y1="351.9" x2="347.2" y2="351.9" stroke="#222" stroke-width="0.9"/>
<line x1="372.2" y1="393" x2="372.2" y2="395.6" stroke="#222" stroke-width="0.9"/>
<text x="371.9" y="405.3" font-size="6" fill="#222" text-anchor="middle">-4</text>
<line x1="407.2" y1="393" x2="407.2" y2="395.6" stroke="#222" stroke-width="0.9"/>
<text x="406.9" y="405.3" font-size="6" fill="#222" text-anchor="middle">4</text>
<line x1="442.5" y1="393" x2="442.5" y2="395.6" stroke="#222" stroke-width="0.9"/>
<text x="442.2" y="405.3" font-size="6" fill="#222" text-anchor="middle">4</text>
<text x="209.9" y="270.8" font-size="6" fill="#222" text-anchor="end">4</text>
<text x="209.9" y="312.4" font-size="6" fill="#222" text-anchor="end">0</text>
<text x="209.9" y="354" font-size="6" fill="#222" text-anchor="end">-4</text>
<circle cx="294.9" cy="245.8" r="2.3" fill="#7a2a8a"/>
<circle cx="294.9" cy="254.6" r="2.3" fill="#d98c1f"/>
<text x="300.8" y="247.58" font-size="6.6" fill="#222" textLength="19.2" lengthAdjust="spacingAndGlyphs">patient</text>
<text x="300.8" y="256.38" font-size="6.6" fill="#222" textLength="33" lengthAdjust="spacingAndGlyphs">gene-edited</text>
<circle cx="443.1" cy="244.7" r="2.3" fill="#28308f"/>
<text x="448.6" y="246.97" font-size="6.6" fill="#222" textLength="10.9" lengthAdjust="spacingAndGlyphs">ALL</text>
<circle cx="443.1" cy="253" r="2.3" fill="#d7261e"/>
<text x="455.3" y="255.27" font-size="6.6" fill="#222" text-anchor="middle">AML</text>
<circle cx="443.1" cy="261.8" r="2.3" fill="#32a04a"/>
<text x="457.55" y="264.07" font-size="6.6" fill="#222" text-anchor="middle">MPAL</text>
<text transform="translate(201.4 315.1) rotate(-90)" font-size="8.8" fill="#222" text-anchor="middle" textLength="20.8" lengthAdjust="spacingAndGlyphs" font-weight="bold">UMAP 2</text>
<text x="332.7" y="417.3" font-size="8.8" fill="#222" textLength="21.4" lengthAdjust="spacingAndGlyphs" font-weight="bold">UMAP 1</text>
<text x="79.5" y="439.47" font-size="8.4" textLength="59.9" lengthAdjust="spacingAndGlyphs">patient leukemia</text>
<line x1="29.5" y1="454.4" x2="29.5" y2="459" stroke="#111" stroke-width="0.8"/>
<line x1="40.11" y1="454.4" x2="40.11" y2="459" stroke="#111" stroke-width="0.8"/>
<line x1="29.5" y1="454.4" x2="40.11" y2="454.4" stroke="#111" stroke-width="0.8"/>
<line x1="50.72" y1="457" x2="50.72" y2="459" stroke="#111" stroke-width="0.8"/>
<line x1="61.33" y1="457" x2="61.33" y2="459" stroke="#111" stroke-width="0.8"/>
<line x1="50.72" y1="457" x2="61.33" y2="457" stroke="#111" stroke-width="0.8"/>
<line x1="71.94" y1="457" x2="71.94" y2="459" stroke="#111" stroke-width="0.8"/>
<line x1="82.55" y1="457" x2="82.55" y2="459" stroke="#111" stroke-width="0.8"/>
<line x1="71.94" y1="457" x2="82.55" y2="457" stroke="#111" stroke-width="0.8"/>
<line x1="56.03" y1="455" x2="56.03" y2="457" stroke="#111" stroke-width="0.8"/>
<line x1="77.25" y1="455" x2="77.25" y2="457" stroke="#111" stroke-width="0.8"/>
<line x1="56.03" y1="455" x2="77.25" y2="455" stroke="#111" stroke-width="0.8"/>
<line x1="34.81" y1="450.6" x2="34.81" y2="454.4" stroke="#111" stroke-width="0.8"/>
<line x1="66.64" y1="450.6" x2="66.64" y2="455" stroke="#111" stroke-width="0.8"/>
<line x1="34.81" y1="450.6" x2="66.64" y2="450.6" stroke="#111" stroke-width="0.8"/>
<line x1="93.17" y1="455.7" x2="93.17" y2="459" stroke="#111" stroke-width="0.8"/>
<line x1="103.77" y1="455.7" x2="103.77" y2="459" stroke="#111" stroke-width="0.8"/>
<line x1="93.17" y1="455.7" x2="103.77" y2="455.7" stroke="#111" stroke-width="0.8"/>
<line x1="114.39" y1="452.6" x2="114.39" y2="459" stroke="#111" stroke-width="0.8"/>
<line x1="124.99" y1="452.6" x2="124.99" y2="459" stroke="#111" stroke-width="0.8"/>
<line x1="114.39" y1="452.6" x2="124.99" y2="452.6" stroke="#111" stroke-width="0.8"/>
<line x1="146.21" y1="454.6" x2="146.21" y2="459" stroke="#111" stroke-width="0.8"/>
<line x1="156.82" y1="454.6" x2="156.82" y2="459" stroke="#111" stroke-width="0.8"/>
<line x1="146.21" y1="454.6" x2="156.82" y2="454.6" stroke="#111" stroke-width="0.8"/>
<line x1="135.6" y1="453.4" x2="135.6" y2="459" stroke="#111" stroke-width="0.8"/>
<line x1="151.52" y1="453.4" x2="151.52" y2="454.6" stroke="#111" stroke-width="0.8"/>
<line x1="135.6" y1="453.4" x2="151.52" y2="453.4" stroke="#111" stroke-width="0.8"/>
<line x1="119.69" y1="448.5" x2="119.69" y2="452.6" stroke="#111" stroke-width="0.8"/>
<line x1="143.56" y1="448.5" x2="143.56" y2="453.4" stroke="#111" stroke-width="0.8"/>
<line x1="119.69" y1="448.5" x2="143.56" y2="448.5" stroke="#111" stroke-width="0.8"/>
<line x1="98.47" y1="447.5" x2="98.47" y2="455.7" stroke="#111" stroke-width="0.8"/>
<line x1="131.63" y1="447.5" x2="131.63" y2="448.5" stroke="#111" stroke-width="0.8"/>
<line x1="98.47" y1="447.5" x2="131.63" y2="447.5" stroke="#111" stroke-width="0.8"/>
<line x1="178.04" y1="456.7" x2="178.04" y2="459" stroke="#111" stroke-width="0.8"/>
<line x1="188.65" y1="456.7" x2="188.65" y2="459" stroke="#111" stroke-width="0.8"/>
<line x1="178.04" y1="456.7" x2="188.65" y2="456.7" stroke="#111" stroke-width="0.8"/>
<line x1="167.43" y1="452.5" x2="167.43" y2="459" stroke="#111" stroke-width="0.8"/>
<line x1="183.35" y1="452.5" x2="183.35" y2="456.7" stroke="#111" stroke-width="0.8"/>
<line x1="167.43" y1="452.5" x2="183.35" y2="452.5" stroke="#111" stroke-width="0.8"/>
<line x1="115.05" y1="446.2" x2="115.05" y2="447.5" stroke="#111" stroke-width="0.8"/>
<line x1="175.39" y1="446.2" x2="175.39" y2="452.5" stroke="#111" stroke-width="0.8"/>
<line x1="115.05" y1="446.2" x2="175.39" y2="446.2" stroke="#111" stroke-width="0.8"/>
<line x1="50.72" y1="444.9" x2="50.72" y2="450.6" stroke="#111" stroke-width="0.8"/>
<line x1="145.22" y1="444.9" x2="145.22" y2="446.2" stroke="#111" stroke-width="0.8"/>
<line x1="50.72" y1="444.9" x2="145.22" y2="444.9" stroke="#111" stroke-width="0.8"/>
<rect x="24.2" y="459" width="10.61" height="6.5" fill="#3b5fb5" stroke="#151515" stroke-width="0.8"/>
<rect x="34.81" y="459" width="10.61" height="6.5" fill="#3b5fb5" stroke="#151515" stroke-width="0.8"/>
<rect x="45.42" y="459" width="10.61" height="6.5" fill="#3b5fb5" stroke="#151515" stroke-width="0.8"/>
<rect x="56.03" y="459" width="10.61" height="6.5" fill="#3b5fb5" stroke="#151515" stroke-width="0.8"/>
<rect x="66.64" y="459" width="10.61" height="6.5" fill="#3b5fb5" stroke="#151515" stroke-width="0.8"/>
<rect x="77.25" y="459" width="10.61" height="6.5" fill="#3b5fb5" stroke="#151515" stroke-width="0.8"/>
<rect x="87.86" y="459" width="10.61" height="6.5" fill="#e03222" stroke="#151515" stroke-width="0.8"/>
<rect x="98.47" y="459" width="10.61" height="6.5" fill="#e03222" stroke="#151515" stroke-width="0.8"/>
<rect x="109.08" y="459" width="10.61" height="6.5" fill="#e03222" stroke="#151515" stroke-width="0.8"/>
<rect x="119.69" y="459" width="10.61" height="6.5" fill="#e03222" stroke="#151515" stroke-width="0.8"/>
<rect x="130.3" y="459" width="10.61" height="6.5" fill="#e03222" stroke="#151515" stroke-width="0.8"/>
<rect x="140.91" y="459" width="10.61" height="6.5" fill="#e03222" stroke="#151515" stroke-width="0.8"/>
<rect x="151.52" y="459" width="10.61" height="6.5" fill="#e03222" stroke="#151515" stroke-width="0.8"/>
<rect x="162.13" y="459" width="10.61" height="6.5" fill="#e03222" stroke="#151515" stroke-width="0.8"/>
<rect x="172.74" y="459" width="10.61" height="6.5" fill="#e03222" stroke="#151515" stroke-width="0.8"/>
<rect x="183.35" y="459" width="10.61" height="6.5" fill="#e03222" stroke="#151515" stroke-width="0.8"/>
<rect x="24.2" y="466.8" width="10.66" height="5.29" fill="#f0a044"/>
<rect x="34.81" y="466.8" width="10.66" height="5.29" fill="#d4341e"/>
<rect x="45.42" y="466.8" width="10.66" height="5.29" fill="#dc5426"/>
<rect x="56.03" y="466.8" width="10.66" height="5.29" fill="#d84422"/>
<rect x="66.64" y="466.8" width="10.66" height="5.29" fill="#d84422"/>
<rect x="77.25" y="466.8" width="10.66" height="5.29" fill="#e67a34"/>
<rect x="87.86" y="466.8" width="10.66" height="5.29" fill="#feeeb2"/>
<rect x="98.47" y="466.8" width="10.66" height="5.29" fill="#fce59c"/>
<rect x="109.08" y="466.8" width="10.66" height="5.29" fill="#dc5426"/>
<rect x="119.69" y="466.8" width="10.66" height="5.29" fill="#feeeb2"/>
<rect x="130.3" y="466.8" width="10.66" height="5.29" fill="#dc5426"/>
<rect x="140.91" y="466.8" width="10.66" height="5.29" fill="#dc5426"/>
<rect x="151.52" y="466.8" width="10.66" height="5.29" fill="#dc5426"/>
<rect x="162.13" y="466.8" width="10.66" height="5.29" fill="#fce59c"/>
<rect x="172.74" y="466.8" width="10.66" height="5.29" fill="#f0a044"/>
<rect x="183.35" y="466.8" width="10.66" height="5.29" fill="#fce59c"/>
<rect x="24.2" y="472.04" width="10.66" height="5.29" fill="#fce59c"/>
<rect x="34.81" y="472.04" width="10.66" height="5.29" fill="#dc5426"/>
<rect x="45.42" y="472.04" width="10.66" height="5.29" fill="#f0a044"/>
<rect x="56.03" y="472.04" width="10.66" height="5.29" fill="#f0a044"/>
<rect x="66.64" y="472.04" width="10.66" height="5.29" fill="#e67a34"/>
<rect x="77.25" y="472.04" width="10.66" height="5.29" fill="#e67a34"/>
<rect x="87.86" y="472.04" width="10.66" height="5.29" fill="#f7c568"/>
<rect x="98.47" y="472.04" width="10.66" height="5.29" fill="#f7c568"/>
<rect x="109.08" y="472.04" width="10.66" height="5.29" fill="#f0a044"/>
<rect x="119.69" y="472.04" width="10.66" height="5.29" fill="#feeeb2"/>
<rect x="130.3" y="472.04" width="10.66" height="5.29" fill="#f7c568"/>
<rect x="140.91" y="472.04" width="10.66" height="5.29" fill="#dc5426"/>
<rect x="151.52" y="472.04" width="10.66" height="5.29" fill="#fad782"/>
<rect x="162.13" y="472.04" width="10.66" height="5.29" fill="#feeeb2"/>
<rect x="172.74" y="472.04" width="10.66" height="5.29" fill="#fce59c"/>
<rect x="183.35" y="472.04" width="10.66" height="5.29" fill="#fce59c"/>
<rect x="24.2" y="477.29" width="10.66" height="5.29" fill="#f0a044"/>
<rect x="34.81" y="477.29" width="10.66" height="5.29" fill="#fce59c"/>
<rect x="45.42" y="477.29" width="10.66" height="5.29" fill="#f0a044"/>
<rect x="56.03" y="477.29" width="10.66" height="5.29" fill="#f4b456"/>
<rect x="66.64" y="477.29" width="10.66" height="5.29" fill="#eb8e3c"/>
<rect x="77.25" y="477.29" width="10.66" height="5.29" fill="#f0a044"/>
<rect x="87.86" y="477.29" width="10.66" height="5.29" fill="#feeeb2"/>
<rect x="98.47" y="477.29" width="10.66" height="5.29" fill="#feeeb2"/>
<rect x="109.08" y="477.29" width="10.66" height="5.29" fill="#e67a34"/>
<rect x="119.69" y="477.29" width="10.66" height="5.29" fill="#feeeb2"/>
<rect x="130.3" y="477.29" width="10.66" height="5.29" fill="#f4b456"/>
<rect x="140.91" y="477.29" width="10.66" height="5.29" fill="#f0a044"/>
<rect x="151.52" y="477.29" width="10.66" height="5.29" fill="#fce59c"/>
<rect x="162.13" y="477.29" width="10.66" height="5.29" fill="#fce59c"/>
<rect x="172.74" y="477.29" width="10.66" height="5.29" fill="#f7c568"/>
<rect x="183.35" y="477.29" width="10.66" height="5.29" fill="#f7c568"/>
<rect x="24.2" y="482.53" width="10.66" height="5.29" fill="#f0a044"/>
<rect x="34.81" y="482.53" width="10.66" height="5.29" fill="#f7c568"/>
<rect x="45.42" y="482.53" width="10.66" height="5.29" fill="#f7c568"/>
<rect x="56.03" y="482.53" width="10.66" height="5.29" fill="#f7c568"/>
<rect x="66.64" y="482.53" width="10.66" height="5.29" fill="#f0a044"/>
<rect x="77.25" y="482.53" width="10.66" height="5.29" fill="#f0a044"/>
<rect x="87.86" y="482.53" width="10.66" height="5.29" fill="#fff5c8"/>
<rect x="98.47" y="482.53" width="10.66" height="5.29" fill="#feeeb2"/>
<rect x="109.08" y="482.53" width="10.66" height="5.29" fill="#f7c568"/>
<rect x="119.69" y="482.53" width="10.66" height="5.29" fill="#fff5c8"/>
<rect x="130.3" y="482.53" width="10.66" height="5.29" fill="#fce59c"/>
<rect x="140.91" y="482.53" width="10.66" height="5.29" fill="#f7c568"/>
<rect x="151.52" y="482.53" width="10.66" height="5.29" fill="#fce59c"/>
<rect x="162.13" y="482.53" width="10.66" height="5.29" fill="#feeeb2"/>
<rect x="172.74" y="482.53" width="10.66" height="5.29" fill="#fce59c"/>
<rect x="183.35" y="482.53" width="10.66" height="5.29" fill="#fce59c"/>
<rect x="24.2" y="487.77" width="10.66" height="5.29" fill="#d4341e"/>
<rect x="34.81" y="487.77" width="10.66" height="5.29" fill="#f7c568"/>
<rect x="45.42" y="487.77" width="10.66" height="5.29" fill="#f7c568"/>
<rect x="56.03" y="487.77" width="10.66" height="5.29" fill="#f0a044"/>
<rect x="66.64" y="487.77" width="10.66" height="5.29" fill="#f7c568"/>
<rect x="77.25" y="487.77" width="10.66" height="5.29" fill="#f7c568"/>
<rect x="87.86" y="487.77" width="10.66" height="5.29" fill="#d84422"/>
<rect x="98.47" y="487.77" width="10.66" height="5.29" fill="#f0a044"/>
<rect x="109.08" y="487.77" width="10.66" height="5.29" fill="#f7c568"/>
<rect x="119.69" y="487.77" width="10.66" height="5.29" fill="#f7c568"/>
<rect x="130.3" y="487.77" width="10.66" height="5.29" fill="#fce59c"/>
<rect x="140.91" y="487.77" width="10.66" height="5.29" fill="#d4341e"/>
<rect x="151.52" y="487.77" width="10.66" height="5.29" fill="#fad782"/>
<rect x="162.13" y="487.77" width="10.66" height="5.29" fill="#fce59c"/>
<rect x="172.74" y="487.77" width="10.66" height="5.29" fill="#fce59c"/>
<rect x="183.35" y="487.77" width="10.66" height="5.29" fill="#fce59c"/>
<rect x="24.2" y="493.01" width="10.66" height="5.29" fill="#e67a34"/>
<rect x="34.81" y="493.01" width="10.66" height="5.29" fill="#fce59c"/>
<rect x="45.42" y="493.01" width="10.66" height="5.29" fill="#fce59c"/>
<rect x="56.03" y="493.01" width="10.66" height="5.29" fill="#fce59c"/>
<rect x="66.64" y="493.01" width="10.66" height="5.29" fill="#f7c568"/>
<rect x="77.25" y="493.01" width="10.66" height="5.29" fill="#fad782"/>
<rect x="87.86" y="493.01" width="10.66" height="5.29" fill="#dc5426"/>
<rect x="98.47" y="493.01" width="10.66" height="5.29" fill="#d4341e"/>
<rect x="109.08" y="493.01" width="10.66" height="5.29" fill="#f7c568"/>
<rect x="119.69" y="493.01" width="10.66" height="5.29" fill="#fce59c"/>
<rect x="130.3" y="493.01" width="10.66" height="5.29" fill="#fce59c"/>
<rect x="140.91" y="493.01" width="10.66" height="5.29" fill="#dc5426"/>
<rect x="151.52" y="493.01" width="10.66" height="5.29" fill="#fce59c"/>
<rect x="162.13" y="493.01" width="10.66" height="5.29" fill="#fce59c"/>
<rect x="172.74" y="493.01" width="10.66" height="5.29" fill="#fce59c"/>
<rect x="183.35" y="493.01" width="10.66" height="5.29" fill="#fce59c"/>
<rect x="24.2" y="498.26" width="10.66" height="5.29" fill="#fce59c"/>
<rect x="34.81" y="498.26" width="10.66" height="5.29" fill="#fce59c"/>
<rect x="45.42" y="498.26" width="10.66" height="5.29" fill="#fce59c"/>
<rect x="56.03" y="498.26" width="10.66" height="5.29" fill="#fce59c"/>
<rect x="66.64" y="498.26" width="10.66" height="5.29" fill="#fad782"/>
<rect x="77.25" y="498.26" width="10.66" height="5.29" fill="#fce59c"/>
<rect x="87.86" y="498.26" width="10.66" height="5.29" fill="#d4341e"/>
<rect x="98.47" y="498.26" width="10.66" height="5.29" fill="#fce59c"/>
<rect x="109.08" y="498.26" width="10.66" height="5.29" fill="#fce59c"/>
<rect x="119.69" y="498.26" width="10.66" height="5.29" fill="#fce59c"/>
<rect x="130.3" y="498.26" width="10.66" height="5.29" fill="#d4341e"/>
<rect x="140.91" y="498.26" width="10.66" height="5.29" fill="#e67a34"/>
<rect x="151.52" y="498.26" width="10.66" height="5.29" fill="#fce59c"/>
<rect x="162.13" y="498.26" width="10.66" height="5.29" fill="#fce59c"/>
<rect x="172.74" y="498.26" width="10.66" height="5.29" fill="#fce59c"/>
<rect x="183.35" y="498.26" width="10.66" height="5.29" fill="#fce59c"/>
<rect x="24.2" y="503.5" width="10.66" height="5.29" fill="#fce59c"/>
<rect x="34.81" y="503.5" width="10.66" height="5.29" fill="#fce59c"/>
<rect x="45.42" y="503.5" width="10.66" height="5.29" fill="#f0a044"/>
<rect x="56.03" y="503.5" width="10.66" height="5.29" fill="#fce59c"/>
<rect x="66.64" y="503.5" width="10.66" height="5.29" fill="#f4b456"/>
<rect x="77.25" y="503.5" width="10.66" height="5.29" fill="#fce59c"/>
<rect x="87.86" y="503.5" width="10.66" height="5.29" fill="#d4341e"/>
<rect x="98.47" y="503.5" width="10.66" height="5.29" fill="#f0a044"/>
<rect x="109.08" y="503.5" width="10.66" height="5.29" fill="#fce59c"/>
<rect x="119.69" y="503.5" width="10.66" height="5.29" fill="#feeeb2"/>
<rect x="130.3" y="503.5" width="10.66" height="5.29" fill="#fce59c"/>
<rect x="140.91" y="503.5" width="10.66" height="5.29" fill="#fce59c"/>
<rect x="151.52" y="503.5" width="10.66" height="5.29" fill="#fce59c"/>
<rect x="162.13" y="503.5" width="10.66" height="5.29" fill="#feeeb2"/>
<rect x="172.74" y="503.5" width="10.66" height="5.29" fill="#fce59c"/>
<rect x="183.35" y="503.5" width="10.66" height="5.29" fill="#fce59c"/>
<rect x="24.2" y="508.74" width="10.66" height="5.29" fill="#f0a044"/>
<rect x="34.81" y="508.74" width="10.66" height="5.29" fill="#fce59c"/>
<rect x="45.42" y="508.74" width="10.66" height="5.29" fill="#f7c568"/>
<rect x="56.03" y="508.74" width="10.66" height="5.29" fill="#f7c568"/>
<rect x="66.64" y="508.74" width="10.66" height="5.29" fill="#f0a044"/>
<rect x="77.25" y="508.74" width="10.66" height="5.29" fill="#f0a044"/>
<rect x="87.86" y="508.74" width="10.66" height="5.29" fill="#f7c568"/>
<rect x="98.47" y="508.74" width="10.66" height="5.29" fill="#f4b456"/>
<rect x="109.08" y="508.74" width="10.66" height="5.29" fill="#d4341e"/>
<rect x="119.69" y="508.74" width="10.66" height="5.29" fill="#dc5426"/>
<rect x="130.3" y="508.74" width="10.66" height="5.29" fill="#eb8e3c"/>
<rect x="140.91" y="508.74" width="10.66" height="5.29" fill="#eb8e3c"/>
<rect x="151.52" y="508.74" width="10.66" height="5.29" fill="#f0a044"/>
<rect x="162.13" y="508.74" width="10.66" height="5.29" fill="#fce59c"/>
<rect x="172.74" y="508.74" width="10.66" height="5.29" fill="#e67a34"/>
<rect x="183.35" y="508.74" width="10.66" height="5.29" fill="#f7c568"/>
<rect x="24.2" y="513.99" width="10.66" height="5.29" fill="#f7c568"/>
<rect x="34.81" y="513.99" width="10.66" height="5.29" fill="#fce59c"/>
<rect x="45.42" y="513.99" width="10.66" height="5.29" fill="#fce59c"/>
<rect x="56.03" y="513.99" width="10.66" height="5.29" fill="#fce59c"/>
<rect x="66.64" y="513.99" width="10.66" height="5.29" fill="#feeeb2"/>
<rect x="77.25" y="513.99" width="10.66" height="5.29" fill="#fff5c8"/>
<rect x="87.86" y="513.99" width="10.66" height="5.29" fill="#f0a044"/>
<rect x="98.47" y="513.99" width="10.66" height="5.29" fill="#f7c568"/>
<rect x="109.08" y="513.99" width="10.66" height="5.29" fill="#f4b456"/>
<rect x="119.69" y="513.99" width="10.66" height="5.29" fill="#d4341e"/>
<rect x="130.3" y="513.99" width="10.66" height="5.29" fill="#fce59c"/>
<rect x="140.91" y="513.99" width="10.66" height="5.29" fill="#f7c568"/>
<rect x="151.52" y="513.99" width="10.66" height="5.29" fill="#feeeb2"/>
<rect x="162.13" y="513.99" width="10.66" height="5.29" fill="#e67a34"/>
<rect x="172.74" y="513.99" width="10.66" height="5.29" fill="#f4b456"/>
<rect x="183.35" y="513.99" width="10.66" height="5.29" fill="#fce59c"/>
<rect x="24.2" y="519.23" width="10.66" height="5.29" fill="#f0a044"/>
<rect x="34.81" y="519.23" width="10.66" height="5.29" fill="#f7c568"/>
<rect x="45.42" y="519.23" width="10.66" height="5.29" fill="#f7c568"/>
<rect x="56.03" y="519.23" width="10.66" height="5.29" fill="#f7c568"/>
<rect x="66.64" y="519.23" width="10.66" height="5.29" fill="#f7c568"/>
<rect x="77.25" y="519.23" width="10.66" height="5.29" fill="#f7c568"/>
<rect x="87.86" y="519.23" width="10.66" height="5.29" fill="#e1682d"/>
<rect x="98.47" y="519.23" width="10.66" height="5.29" fill="#e67a34"/>
<rect x="109.08" y="519.23" width="10.66" height="5.29" fill="#f0a044"/>
<rect x="119.69" y="519.23" width="10.66" height="5.29" fill="#f4b456"/>
<rect x="130.3" y="519.23" width="10.66" height="5.29" fill="#f7c568"/>
<rect x="140.91" y="519.23" width="10.66" height="5.29" fill="#f0a044"/>
<rect x="151.52" y="519.23" width="10.66" height="5.29" fill="#f7c568"/>
<rect x="162.13" y="519.23" width="10.66" height="5.29" fill="#f7c568"/>
<rect x="172.74" y="519.23" width="10.66" height="5.29" fill="#fce59c"/>
<rect x="183.35" y="519.23" width="10.66" height="5.29" fill="#fce59c"/>
<rect x="24.2" y="524.47" width="10.66" height="5.29" fill="#f4b456"/>
<rect x="34.81" y="524.47" width="10.66" height="5.29" fill="#fad782"/>
<rect x="45.42" y="524.47" width="10.66" height="5.29" fill="#fce59c"/>
<rect x="56.03" y="524.47" width="10.66" height="5.29" fill="#fce59c"/>
<rect x="66.64" y="524.47" width="10.66" height="5.29" fill="#f7c568"/>
<rect x="77.25" y="524.47" width="10.66" height="5.29" fill="#f7c568"/>
<rect x="87.86" y="524.47" width="10.66" height="5.29" fill="#f4b456"/>
<rect x="98.47" y="524.47" width="10.66" height="5.29" fill="#f0a044"/>
<rect x="109.08" y="524.47" width="10.66" height="5.29" fill="#f7c568"/>
<rect x="119.69" y="524.47" width="10.66" height="5.29" fill="#f7c568"/>
<rect x="130.3" y="524.47" width="10.66" height="5.29" fill="#fce59c"/>
<rect x="140.91" y="524.47" width="10.66" height="5.29" fill="#f0a044"/>
<rect x="151.52" y="524.47" width="10.66" height="5.29" fill="#fce59c"/>
<rect x="162.13" y="524.47" width="10.66" height="5.29" fill="#f7c568"/>
<rect x="172.74" y="524.47" width="10.66" height="5.29" fill="#fce59c"/>
<rect x="183.35" y="524.47" width="10.66" height="5.29" fill="#f7c568"/>
<rect x="24.2" y="529.72" width="10.66" height="5.29" fill="#fad782"/>
<rect x="34.81" y="529.72" width="10.66" height="5.29" fill="#fce59c"/>
<rect x="45.42" y="529.72" width="10.66" height="5.29" fill="#fad782"/>
<rect x="56.03" y="529.72" width="10.66" height="5.29" fill="#fad782"/>
<rect x="66.64" y="529.72" width="10.66" height="5.29" fill="#fce59c"/>
<rect x="77.25" y="529.72" width="10.66" height="5.29" fill="#fce59c"/>
<rect x="87.86" y="529.72" width="10.66" height="5.29" fill="#fad782"/>
<rect x="98.47" y="529.72" width="10.66" height="5.29" fill="#fad782"/>
<rect x="109.08" y="529.72" width="10.66" height="5.29" fill="#e67a34"/>
<rect x="119.69" y="529.72" width="10.66" height="5.29" fill="#dc5426"/>
<rect x="130.3" y="529.72" width="10.66" height="5.29" fill="#fad782"/>
<rect x="140.91" y="529.72" width="10.66" height="5.29" fill="#fad782"/>
<rect x="151.52" y="529.72" width="10.66" height="5.29" fill="#fce59c"/>
<rect x="162.13" y="529.72" width="10.66" height="5.29" fill="#fad782"/>
<rect x="172.74" y="529.72" width="10.66" height="5.29" fill="#fad782"/>
<rect x="183.35" y="529.72" width="10.66" height="5.29" fill="#fad782"/>
<rect x="24.2" y="534.96" width="10.66" height="5.29" fill="#fad782"/>
<rect x="34.81" y="534.96" width="10.66" height="5.29" fill="#fff5c8"/>
<rect x="45.42" y="534.96" width="10.66" height="5.29" fill="#fad782"/>
<rect x="56.03" y="534.96" width="10.66" height="5.29" fill="#fce59c"/>
<rect x="66.64" y="534.96" width="10.66" height="5.29" fill="#f4b456"/>
<rect x="77.25" y="534.96" width="10.66" height="5.29" fill="#fce59c"/>
<rect x="87.86" y="534.96" width="10.66" height="5.29" fill="#fad782"/>
<rect x="98.47" y="534.96" width="10.66" height="5.29" fill="#fad782"/>
<rect x="109.08" y="534.96" width="10.66" height="5.29" fill="#d4341e"/>
<rect x="119.69" y="534.96" width="10.66" height="5.29" fill="#e67a34"/>
<rect x="130.3" y="534.96" width="10.66" height="5.29" fill="#fce59c"/>
<rect x="140.91" y="534.96" width="10.66" height="5.29" fill="#fad782"/>
<rect x="151.52" y="534.96" width="10.66" height="5.29" fill="#fce59c"/>
<rect x="162.13" y="534.96" width="10.66" height="5.29" fill="#fff5c8"/>
<rect x="172.74" y="534.96" width="10.66" height="5.29" fill="#feeeb2"/>
<rect x="183.35" y="534.96" width="10.66" height="5.29" fill="#feeeb2"/>
<rect x="24.2" y="540.2" width="10.66" height="5.29" fill="#f7c568"/>
<rect x="34.81" y="540.2" width="10.66" height="5.29" fill="#fce59c"/>
<rect x="45.42" y="540.2" width="10.66" height="5.29" fill="#fad782"/>
<rect x="56.03" y="540.2" width="10.66" height="5.29" fill="#fce59c"/>
<rect x="66.64" y="540.2" width="10.66" height="5.29" fill="#fad782"/>
<rect x="77.25" y="540.2" width="10.66" height="5.29" fill="#fce59c"/>
<rect x="87.86" y="540.2" width="10.66" height="5.29" fill="#dc5426"/>
<rect x="98.47" y="540.2" width="10.66" height="5.29" fill="#f0a044"/>
<rect x="109.08" y="540.2" width="10.66" height="5.29" fill="#fad782"/>
<rect x="119.69" y="540.2" width="10.66" height="5.29" fill="#f7c568"/>
<rect x="130.3" y="540.2" width="10.66" height="5.29" fill="#fce59c"/>
<rect x="140.91" y="540.2" width="10.66" height="5.29" fill="#fce59c"/>
<rect x="151.52" y="540.2" width="10.66" height="5.29" fill="#fce59c"/>
<rect x="162.13" y="540.2" width="10.66" height="5.29" fill="#f4b456"/>
<rect x="172.74" y="540.2" width="10.66" height="5.29" fill="#f7c568"/>
<rect x="183.35" y="540.2" width="10.66" height="5.29" fill="#fce59c"/>
<rect x="24.2" y="545.45" width="10.66" height="5.29" fill="#fad782"/>
<rect x="34.81" y="545.45" width="10.66" height="5.29" fill="#fce59c"/>
<rect x="45.42" y="545.45" width="10.66" height="5.29" fill="#f7c568"/>
<rect x="56.03" y="545.45" width="10.66" height="5.29" fill="#fce59c"/>
<rect x="66.64" y="545.45" width="10.66" height="5.29" fill="#fce59c"/>
<rect x="77.25" y="545.45" width="10.66" height="5.29" fill="#fce59c"/>
<rect x="87.86" y="545.45" width="10.66" height="5.29" fill="#f0a044"/>
<rect x="98.47" y="545.45" width="10.66" height="5.29" fill="#f7c568"/>
<rect x="109.08" y="545.45" width="10.66" height="5.29" fill="#fad782"/>
<rect x="119.69" y="545.45" width="10.66" height="5.29" fill="#fad782"/>
<rect x="130.3" y="545.45" width="10.66" height="5.29" fill="#fce59c"/>
<rect x="140.91" y="545.45" width="10.66" height="5.29" fill="#fce59c"/>
<rect x="151.52" y="545.45" width="10.66" height="5.29" fill="#fce59c"/>
<rect x="162.13" y="545.45" width="10.66" height="5.29" fill="#fad782"/>
<rect x="172.74" y="545.45" width="10.66" height="5.29" fill="#fce59c"/>
<rect x="183.35" y="545.45" width="10.66" height="5.29" fill="#fce59c"/>
<rect x="24.2" y="550.69" width="10.66" height="5.29" fill="#fce59c"/>
<rect x="34.81" y="550.69" width="10.66" height="5.29" fill="#fce59c"/>
<rect x="45.42" y="550.69" width="10.66" height="5.29" fill="#fad782"/>
<rect x="56.03" y="550.69" width="10.66" height="5.29" fill="#fce59c"/>
<rect x="66.64" y="550.69" width="10.66" height="5.29" fill="#fce59c"/>
<rect x="77.25" y="550.69" width="10.66" height="5.29" fill="#fce59c"/>
<rect x="87.86" y="550.69" width="10.66" height="5.29" fill="#f0a044"/>
<rect x="98.47" y="550.69" width="10.66" height="5.29" fill="#f7c568"/>
<rect x="109.08" y="550.69" width="10.66" height="5.29" fill="#fad782"/>
<rect x="119.69" y="550.69" width="10.66" height="5.29" fill="#f7c568"/>
<rect x="130.3" y="550.69" width="10.66" height="5.29" fill="#fce59c"/>
<rect x="140.91" y="550.69" width="10.66" height="5.29" fill="#fce59c"/>
<rect x="151.52" y="550.69" width="10.66" height="5.29" fill="#fce59c"/>
<rect x="162.13" y="550.69" width="10.66" height="5.29" fill="#fad782"/>
<rect x="172.74" y="550.69" width="10.66" height="5.29" fill="#fce59c"/>
<rect x="183.35" y="550.69" width="10.66" height="5.29" fill="#fce59c"/>
<rect x="24.2" y="555.93" width="10.66" height="5.29" fill="#fad782"/>
<rect x="34.81" y="555.93" width="10.66" height="5.29" fill="#fce59c"/>
<rect x="45.42" y="555.93" width="10.66" height="5.29" fill="#fce59c"/>
<rect x="56.03" y="555.93" width="10.66" height="5.29" fill="#fce59c"/>
<rect x="66.64" y="555.93" width="10.66" height="5.29" fill="#fce59c"/>
<rect x="77.25" y="555.93" width="10.66" height="5.29" fill="#fce59c"/>
<rect x="87.86" y="555.93" width="10.66" height="5.29" fill="#f7c568"/>
<rect x="98.47" y="555.93" width="10.66" height="5.29" fill="#f7c568"/>
<rect x="109.08" y="555.93" width="10.66" height="5.29" fill="#fce59c"/>
<rect x="119.69" y="555.93" width="10.66" height="5.29" fill="#fad782"/>
<rect x="130.3" y="555.93" width="10.66" height="5.29" fill="#fce59c"/>
<rect x="140.91" y="555.93" width="10.66" height="5.29" fill="#fce59c"/>
<rect x="151.52" y="555.93" width="10.66" height="5.29" fill="#fce59c"/>
<rect x="162.13" y="555.93" width="10.66" height="5.29" fill="#fce59c"/>
<rect x="172.74" y="555.93" width="10.66" height="5.29" fill="#fce59c"/>
<rect x="183.35" y="555.93" width="10.66" height="5.29" fill="#fce59c"/>
<rect x="24.2" y="561.17" width="10.66" height="5.29" fill="#f7c568"/>
<rect x="34.81" y="561.17" width="10.66" height="5.29" fill="#fce59c"/>
<rect x="45.42" y="561.17" width="10.66" height="5.29" fill="#fce59c"/>
<rect x="56.03" y="561.17" width="10.66" height="5.29" fill="#fce59c"/>
<rect x="66.64" y="561.17" width="10.66" height="5.29" fill="#fce59c"/>
<rect x="77.25" y="561.17" width="10.66" height="5.29" fill="#fce59c"/>
<rect x="87.86" y="561.17" width="10.66" height="5.29" fill="#f7c568"/>
<rect x="98.47" y="561.17" width="10.66" height="5.29" fill="#f4b456"/>
<rect x="109.08" y="561.17" width="10.66" height="5.29" fill="#eb8e3c"/>
<rect x="119.69" y="561.17" width="10.66" height="5.29" fill="#fce59c"/>
<rect x="130.3" y="561.17" width="10.66" height="5.29" fill="#fce59c"/>
<rect x="140.91" y="561.17" width="10.66" height="5.29" fill="#fce59c"/>
<rect x="151.52" y="561.17" width="10.66" height="5.29" fill="#fce59c"/>
<rect x="162.13" y="561.17" width="10.66" height="5.29" fill="#fad782"/>
<rect x="172.74" y="561.17" width="10.66" height="5.29" fill="#fce59c"/>
<rect x="183.35" y="561.17" width="10.66" height="5.29" fill="#fce59c"/>
<rect x="24.2" y="566.42" width="10.66" height="5.29" fill="#fce59c"/>
<rect x="34.81" y="566.42" width="10.66" height="5.29" fill="#fce59c"/>
<rect x="45.42" y="566.42" width="10.66" height="5.29" fill="#fce59c"/>
<rect x="56.03" y="566.42" width="10.66" height="5.29" fill="#fce59c"/>
<rect x="66.64" y="566.42" width="10.66" height="5.29" fill="#fce59c"/>
<rect x="77.25" y="566.42" width="10.66" height="5.29" fill="#fce59c"/>
<rect x="87.86" y="566.42" width="10.66" height="5.29" fill="#fce59c"/>
<rect x="98.47" y="566.42" width="10.66" height="5.29" fill="#fad782"/>
<rect x="109.08" y="566.42" width="10.66" height="5.29" fill="#fad782"/>
<rect x="119.69" y="566.42" width="10.66" height="5.29" fill="#f7c568"/>
<rect x="130.3" y="566.42" width="10.66" height="5.29" fill="#fce59c"/>
<rect x="140.91" y="566.42" width="10.66" height="5.29" fill="#fce59c"/>
<rect x="151.52" y="566.42" width="10.66" height="5.29" fill="#fce59c"/>
<rect x="162.13" y="566.42" width="10.66" height="5.29" fill="#f4b456"/>
<rect x="172.74" y="566.42" width="10.66" height="5.29" fill="#fad782"/>
<rect x="183.35" y="566.42" width="10.66" height="5.29" fill="#fad782"/>
<rect x="24.2" y="571.66" width="10.66" height="5.29" fill="#fce59c"/>
<rect x="34.81" y="571.66" width="10.66" height="5.29" fill="#fad782"/>
<rect x="45.42" y="571.66" width="10.66" height="5.29" fill="#f0a044"/>
<rect x="56.03" y="571.66" width="10.66" height="5.29" fill="#f4b456"/>
<rect x="66.64" y="571.66" width="10.66" height="5.29" fill="#fce59c"/>
<rect x="77.25" y="571.66" width="10.66" height="5.29" fill="#fce59c"/>
<rect x="87.86" y="571.66" width="10.66" height="5.29" fill="#fad782"/>
<rect x="98.47" y="571.66" width="10.66" height="5.29" fill="#fce59c"/>
<rect x="109.08" y="571.66" width="10.66" height="5.29" fill="#fce59c"/>
<rect x="119.69" y="571.66" width="10.66" height="5.29" fill="#fad782"/>
<rect x="130.3" y="571.66" width="10.66" height="5.29" fill="#fce59c"/>
<rect x="140.91" y="571.66" width="10.66" height="5.29" fill="#f7c568"/>
<rect x="151.52" y="571.66" width="10.66" height="5.29" fill="#fce59c"/>
<rect x="162.13" y="571.66" width="10.66" height="5.29" fill="#f4b456"/>
<rect x="172.74" y="571.66" width="10.66" height="5.29" fill="#fce59c"/>
<rect x="183.35" y="571.66" width="10.66" height="5.29" fill="#fce59c"/>
<rect x="24.2" y="576.9" width="10.66" height="5.29" fill="#f0a044"/>
<rect x="34.81" y="576.9" width="10.66" height="5.29" fill="#fce59c"/>
<rect x="45.42" y="576.9" width="10.66" height="5.29" fill="#fad782"/>
<rect x="56.03" y="576.9" width="10.66" height="5.29" fill="#fce59c"/>
<rect x="66.64" y="576.9" width="10.66" height="5.29" fill="#fce59c"/>
<rect x="77.25" y="576.9" width="10.66" height="5.29" fill="#fce59c"/>
<rect x="87.86" y="576.9" width="10.66" height="5.29" fill="#f4b456"/>
<rect x="98.47" y="576.9" width="10.66" height="5.29" fill="#fad782"/>
<rect x="109.08" y="576.9" width="10.66" height="5.29" fill="#fad782"/>
<rect x="119.69" y="576.9" width="10.66" height="5.29" fill="#fad782"/>
<rect x="130.3" y="576.9" width="10.66" height="5.29" fill="#fce59c"/>
<rect x="140.91" y="576.9" width="10.66" height="5.29" fill="#fad782"/>
<rect x="151.52" y="576.9" width="10.66" height="5.29" fill="#fce59c"/>
<rect x="162.13" y="576.9" width="10.66" height="5.29" fill="#f7c568"/>
<rect x="172.74" y="576.9" width="10.66" height="5.29" fill="#fce59c"/>
<rect x="183.35" y="576.9" width="10.66" height="5.29" fill="#fce59c"/>
<rect x="24.2" y="582.15" width="10.66" height="5.29" fill="#fad782"/>
<rect x="34.81" y="582.15" width="10.66" height="5.29" fill="#fce59c"/>
<rect x="45.42" y="582.15" width="10.66" height="5.29" fill="#f0a044"/>
<rect x="56.03" y="582.15" width="10.66" height="5.29" fill="#fce59c"/>
<rect x="66.64" y="582.15" width="10.66" height="5.29" fill="#fce59c"/>
<rect x="77.25" y="582.15" width="10.66" height="5.29" fill="#fce59c"/>
<rect x="87.86" y="582.15" width="10.66" height="5.29" fill="#f7c568"/>
<rect x="98.47" y="582.15" width="10.66" height="5.29" fill="#fad782"/>
<rect x="109.08" y="582.15" width="10.66" height="5.29" fill="#fad782"/>
<rect x="119.69" y="582.15" width="10.66" height="5.29" fill="#fad782"/>
<rect x="130.3" y="582.15" width="10.66" height="5.29" fill="#fce59c"/>
<rect x="140.91" y="582.15" width="10.66" height="5.29" fill="#fce59c"/>
<rect x="151.52" y="582.15" width="10.66" height="5.29" fill="#fce59c"/>
<rect x="162.13" y="582.15" width="10.66" height="5.29" fill="#f7c568"/>
<rect x="172.74" y="582.15" width="10.66" height="5.29" fill="#fce59c"/>
<rect x="183.35" y="582.15" width="10.66" height="5.29" fill="#fce59c"/>
<rect x="24.2" y="587.39" width="10.66" height="5.29" fill="#fce59c"/>
<rect x="34.81" y="587.39" width="10.66" height="5.29" fill="#fce59c"/>
<rect x="45.42" y="587.39" width="10.66" height="5.29" fill="#fce59c"/>
<rect x="56.03" y="587.39" width="10.66" height="5.29" fill="#fce59c"/>
<rect x="66.64" y="587.39" width="10.66" height="5.29" fill="#fce59c"/>
<rect x="77.25" y="587.39" width="10.66" height="5.29" fill="#fce59c"/>
<rect x="87.86" y="587.39" width="10.66" height="5.29" fill="#f0a044"/>
<rect x="98.47" y="587.39" width="10.66" height="5.29" fill="#fce59c"/>
<rect x="109.08" y="587.39" width="10.66" height="5.29" fill="#fce59c"/>
<rect x="119.69" y="587.39" width="10.66" height="5.29" fill="#fce59c"/>
<rect x="130.3" y="587.39" width="10.66" height="5.29" fill="#f0a044"/>
<rect x="140.91" y="587.39" width="10.66" height="5.29" fill="#f0a044"/>
<rect x="151.52" y="587.39" width="10.66" height="5.29" fill="#fad782"/>
<rect x="162.13" y="587.39" width="10.66" height="5.29" fill="#fce59c"/>
<rect x="172.74" y="587.39" width="10.66" height="5.29" fill="#fce59c"/>
<rect x="183.35" y="587.39" width="10.66" height="5.29" fill="#fce59c"/>
<rect x="24.2" y="592.63" width="10.66" height="5.29" fill="#fad782"/>
<rect x="34.81" y="592.63" width="10.66" height="5.29" fill="#feeeb2"/>
<rect x="45.42" y="592.63" width="10.66" height="5.29" fill="#fad782"/>
<rect x="56.03" y="592.63" width="10.66" height="5.29" fill="#fce59c"/>
<rect x="66.64" y="592.63" width="10.66" height="5.29" fill="#fce59c"/>
<rect x="77.25" y="592.63" width="10.66" height="5.29" fill="#fce59c"/>
<rect x="87.86" y="592.63" width="10.66" height="5.29" fill="#f4b456"/>
<rect x="98.47" y="592.63" width="10.66" height="5.29" fill="#fad782"/>
<rect x="109.08" y="592.63" width="10.66" height="5.29" fill="#fad782"/>
<rect x="119.69" y="592.63" width="10.66" height="5.29" fill="#fad782"/>
<rect x="130.3" y="592.63" width="10.66" height="5.29" fill="#eb8e3c"/>
<rect x="140.91" y="592.63" width="10.66" height="5.29" fill="#fad782"/>
<rect x="151.52" y="592.63" width="10.66" height="5.29" fill="#feeeb2"/>
<rect x="162.13" y="592.63" width="10.66" height="5.29" fill="#f0a044"/>
<rect x="172.74" y="592.63" width="10.66" height="5.29" fill="#fce59c"/>
<rect x="183.35" y="592.63" width="10.66" height="5.29" fill="#fce59c"/>
<rect x="24.2" y="597.88" width="10.66" height="5.29" fill="#fce59c"/>
<rect x="34.81" y="597.88" width="10.66" height="5.29" fill="#fce59c"/>
<rect x="45.42" y="597.88" width="10.66" height="5.29" fill="#fce59c"/>
<rect x="56.03" y="597.88" width="10.66" height="5.29" fill="#fce59c"/>
<rect x="66.64" y="597.88" width="10.66" height="5.29" fill="#fce59c"/>
<rect x="77.25" y="597.88" width="10.66" height="5.29" fill="#fce59c"/>
<rect x="87.86" y="597.88" width="10.66" height="5.29" fill="#fad782"/>
<rect x="98.47" y="597.88" width="10.66" height="5.29" fill="#fce59c"/>
<rect x="109.08" y="597.88" width="10.66" height="5.29" fill="#fad782"/>
<rect x="119.69" y="597.88" width="10.66" height="5.29" fill="#fce59c"/>
<rect x="130.3" y="597.88" width="10.66" height="5.29" fill="#eb8e3c"/>
<rect x="140.91" y="597.88" width="10.66" height="5.29" fill="#fad782"/>
<rect x="151.52" y="597.88" width="10.66" height="5.29" fill="#fce59c"/>
<rect x="162.13" y="597.88" width="10.66" height="5.29" fill="#fce59c"/>
<rect x="172.74" y="597.88" width="10.66" height="5.29" fill="#fce59c"/>
<rect x="183.35" y="597.88" width="10.66" height="5.29" fill="#fce59c"/>
<rect x="24.2" y="603.12" width="10.66" height="5.29" fill="#f4b456"/>
<rect x="34.81" y="603.12" width="10.66" height="5.29" fill="#e67a34"/>
<rect x="45.42" y="603.12" width="10.66" height="5.29" fill="#fad782"/>
<rect x="56.03" y="603.12" width="10.66" height="5.29" fill="#feeeb2"/>
<rect x="66.64" y="603.12" width="10.66" height="5.29" fill="#fce59c"/>
<rect x="77.25" y="603.12" width="10.66" height="5.29" fill="#fce59c"/>
<rect x="87.86" y="603.12" width="10.66" height="5.29" fill="#f7c568"/>
<rect x="98.47" y="603.12" width="10.66" height="5.29" fill="#fce59c"/>
<rect x="109.08" y="603.12" width="10.66" height="5.29" fill="#fce59c"/>
<rect x="119.69" y="603.12" width="10.66" height="5.29" fill="#fce59c"/>
<rect x="130.3" y="603.12" width="10.66" height="5.29" fill="#feeeb2"/>
<rect x="140.91" y="603.12" width="10.66" height="5.29" fill="#fad782"/>
<rect x="151.52" y="603.12" width="10.66" height="5.29" fill="#fce59c"/>
<rect x="162.13" y="603.12" width="10.66" height="5.29" fill="#f7c568"/>
<rect x="172.74" y="603.12" width="10.66" height="5.29" fill="#fce59c"/>
<rect x="183.35" y="603.12" width="10.66" height="5.29" fill="#fce59c"/>
<rect x="24.2" y="608.36" width="10.66" height="5.29" fill="#fad782"/>
<rect x="34.81" y="608.36" width="10.66" height="5.29" fill="#fce59c"/>
<rect x="45.42" y="608.36" width="10.66" height="5.29" fill="#fce59c"/>
<rect x="56.03" y="608.36" width="10.66" height="5.29" fill="#fce59c"/>
<rect x="66.64" y="608.36" width="10.66" height="5.29" fill="#fce59c"/>
<rect x="77.25" y="608.36" width="10.66" height="5.29" fill="#fce59c"/>
<rect x="87.86" y="608.36" width="10.66" height="5.29" fill="#f7c568"/>
<rect x="98.47" y="608.36" width="10.66" height="5.29" fill="#fce59c"/>
<rect x="109.08" y="608.36" width="10.66" height="5.29" fill="#f7c568"/>
<rect x="119.69" y="608.36" width="10.66" height="5.29" fill="#fad782"/>
<rect x="130.3" y="608.36" width="10.66" height="5.29" fill="#fce59c"/>
<rect x="140.91" y="608.36" width="10.66" height="5.29" fill="#fce59c"/>
<rect x="151.52" y="608.36" width="10.66" height="5.29" fill="#fce59c"/>
<rect x="162.13" y="608.36" width="10.66" height="5.29" fill="#fce59c"/>
<rect x="172.74" y="608.36" width="10.66" height="5.29" fill="#fce59c"/>
<rect x="183.35" y="608.36" width="10.66" height="5.29" fill="#fce59c"/>
<rect x="24.2" y="613.6" width="10.66" height="5.29" fill="#feeeb2"/>
<rect x="34.81" y="613.6" width="10.66" height="5.29" fill="#fad782"/>
<rect x="45.42" y="613.6" width="10.66" height="5.29" fill="#fce59c"/>
<rect x="56.03" y="613.6" width="10.66" height="5.29" fill="#fce59c"/>
<rect x="66.64" y="613.6" width="10.66" height="5.29" fill="#fad782"/>
<rect x="77.25" y="613.6" width="10.66" height="5.29" fill="#fce59c"/>
<rect x="87.86" y="613.6" width="10.66" height="5.29" fill="#fad782"/>
<rect x="98.47" y="613.6" width="10.66" height="5.29" fill="#fce59c"/>
<rect x="109.08" y="613.6" width="10.66" height="5.29" fill="#fad782"/>
<rect x="119.69" y="613.6" width="10.66" height="5.29" fill="#f7c568"/>
<rect x="130.3" y="613.6" width="10.66" height="5.29" fill="#fce59c"/>
<rect x="140.91" y="613.6" width="10.66" height="5.29" fill="#fce59c"/>
<rect x="151.52" y="613.6" width="10.66" height="5.29" fill="#fce59c"/>
<rect x="162.13" y="613.6" width="10.66" height="5.29" fill="#fad782"/>
<rect x="172.74" y="613.6" width="10.66" height="5.29" fill="#feeeb2"/>
<rect x="183.35" y="613.6" width="10.66" height="5.29" fill="#feeeb2"/>
<rect x="24.2" y="618.85" width="10.66" height="5.29" fill="#fad782"/>
<rect x="34.81" y="618.85" width="10.66" height="5.29" fill="#fce59c"/>
<rect x="45.42" y="618.85" width="10.66" height="5.29" fill="#fce59c"/>
<rect x="56.03" y="618.85" width="10.66" height="5.29" fill="#fce59c"/>
<rect x="66.64" y="618.85" width="10.66" height="5.29" fill="#fce59c"/>
<rect x="77.25" y="618.85" width="10.66" height="5.29" fill="#fce59c"/>
<rect x="87.86" y="618.85" width="10.66" height="5.29" fill="#fad782"/>
<rect x="98.47" y="618.85" width="10.66" height="5.29" fill="#fce59c"/>
<rect x="109.08" y="618.85" width="10.66" height="5.29" fill="#fce59c"/>
<rect x="119.69" y="618.85" width="10.66" height="5.29" fill="#fce59c"/>
<rect x="130.3" y="618.85" width="10.66" height="5.29" fill="#fce59c"/>
<rect x="140.91" y="618.85" width="10.66" height="5.29" fill="#fce59c"/>
<rect x="151.52" y="618.85" width="10.66" height="5.29" fill="#fce59c"/>
<rect x="162.13" y="618.85" width="10.66" height="5.29" fill="#fad782"/>
<rect x="172.74" y="618.85" width="10.66" height="5.29" fill="#fce59c"/>
<rect x="183.35" y="618.85" width="10.66" height="5.29" fill="#fce59c"/>
<rect x="24.2" y="624.09" width="10.66" height="5.29" fill="#fce59c"/>
<rect x="34.81" y="624.09" width="10.66" height="5.29" fill="#fce59c"/>
<rect x="45.42" y="624.09" width="10.66" height="5.29" fill="#fce59c"/>
<rect x="56.03" y="624.09" width="10.66" height="5.29" fill="#fce59c"/>
<rect x="66.64" y="624.09" width="10.66" height="5.29" fill="#fce59c"/>
<rect x="77.25" y="624.09" width="10.66" height="5.29" fill="#fce59c"/>
<rect x="87.86" y="624.09" width="10.66" height="5.29" fill="#fce59c"/>
<rect x="98.47" y="624.09" width="10.66" height="5.29" fill="#fce59c"/>
<rect x="109.08" y="624.09" width="10.66" height="5.29" fill="#fce59c"/>
<rect x="119.69" y="624.09" width="10.66" height="5.29" fill="#fce59c"/>
<rect x="130.3" y="624.09" width="10.66" height="5.29" fill="#fce59c"/>
<rect x="140.91" y="624.09" width="10.66" height="5.29" fill="#fce59c"/>
<rect x="151.52" y="624.09" width="10.66" height="5.29" fill="#fce59c"/>
<rect x="162.13" y="624.09" width="10.66" height="5.29" fill="#fce59c"/>
<rect x="172.74" y="624.09" width="10.66" height="5.29" fill="#fce59c"/>
<rect x="183.35" y="624.09" width="10.66" height="5.29" fill="#fce59c"/>
<rect x="24.2" y="629.33" width="10.66" height="5.29" fill="#f0a044"/>
<rect x="34.81" y="629.33" width="10.66" height="5.29" fill="#f7c568"/>
<rect x="45.42" y="629.33" width="10.66" height="5.29" fill="#fce59c"/>
<rect x="56.03" y="629.33" width="10.66" height="5.29" fill="#f7c568"/>
<rect x="66.64" y="629.33" width="10.66" height="5.29" fill="#fce59c"/>
<rect x="77.25" y="629.33" width="10.66" height="5.29" fill="#fce59c"/>
<rect x="87.86" y="629.33" width="10.66" height="5.29" fill="#fce59c"/>
<rect x="98.47" y="629.33" width="10.66" height="5.29" fill="#fce59c"/>
<rect x="109.08" y="629.33" width="10.66" height="5.29" fill="#fce59c"/>
<rect x="119.69" y="629.33" width="10.66" height="5.29" fill="#fce59c"/>
<rect x="130.3" y="629.33" width="10.66" height="5.29" fill="#fce59c"/>
<rect x="140.91" y="629.33" width="10.66" height="5.29" fill="#fce59c"/>
<rect x="151.52" y="629.33" width="10.66" height="5.29" fill="#fce59c"/>
<rect x="162.13" y="629.33" width="10.66" height="5.29" fill="#fce59c"/>
<rect x="172.74" y="629.33" width="10.66" height="5.29" fill="#fce59c"/>
<rect x="183.35" y="629.33" width="10.66" height="5.29" fill="#fce59c"/>
<rect x="24.2" y="634.58" width="10.66" height="5.29" fill="#f7c568"/>
<rect x="34.81" y="634.58" width="10.66" height="5.29" fill="#fce59c"/>
<rect x="45.42" y="634.58" width="10.66" height="5.29" fill="#fce59c"/>
<rect x="56.03" y="634.58" width="10.66" height="5.29" fill="#fce59c"/>
<rect x="66.64" y="634.58" width="10.66" height="5.29" fill="#fce59c"/>
<rect x="77.25" y="634.58" width="10.66" height="5.29" fill="#fce59c"/>
<rect x="87.86" y="634.58" width="10.66" height="5.29" fill="#fce59c"/>
<rect x="98.47" y="634.58" width="10.66" height="5.29" fill="#fce59c"/>
<rect x="109.08" y="634.58" width="10.66" height="5.29" fill="#fce59c"/>
<rect x="119.69" y="634.58" width="10.66" height="5.29" fill="#fce59c"/>
<rect x="130.3" y="634.58" width="10.66" height="5.29" fill="#fce59c"/>
<rect x="140.91" y="634.58" width="10.66" height="5.29" fill="#feeeb2"/>
<rect x="151.52" y="634.58" width="10.66" height="5.29" fill="#fce59c"/>
<rect x="162.13" y="634.58" width="10.66" height="5.29" fill="#feeeb2"/>
<rect x="172.74" y="634.58" width="10.66" height="5.29" fill="#feeeb2"/>
<rect x="183.35" y="634.58" width="10.66" height="5.29" fill="#feeeb2"/>
<rect x="24.2" y="639.82" width="10.66" height="5.29" fill="#fce59c"/>
<rect x="34.81" y="639.82" width="10.66" height="5.29" fill="#fce59c"/>
<rect x="45.42" y="639.82" width="10.66" height="5.29" fill="#fce59c"/>
<rect x="56.03" y="639.82" width="10.66" height="5.29" fill="#fce59c"/>
<rect x="66.64" y="639.82" width="10.66" height="5.29" fill="#fce59c"/>
<rect x="77.25" y="639.82" width="10.66" height="5.29" fill="#fce59c"/>
<rect x="87.86" y="639.82" width="10.66" height="5.29" fill="#f7c568"/>
<rect x="98.47" y="639.82" width="10.66" height="5.29" fill="#fce59c"/>
<rect x="109.08" y="639.82" width="10.66" height="5.29" fill="#961a2e"/>
<rect x="119.69" y="639.82" width="10.66" height="5.29" fill="#fce59c"/>
<rect x="130.3" y="639.82" width="10.66" height="5.29" fill="#fce59c"/>
<rect x="140.91" y="639.82" width="10.66" height="5.29" fill="#fce59c"/>
<rect x="151.52" y="639.82" width="10.66" height="5.29" fill="#f7c568"/>
<rect x="162.13" y="639.82" width="10.66" height="5.29" fill="#fce59c"/>
<rect x="172.74" y="639.82" width="10.66" height="5.29" fill="#fce59c"/>
<rect x="183.35" y="639.82" width="10.66" height="5.29" fill="#fce59c"/>
<rect x="24.2" y="645.06" width="10.66" height="5.29" fill="#dc5426"/>
<rect x="34.81" y="645.06" width="10.66" height="5.29" fill="#d4341e"/>
<rect x="45.42" y="645.06" width="10.66" height="5.29" fill="#eb8e3c"/>
<rect x="56.03" y="645.06" width="10.66" height="5.29" fill="#e1682d"/>
<rect x="66.64" y="645.06" width="10.66" height="5.29" fill="#eb8e3c"/>
<rect x="77.25" y="645.06" width="10.66" height="5.29" fill="#fce59c"/>
<rect x="87.86" y="645.06" width="10.66" height="5.29" fill="#fce59c"/>
<rect x="98.47" y="645.06" width="10.66" height="5.29" fill="#fce59c"/>
<rect x="109.08" y="645.06" width="10.66" height="5.29" fill="#fce59c"/>
<rect x="119.69" y="645.06" width="10.66" height="5.29" fill="#fce59c"/>
<rect x="130.3" y="645.06" width="10.66" height="5.29" fill="#fce59c"/>
<rect x="140.91" y="645.06" width="10.66" height="5.29" fill="#fce59c"/>
<rect x="151.52" y="645.06" width="10.66" height="5.29" fill="#fce59c"/>
<rect x="162.13" y="645.06" width="10.66" height="5.29" fill="#fce59c"/>
<rect x="172.74" y="645.06" width="10.66" height="5.29" fill="#fce59c"/>
<rect x="183.35" y="645.06" width="10.66" height="5.29" fill="#fce59c"/>
<rect x="24.2" y="650.31" width="10.66" height="5.29" fill="#961a2e"/>
<rect x="34.81" y="650.31" width="10.66" height="5.29" fill="#dc5426"/>
<rect x="45.42" y="650.31" width="10.66" height="5.29" fill="#fce59c"/>
<rect x="56.03" y="650.31" width="10.66" height="5.29" fill="#fce59c"/>
<rect x="66.64" y="650.31" width="10.66" height="5.29" fill="#fce59c"/>
<rect x="77.25" y="650.31" width="10.66" height="5.29" fill="#fce59c"/>
<rect x="87.86" y="650.31" width="10.66" height="5.29" fill="#fce59c"/>
<rect x="98.47" y="650.31" width="10.66" height="5.29" fill="#fce59c"/>
<rect x="109.08" y="650.31" width="10.66" height="5.29" fill="#fce59c"/>
<rect x="119.69" y="650.31" width="10.66" height="5.29" fill="#fce59c"/>
<rect x="130.3" y="650.31" width="10.66" height="5.29" fill="#fce59c"/>
<rect x="140.91" y="650.31" width="10.66" height="5.29" fill="#fce59c"/>
<rect x="151.52" y="650.31" width="10.66" height="5.29" fill="#fce59c"/>
<rect x="162.13" y="650.31" width="10.66" height="5.29" fill="#fce59c"/>
<rect x="172.74" y="650.31" width="10.66" height="5.29" fill="#fce59c"/>
<rect x="183.35" y="650.31" width="10.66" height="5.29" fill="#fce59c"/>
<defs><pattern id="hp" x="24.2" y="466.8" width="10.61" height="5.24" patternUnits="userSpaceOnUse"><path d="M0.5 0V2.4M0 0.55H2.0M5.1 0.55H8.7" stroke="#111" stroke-width="1.25" fill="none"/></pattern></defs>
<rect x="24.2" y="466.8" width="169.76" height="189.95" fill="url(#hp)"/>
<line x1="193.96" y1="467.3" x2="193.96" y2="469.8" stroke="#1a1a1a" stroke-width="0.9"/>
<line x1="193.96" y1="472.54" x2="193.96" y2="475.04" stroke="#1a1a1a" stroke-width="0.9"/>
<line x1="193.96" y1="477.79" x2="193.96" y2="480.29" stroke="#1a1a1a" stroke-width="0.9"/>
<line x1="193.96" y1="483.03" x2="193.96" y2="485.53" stroke="#1a1a1a" stroke-width="0.9"/>
<line x1="193.96" y1="488.27" x2="193.96" y2="490.77" stroke="#1a1a1a" stroke-width="0.9"/>
<line x1="193.96" y1="493.51" x2="193.96" y2="496.01" stroke="#1a1a1a" stroke-width="0.9"/>
<line x1="193.96" y1="498.76" x2="193.96" y2="501.26" stroke="#1a1a1a" stroke-width="0.9"/>
<line x1="193.96" y1="504" x2="193.96" y2="506.5" stroke="#1a1a1a" stroke-width="0.9"/>
<line x1="193.96" y1="509.24" x2="193.96" y2="511.74" stroke="#1a1a1a" stroke-width="0.9"/>
<line x1="193.96" y1="514.49" x2="193.96" y2="516.99" stroke="#1a1a1a" stroke-width="0.9"/>
<line x1="193.96" y1="519.73" x2="193.96" y2="522.23" stroke="#1a1a1a" stroke-width="0.9"/>
<line x1="193.96" y1="524.97" x2="193.96" y2="527.47" stroke="#1a1a1a" stroke-width="0.9"/>
<line x1="193.96" y1="530.22" x2="193.96" y2="532.72" stroke="#1a1a1a" stroke-width="0.9"/>
<line x1="193.96" y1="535.46" x2="193.96" y2="537.96" stroke="#1a1a1a" stroke-width="0.9"/>
<line x1="193.96" y1="540.7" x2="193.96" y2="543.2" stroke="#1a1a1a" stroke-width="0.9"/>
<line x1="193.96" y1="545.95" x2="193.96" y2="548.45" stroke="#1a1a1a" stroke-width="0.9"/>
<line x1="193.96" y1="551.19" x2="193.96" y2="553.69" stroke="#1a1a1a" stroke-width="0.9"/>
<line x1="193.96" y1="556.43" x2="193.96" y2="558.93" stroke="#1a1a1a" stroke-width="0.9"/>
<line x1="193.96" y1="561.67" x2="193.96" y2="564.17" stroke="#1a1a1a" stroke-width="0.9"/>
<line x1="193.96" y1="566.92" x2="193.96" y2="569.42" stroke="#1a1a1a" stroke-width="0.9"/>
<line x1="193.96" y1="572.16" x2="193.96" y2="574.66" stroke="#1a1a1a" stroke-width="0.9"/>
<line x1="193.96" y1="577.4" x2="193.96" y2="579.9" stroke="#1a1a1a" stroke-width="0.9"/>
<line x1="193.96" y1="582.65" x2="193.96" y2="585.15" stroke="#1a1a1a" stroke-width="0.9"/>
<line x1="193.96" y1="587.89" x2="193.96" y2="590.39" stroke="#1a1a1a" stroke-width="0.9"/>
<line x1="193.96" y1="593.13" x2="193.96" y2="595.63" stroke="#1a1a1a" stroke-width="0.9"/>
<line x1="193.96" y1="598.38" x2="193.96" y2="600.88" stroke="#1a1a1a" stroke-width="0.9"/>
<line x1="193.96" y1="603.62" x2="193.96" y2="606.12" stroke="#1a1a1a" stroke-width="0.9"/>
<line x1="193.96" y1="608.86" x2="193.96" y2="611.36" stroke="#1a1a1a" stroke-width="0.9"/>
<line x1="193.96" y1="614.1" x2="193.96" y2="616.6" stroke="#1a1a1a" stroke-width="0.9"/>
<line x1="193.96" y1="619.35" x2="193.96" y2="621.85" stroke="#1a1a1a" stroke-width="0.9"/>
<line x1="193.96" y1="624.59" x2="193.96" y2="627.09" stroke="#1a1a1a" stroke-width="0.9"/>
<line x1="193.96" y1="629.83" x2="193.96" y2="632.33" stroke="#1a1a1a" stroke-width="0.9"/>
<line x1="193.96" y1="635.08" x2="193.96" y2="637.58" stroke="#1a1a1a" stroke-width="0.9"/>
<line x1="193.96" y1="640.32" x2="193.96" y2="642.82" stroke="#1a1a1a" stroke-width="0.9"/>
<line x1="193.96" y1="645.56" x2="193.96" y2="648.06" stroke="#1a1a1a" stroke-width="0.9"/>
<line x1="193.96" y1="650.81" x2="193.96" y2="653.31" stroke="#1a1a1a" stroke-width="0.9"/>
<text x="197" y="471.32" font-size="5.6" fill="#111">CD20</text>
<text x="197" y="476.56" font-size="5.6" fill="#111">CD9</text>
<text x="197" y="481.81" font-size="5.6" fill="#111">CD45RA</text>
<text x="197" y="487.05" font-size="5.6" fill="#111">CD19</text>
<text x="197" y="492.29" font-size="5.6" fill="#111">CD99</text>
<text x="197" y="497.54" font-size="5.6" fill="#111">CD123</text>
<text x="197" y="502.78" font-size="5.6" fill="#111">CD117</text>
<text x="197" y="508.02" font-size="5.6" fill="#111">CD179b</text>
<text x="197" y="513.27" font-size="5.6" fill="#111">CD11b</text>
<text x="197" y="518.51" font-size="5.6" fill="#111">MPO</text>
<text x="197" y="523.75" font-size="5.6" fill="#111">CD47</text>
<text x="197" y="528.99" font-size="5.6" fill="#111">CD82</text>
<text x="197" y="534.24" font-size="5.6" fill="#111">CD93</text>
<text x="197" y="539.48" font-size="5.6" fill="#111">CD45</text>
<text x="197" y="544.72" font-size="5.6" fill="#111">pSTAT5</text>
<text x="197" y="549.97" font-size="5.6" fill="#111">CEBPb</text>
<text x="197" y="555.21" font-size="5.6" fill="#111">PDL1</text>
<text x="197" y="560.45" font-size="5.6" fill="#111">PU1</text>
<text x="197" y="565.7" font-size="5.6" fill="#111">pNFkB</text>
<text x="197" y="570.94" font-size="5.6" fill="#111">pSyk</text>
<text x="197" y="576.18" font-size="5.6" fill="#111">IgHi</text>
<text x="197" y="581.42" font-size="5.6" fill="#111">Ikaros</text>
<text x="197" y="586.67" font-size="5.6" fill="#111">GCR</text>
<text x="197" y="591.91" font-size="5.6" fill="#111">CD71</text>
<text x="197" y="597.15" font-size="5.6" fill="#111">CD90</text>
<text x="197" y="602.4" font-size="5.6" fill="#111">GATA1</text>
<text x="197" y="607.64" font-size="5.6" fill="#111">CD24</text>
<text x="197" y="612.88" font-size="5.6" fill="#111">pCreb</text>
<text x="197" y="618.13" font-size="5.6" fill="#111">CD38</text>
<text x="197" y="623.37" font-size="5.6" fill="#111">CD127</text>
<text x="197" y="628.61" font-size="5.6" fill="#111">pAkt</text>
<text x="197" y="633.85" font-size="5.6" fill="#111">CD22</text>
<text x="197" y="639.1" font-size="5.6" fill="#111">HLADR</text>
<text x="197" y="644.34" font-size="5.6" fill="#111">CD41</text>
<text x="197" y="649.58" font-size="5.6" fill="#111">Tdt</text>
<text x="197" y="654.83" font-size="5.6" fill="#111">CD10</text>
<line x1="19.5" y1="479.91" x2="24.2" y2="479.91" stroke="#000" stroke-width="0.9"/>
<line x1="19.5" y1="485.15" x2="24.2" y2="485.15" stroke="#000" stroke-width="0.9"/>
<line x1="19.5" y1="479.91" x2="19.5" y2="485.15" stroke="#000" stroke-width="0.9"/>
<line x1="15.5" y1="474.66" x2="24.2" y2="474.66" stroke="#000" stroke-width="0.9"/>
<line x1="15.5" y1="482.53" x2="19.5" y2="482.53" stroke="#000" stroke-width="0.9"/>
<line x1="15.5" y1="474.66" x2="15.5" y2="482.53" stroke="#000" stroke-width="0.9"/>
<line x1="12.4" y1="469.42" x2="24.2" y2="469.42" stroke="#000" stroke-width="0.9"/>
<line x1="12.4" y1="478.6" x2="15.5" y2="478.6" stroke="#000" stroke-width="0.9"/>
<line x1="12.4" y1="469.42" x2="12.4" y2="478.6" stroke="#000" stroke-width="0.9"/>
<line x1="17" y1="490.39" x2="24.2" y2="490.39" stroke="#000" stroke-width="0.9"/>
<line x1="17" y1="495.64" x2="24.2" y2="495.64" stroke="#000" stroke-width="0.9"/>
<line x1="17" y1="490.39" x2="17" y2="495.64" stroke="#000" stroke-width="0.9"/>
<line x1="15" y1="500.88" x2="24.2" y2="500.88" stroke="#000" stroke-width="0.9"/>
<line x1="15" y1="506.12" x2="24.2" y2="506.12" stroke="#000" stroke-width="0.9"/>
<line x1="15" y1="500.88" x2="15" y2="506.12" stroke="#000" stroke-width="0.9"/>
<line x1="12.4" y1="493.01" x2="17" y2="493.01" stroke="#000" stroke-width="0.9"/>
<line x1="12.4" y1="503.5" x2="15" y2="503.5" stroke="#000" stroke-width="0.9"/>
<line x1="12.4" y1="493.01" x2="12.4" y2="503.5" stroke="#000" stroke-width="0.9"/>
<line x1="12.9" y1="511.37" x2="24.2" y2="511.37" stroke="#000" stroke-width="0.9"/>
<line x1="12.9" y1="516.61" x2="24.2" y2="516.61" stroke="#000" stroke-width="0.9"/>
<line x1="12.9" y1="511.37" x2="12.9" y2="516.61" stroke="#000" stroke-width="0.9"/>
<line x1="10.4" y1="498.26" x2="12.4" y2="498.26" stroke="#000" stroke-width="0.9"/>
<line x1="10.4" y1="513.99" x2="12.9" y2="513.99" stroke="#000" stroke-width="0.9"/>
<line x1="10.4" y1="498.26" x2="10.4" y2="513.99" stroke="#000" stroke-width="0.9"/>
<line x1="19.5" y1="521.85" x2="24.2" y2="521.85" stroke="#000" stroke-width="0.9"/>
<line x1="19.5" y1="527.09" x2="24.2" y2="527.09" stroke="#000" stroke-width="0.9"/>
<line x1="19.5" y1="521.85" x2="19.5" y2="527.09" stroke="#000" stroke-width="0.9"/>
<line x1="19.1" y1="532.34" x2="24.2" y2="532.34" stroke="#000" stroke-width="0.9"/>
<line x1="19.1" y1="537.58" x2="24.2" y2="537.58" stroke="#000" stroke-width="0.9"/>
<line x1="19.1" y1="532.34" x2="19.1" y2="537.58" stroke="#000" stroke-width="0.9"/>
<line x1="15.1" y1="524.47" x2="19.5" y2="524.47" stroke="#000" stroke-width="0.9"/>
<line x1="15.1" y1="534.96" x2="19.1" y2="534.96" stroke="#000" stroke-width="0.9"/>
<line x1="15.1" y1="524.47" x2="15.1" y2="534.96" stroke="#000" stroke-width="0.9"/>
<line x1="22.2" y1="553.31" x2="24.2" y2="553.31" stroke="#000" stroke-width="0.9"/>
<line x1="22.2" y1="558.55" x2="24.2" y2="558.55" stroke="#000" stroke-width="0.9"/>
<line x1="22.2" y1="553.31" x2="22.2" y2="558.55" stroke="#000" stroke-width="0.9"/>
<line x1="21" y1="548.07" x2="24.2" y2="548.07" stroke="#000" stroke-width="0.9"/>
<line x1="21" y1="555.93" x2="22.2" y2="555.93" stroke="#000" stroke-width="0.9"/>
<line x1="21" y1="548.07" x2="21" y2="555.93" stroke="#000" stroke-width="0.9"/>
<line x1="18.2" y1="542.82" x2="24.2" y2="542.82" stroke="#000" stroke-width="0.9"/>
<line x1="18.2" y1="552" x2="21" y2="552" stroke="#000" stroke-width="0.9"/>
<line x1="18.2" y1="542.82" x2="18.2" y2="552" stroke="#000" stroke-width="0.9"/>
<line x1="13.8" y1="529.72" x2="15.1" y2="529.72" stroke="#000" stroke-width="0.9"/>
<line x1="13.8" y1="547.41" x2="18.2" y2="547.41" stroke="#000" stroke-width="0.9"/>
<line x1="13.8" y1="529.72" x2="13.8" y2="547.41" stroke="#000" stroke-width="0.9"/>
<line x1="21" y1="563.8" x2="24.2" y2="563.8" stroke="#000" stroke-width="0.9"/>
<line x1="21" y1="569.04" x2="24.2" y2="569.04" stroke="#000" stroke-width="0.9"/>
<line x1="21" y1="563.8" x2="21" y2="569.04" stroke="#000" stroke-width="0.9"/>
<line x1="20" y1="574.28" x2="24.2" y2="574.28" stroke="#000" stroke-width="0.9"/>
<line x1="20" y1="579.52" x2="24.2" y2="579.52" stroke="#000" stroke-width="0.9"/>
<line x1="20" y1="574.28" x2="20" y2="579.52" stroke="#000" stroke-width="0.9"/>
<line x1="17.5" y1="566.42" x2="21" y2="566.42" stroke="#000" stroke-width="0.9"/>
<line x1="17.5" y1="576.9" x2="20" y2="576.9" stroke="#000" stroke-width="0.9"/>
<line x1="17.5" y1="566.42" x2="17.5" y2="576.9" stroke="#000" stroke-width="0.9"/>
<line x1="21.5" y1="584.77" x2="24.2" y2="584.77" stroke="#000" stroke-width="0.9"/>
<line x1="21.5" y1="590.01" x2="24.2" y2="590.01" stroke="#000" stroke-width="0.9"/>
<line x1="21.5" y1="584.77" x2="21.5" y2="590.01" stroke="#000" stroke-width="0.9"/>
<line x1="21" y1="595.25" x2="24.2" y2="595.25" stroke="#000" stroke-width="0.9"/>
<line x1="21" y1="600.5" x2="24.2" y2="600.5" stroke="#000" stroke-width="0.9"/>
<line x1="21" y1="595.25" x2="21" y2="600.5" stroke="#000" stroke-width="0.9"/>
<line x1="18" y1="587.39" x2="21.5" y2="587.39" stroke="#000" stroke-width="0.9"/>
<line x1="18" y1="597.88" x2="21" y2="597.88" stroke="#000" stroke-width="0.9"/>
<line x1="18" y1="587.39" x2="18" y2="597.88" stroke="#000" stroke-width="0.9"/>
<line x1="15.5" y1="571.66" x2="17.5" y2="571.66" stroke="#000" stroke-width="0.9"/>
<line x1="15.5" y1="592.63" x2="18" y2="592.63" stroke="#000" stroke-width="0.9"/>
<line x1="15.5" y1="571.66" x2="15.5" y2="592.63" stroke="#000" stroke-width="0.9"/>
<line x1="21" y1="605.74" x2="24.2" y2="605.74" stroke="#000" stroke-width="0.9"/>
<line x1="21" y1="610.98" x2="24.2" y2="610.98" stroke="#000" stroke-width="0.9"/>
<line x1="21" y1="605.74" x2="21" y2="610.98" stroke="#000" stroke-width="0.9"/>
<line x1="20.5" y1="616.23" x2="24.2" y2="616.23" stroke="#000" stroke-width="0.9"/>
<line x1="20.5" y1="621.47" x2="24.2" y2="621.47" stroke="#000" stroke-width="0.9"/>
<line x1="20.5" y1="616.23" x2="20.5" y2="621.47" stroke="#000" stroke-width="0.9"/>
<line x1="18.5" y1="608.36" x2="21" y2="608.36" stroke="#000" stroke-width="0.9"/>
<line x1="18.5" y1="618.85" x2="20.5" y2="618.85" stroke="#000" stroke-width="0.9"/>
<line x1="18.5" y1="608.36" x2="18.5" y2="618.85" stroke="#000" stroke-width="0.9"/>
<line x1="22" y1="626.71" x2="24.2" y2="626.71" stroke="#000" stroke-width="0.9"/>
<line x1="22" y1="631.95" x2="24.2" y2="631.95" stroke="#000" stroke-width="0.9"/>
<line x1="22" y1="626.71" x2="22" y2="631.95" stroke="#000" stroke-width="0.9"/>
<line x1="17" y1="629.33" x2="22" y2="629.33" stroke="#000" stroke-width="0.9"/>
<line x1="17" y1="637.2" x2="24.2" y2="637.2" stroke="#000" stroke-width="0.9"/>
<line x1="17" y1="629.33" x2="17" y2="637.2" stroke="#000" stroke-width="0.9"/>
<line x1="15" y1="613.6" x2="18.5" y2="613.6" stroke="#000" stroke-width="0.9"/>
<line x1="15" y1="633.27" x2="17" y2="633.27" stroke="#000" stroke-width="0.9"/>
<line x1="15" y1="613.6" x2="15" y2="633.27" stroke="#000" stroke-width="0.9"/>
<line x1="12.4" y1="582.15" x2="15.5" y2="582.15" stroke="#000" stroke-width="0.9"/>
<line x1="12.4" y1="623.43" x2="15" y2="623.43" stroke="#000" stroke-width="0.9"/>
<line x1="12.4" y1="582.15" x2="12.4" y2="623.43" stroke="#000" stroke-width="0.9"/>
<line x1="11.8" y1="602.79" x2="12.4" y2="602.79" stroke="#000" stroke-width="0.9"/>
<line x1="11.8" y1="642.44" x2="24.2" y2="642.44" stroke="#000" stroke-width="0.9"/>
<line x1="11.8" y1="602.79" x2="11.8" y2="642.44" stroke="#000" stroke-width="0.9"/>
<line x1="11" y1="538.56" x2="13.8" y2="538.56" stroke="#000" stroke-width="0.9"/>
<line x1="11" y1="622.62" x2="11.8" y2="622.62" stroke="#000" stroke-width="0.9"/>
<line x1="11" y1="538.56" x2="11" y2="622.62" stroke="#000" stroke-width="0.9"/>
<line x1="9.8" y1="506.12" x2="10.4" y2="506.12" stroke="#000" stroke-width="0.9"/>
<line x1="9.8" y1="580.59" x2="11" y2="580.59" stroke="#000" stroke-width="0.9"/>
<line x1="9.8" y1="506.12" x2="9.8" y2="580.59" stroke="#000" stroke-width="0.9"/>
<line x1="16" y1="647.68" x2="24.2" y2="647.68" stroke="#000" stroke-width="0.9"/>
<line x1="16" y1="652.93" x2="24.2" y2="652.93" stroke="#000" stroke-width="0.9"/>
<line x1="16" y1="647.68" x2="16" y2="652.93" stroke="#000" stroke-width="0.9"/>
<line x1="8.8" y1="543.36" x2="9.8" y2="543.36" stroke="#000" stroke-width="0.9"/>
<line x1="8.8" y1="650.31" x2="16" y2="650.31" stroke="#000" stroke-width="0.9"/>
<line x1="8.8" y1="543.36" x2="8.8" y2="650.31" stroke="#000" stroke-width="0.9"/>
<line x1="6" y1="474.01" x2="12.4" y2="474.01" stroke="#000" stroke-width="0.9"/>
<line x1="6" y1="596.83" x2="8.8" y2="596.83" stroke="#000" stroke-width="0.9"/>
<line x1="6" y1="474.01" x2="6" y2="596.83" stroke="#000" stroke-width="0.9"/>
<text x="232.75" y="445.93" font-size="6.4" fill="#111" text-anchor="middle">pathology</text>
<rect x="221.5" y="451.2" width="8.9" height="5.1" fill="#3b5fb5" stroke="#151515" stroke-width="0.8"/>
<rect x="221.5" y="461.9" width="8.9" height="5.1" fill="#e03222" stroke="#151515" stroke-width="0.8"/>
<text x="238.5" y="456.04" font-size="6.5" fill="#111" text-anchor="middle">ALL</text>
<text x="239.5" y="466.64" font-size="6.5" fill="#111" text-anchor="middle">AML</text>
<text x="217.9" y="490.47" font-size="6.6" fill="#111" textLength="20.3" lengthAdjust="spacingAndGlyphs">Median</text>
<text x="227.95" y="497.77" font-size="6.6" fill="#111" text-anchor="middle">Arcsin</text>
<defs><linearGradient id="cb" x1="0" y1="1" x2="0" y2="0"><stop offset="0" stop-color="#fff8cc"/><stop offset="0.33" stop-color="#f6bf5a"/><stop offset="0.55" stop-color="#e4622c"/><stop offset="0.7" stop-color="#cc2222"/><stop offset="1" stop-color="#7a0c2c"/></linearGradient></defs>
<rect x="224.2" y="502.2" width="7.5" height="21.3" fill="url(#cb)"/>
<text x="234.9" y="505.1" font-size="6.2" fill="#111">3</text>
<line x1="230.2" y1="503" x2="231.7" y2="503" stroke="#fff" stroke-width="0.6"/>
<text x="234.9" y="511.9" font-size="6.2" fill="#111">2</text>
<line x1="230.2" y1="509.8" x2="231.7" y2="509.8" stroke="#fff" stroke-width="0.6"/>
<text x="234.9" y="518.3" font-size="6.2" fill="#111">1</text>
<line x1="230.2" y1="516.2" x2="231.7" y2="516.2" stroke="#fff" stroke-width="0.6"/>
<text x="234.9" y="524.7" font-size="6.2" fill="#111">0</text>
<line x1="230.2" y1="522.6" x2="231.7" y2="522.6" stroke="#fff" stroke-width="0.6"/>
<text transform="translate(31.5 662.2) rotate(-90)" font-size="5.9" fill="#111" text-anchor="middle">24</text>
<text transform="translate(42.11 662.2) rotate(-90)" font-size="5.9" fill="#111" text-anchor="middle">32</text>
<text transform="translate(52.72 662.2) rotate(-90)" font-size="5.9" fill="#111" text-anchor="middle">35</text>
<text transform="translate(63.33 662.2) rotate(-90)" font-size="5.9" fill="#111" text-anchor="middle">33</text>
<text transform="translate(73.94 662.2) rotate(-90)" font-size="5.9" fill="#111" text-anchor="middle">31</text>
<text transform="translate(84.55 662.2) rotate(-90)" font-size="5.9" fill="#111" text-anchor="middle">30</text>
<text transform="translate(95.17 662.2) rotate(-90)" font-size="5.9" fill="#111" text-anchor="middle">03</text>
<text transform="translate(105.77 662.2) rotate(-90)" font-size="5.9" fill="#111" text-anchor="middle">02</text>
<text transform="translate(116.39 662.2) rotate(-90)" font-size="5.9" fill="#111" text-anchor="middle">38</text>
<text transform="translate(126.99 662.2) rotate(-90)" font-size="5.9" fill="#111" text-anchor="middle">05</text>
<text transform="translate(137.6 662.2) rotate(-90)" font-size="5.9" fill="#111" text-anchor="middle">37</text>
<text transform="translate(148.21 662.2) rotate(-90)" font-size="5.9" fill="#111" text-anchor="middle">40</text>
<text transform="translate(158.82 662.2) rotate(-90)" font-size="5.9" fill="#111" text-anchor="middle">36</text>
<text transform="translate(169.43 662.2) rotate(-90)" font-size="5.9" fill="#111" text-anchor="middle">04</text>
<text transform="translate(180.04 662.2) rotate(-90)" font-size="5.9" fill="#111" text-anchor="middle">41</text>
<text transform="translate(190.65 662.2) rotate(-90)" font-size="5.9" fill="#111" text-anchor="middle">39</text>
<line x1="22.6" y1="668.3" x2="43.42" y2="668.3" stroke="#000" stroke-width="1"/>
<text x="34.81" y="677.3" font-size="6.3" fill="#3a5cb4" text-anchor="middle">ALL1</text>
<line x1="47.42" y1="668.3" x2="85.86" y2="668.3" stroke="#000" stroke-width="1"/>
<text x="66.64" y="677.3" font-size="6.3" fill="#3a5cb4" text-anchor="middle">ALL2</text>
<line x1="89.86" y1="668.3" x2="117.69" y2="668.3" stroke="#000" stroke-width="1"/>
<text x="103.78" y="677.3" font-size="6.3" fill="#d42a2a" text-anchor="middle">AML1</text>
<line x1="121.69" y1="668.3" x2="138.91" y2="668.3" stroke="#000" stroke-width="1"/>
<text x="130.3" y="677.3" font-size="6.3" fill="#d42a2a" text-anchor="middle">AML2</text>
<line x1="142.91" y1="668.3" x2="160.13" y2="668.3" stroke="#000" stroke-width="1"/>
<text x="151.52" y="677.3" font-size="6.3" fill="#d42a2a" text-anchor="middle">AML3</text>
<line x1="164.13" y1="668.3" x2="191.96" y2="668.3" stroke="#000" stroke-width="1"/>
<text x="178.04" y="677.3" font-size="6.3" fill="#d42a2a" text-anchor="middle">AML4</text>
<text x="207.8" y="663.7" font-size="6.4" fill="#111" text-anchor="middle">sample ID</text>
<text x="193.6" y="677.13" font-size="6.4" fill="#111" textLength="33.8" lengthAdjust="spacingAndGlyphs">sample type</text>
<text x="338.5" y="452.27" font-size="8.4" textLength="78.5" lengthAdjust="spacingAndGlyphs">gene-edited leukemia</text>
<rect x="296.3" y="497.1" width="163.4" height="92.5" fill="#b3b3ad"/>
<rect x="297" y="497.05" width="6.2" height="92.55" fill="#16162a"/>
<rect x="297.8" y="549.01" width="4.6" height="40.24" fill="#2e3592"/>
<rect x="297.8" y="533.25" width="4.6" height="15.07" fill="#2eaae2"/>
<rect x="297.8" y="527.44" width="4.6" height="5.11" fill="#d93a25"/>
<rect x="297.8" y="513.61" width="4.6" height="13.13" fill="#e2704c"/>
<rect x="297.8" y="499.78" width="4.6" height="13.13" fill="#f2a283"/>
<rect x="297.8" y="498.3" width="4.6" height="0.78" fill="#f29a1c"/>
<rect x="297.8" y="497.75" width="4.6" height="0.2" fill="#5a2d82"/>
<rect x="304.5" y="497.05" width="6.2" height="92.55" fill="#16162a"/>
<rect x="305.3" y="534.08" width="4.6" height="55.17" fill="#2e3592"/>
<rect x="305.3" y="531.22" width="4.6" height="2.16" fill="#2eaae2"/>
<rect x="305.3" y="527.99" width="4.6" height="2.53" fill="#d93a25"/>
<rect x="305.3" y="515.45" width="4.6" height="11.84" fill="#e2704c"/>
<rect x="305.3" y="500.79" width="4.6" height="13.96" fill="#f2a283"/>
<rect x="305.3" y="498.67" width="4.6" height="1.42" fill="#f29a1c"/>
<rect x="305.3" y="497.75" width="4.6" height="0.22" fill="#5a2d82"/>
<rect x="312" y="497.05" width="6.2" height="92.55" fill="#16162a"/>
<rect x="312.8" y="525.78" width="4.6" height="63.47" fill="#2e3592"/>
<rect x="312.8" y="523.66" width="4.6" height="1.42" fill="#d93a25"/>
<rect x="312.8" y="513.61" width="4.6" height="9.35" fill="#e2704c"/>
<rect x="312.8" y="498.67" width="4.6" height="14.24" fill="#f2a283"/>
<rect x="312.8" y="497.75" width="4.6" height="0.22" fill="#5a2d82"/>
<rect x="319.5" y="497.05" width="6.2" height="92.55" fill="#16162a"/>
<rect x="320.3" y="527.99" width="4.6" height="61.26" fill="#2e3592"/>
<rect x="320.3" y="521.45" width="4.6" height="5.85" fill="#2eaae2"/>
<rect x="320.3" y="518.68" width="4.6" height="2.07" fill="#d93a25"/>
<rect x="320.3" y="510.75" width="4.6" height="7.23" fill="#e2704c"/>
<rect x="320.3" y="500.33" width="4.6" height="9.72" fill="#f2a283"/>
<rect x="320.3" y="498.4" width="4.6" height="1.24" fill="#f29a1c"/>
<rect x="320.3" y="497.75" width="4.6" height="0.2" fill="#5a2d82"/>
<rect x="327" y="497.05" width="6.2" height="92.55" fill="#16162a"/>
<rect x="327.8" y="534.72" width="4.6" height="54.53" fill="#2e3592"/>
<rect x="327.8" y="522.64" width="4.6" height="11.38" fill="#2eaae2"/>
<rect x="327.8" y="518.68" width="4.6" height="3.26" fill="#d93a25"/>
<rect x="327.8" y="509.37" width="4.6" height="8.61" fill="#e2704c"/>
<rect x="327.8" y="499.32" width="4.6" height="9.35" fill="#f2a283"/>
<rect x="327.8" y="497.75" width="4.6" height="0.87" fill="#5a2d82"/>
<rect x="334.5" y="497.05" width="6.2" height="92.55" fill="#16162a"/>
<rect x="335.3" y="582.67" width="4.6" height="6.58" fill="#2e3592"/>
<rect x="335.3" y="555.01" width="4.6" height="26.96" fill="#d93a25"/>
<rect x="335.3" y="523.66" width="4.6" height="30.65" fill="#e2704c"/>
<rect x="335.3" y="510.75" width="4.6" height="12.21" fill="#f2a283"/>
<rect x="335.3" y="498.67" width="4.6" height="11.38" fill="#f29a1c"/>
<rect x="335.3" y="497.75" width="4.6" height="0.22" fill="#5a2d82"/>
<rect x="342" y="497.05" width="6.2" height="92.55" fill="#16162a"/>
<rect x="342.8" y="582.67" width="4.6" height="6.58" fill="#2e3592"/>
<rect x="342.8" y="542.28" width="4.6" height="39.68" fill="#d93a25"/>
<rect x="342.8" y="510.75" width="4.6" height="30.83" fill="#e2704c"/>
<rect x="342.8" y="502.64" width="4.6" height="7.41" fill="#f2a283"/>
<rect x="342.8" y="499.78" width="4.6" height="2.16" fill="#f29a1c"/>
<rect x="342.8" y="497.75" width="4.6" height="1.33" fill="#5a2d82"/>
<rect x="349.5" y="497.05" width="6.2" height="92.55" fill="#16162a"/>
<rect x="350.3" y="577.96" width="4.6" height="11.29" fill="#2e3592"/>
<rect x="350.3" y="529.37" width="4.6" height="47.89" fill="#d93a25"/>
<rect x="350.3" y="508.63" width="4.6" height="20.05" fill="#e2704c"/>
<rect x="350.3" y="501.44" width="4.6" height="6.49" fill="#f2a283"/>
<rect x="350.3" y="498.67" width="4.6" height="2.07" fill="#f29a1c"/>
<rect x="350.3" y="497.75" width="4.6" height="0.22" fill="#5a2d82"/>
<rect x="357" y="497.05" width="6.2" height="92.55" fill="#16162a"/>
<rect x="357.8" y="587.92" width="4.6" height="1.33" fill="#2e3592"/>
<rect x="357.8" y="534.35" width="4.6" height="52.87" fill="#d93a25"/>
<rect x="357.8" y="514.35" width="4.6" height="19.31" fill="#e2704c"/>
<rect x="357.8" y="502.64" width="4.6" height="11.01" fill="#f2a283"/>
<rect x="357.8" y="498.4" width="4.6" height="3.54" fill="#f29a1c"/>
<rect x="357.8" y="497.75" width="4.6" height="0.2" fill="#5a2d82"/>
<rect x="364.5" y="497.05" width="6.2" height="92.55" fill="#16162a"/>
<rect x="365.3" y="587.92" width="4.6" height="1.33" fill="#2e3592"/>
<rect x="365.3" y="524.4" width="4.6" height="62.83" fill="#d93a25"/>
<rect x="365.3" y="510.38" width="4.6" height="13.31" fill="#e2704c"/>
<rect x="365.3" y="501.44" width="4.6" height="8.24" fill="#f2a283"/>
<rect x="365.3" y="498.67" width="4.6" height="2.07" fill="#f29a1c"/>
<rect x="365.3" y="497.75" width="4.6" height="0.22" fill="#5a2d82"/>
<rect x="372" y="497.05" width="6.2" height="92.55" fill="#16162a"/>
<rect x="372.8" y="588.66" width="4.6" height="0.59" fill="#2e3592"/>
<rect x="372.8" y="570.77" width="4.6" height="17.19" fill="#d93a25"/>
<rect x="372.8" y="534.63" width="4.6" height="35.44" fill="#e2704c"/>
<rect x="372.8" y="501.71" width="4.6" height="32.22" fill="#f2a283"/>
<rect x="372.8" y="498.4" width="4.6" height="2.62" fill="#f29a1c"/>
<rect x="372.8" y="497.75" width="4.6" height="0.2" fill="#5a2d82"/>
<rect x="379.5" y="497.05" width="6.2" height="92.55" fill="#16162a"/>
<rect x="380.3" y="583.68" width="4.6" height="5.57" fill="#2e3592"/>
<rect x="380.3" y="561.46" width="4.6" height="21.52" fill="#d93a25"/>
<rect x="380.3" y="535.09" width="4.6" height="25.67" fill="#e2704c"/>
<rect x="380.3" y="513.61" width="4.6" height="20.78" fill="#f2a283"/>
<rect x="380.3" y="498.4" width="4.6" height="14.51" fill="#f29a1c"/>
<rect x="380.3" y="497.75" width="4.6" height="0.2" fill="#5a2d82"/>
<rect x="387" y="497.05" width="6.2" height="92.55" fill="#16162a"/>
<rect x="387.8" y="588.66" width="4.6" height="0.59" fill="#2e3592"/>
<rect x="387.8" y="578.61" width="4.6" height="9.35" fill="#d93a25"/>
<rect x="387.8" y="550.76" width="4.6" height="27.14" fill="#e2704c"/>
<rect x="387.8" y="508.35" width="4.6" height="41.71" fill="#f2a283"/>
<rect x="387.8" y="498.4" width="4.6" height="9.26" fill="#f29a1c"/>
<rect x="387.8" y="497.75" width="4.6" height="0.2" fill="#5a2d82"/>
<rect x="394.5" y="497.05" width="6.2" height="92.55" fill="#16162a"/>
<rect x="395.3" y="578.61" width="4.6" height="10.64" fill="#d93a25"/>
<rect x="395.3" y="556.02" width="4.6" height="21.89" fill="#e2704c"/>
<rect x="395.3" y="510.75" width="4.6" height="44.57" fill="#f2a283"/>
<rect x="395.3" y="498.4" width="4.6" height="11.65" fill="#f29a1c"/>
<rect x="395.3" y="497.75" width="4.6" height="0.2" fill="#5a2d82"/>
<rect x="402" y="497.05" width="6.2" height="92.55" fill="#16162a"/>
<rect x="402.8" y="587.46" width="4.6" height="1.79" fill="#2e3592"/>
<rect x="402.8" y="575.75" width="4.6" height="11.01" fill="#d93a25"/>
<rect x="402.8" y="556.02" width="4.6" height="19.03" fill="#e2704c"/>
<rect x="402.8" y="516.47" width="4.6" height="38.85" fill="#f2a283"/>
<rect x="402.8" y="498.4" width="4.6" height="17.37" fill="#f29a1c"/>
<rect x="402.8" y="497.75" width="4.6" height="0.2" fill="#5a2d82"/>
<rect x="409.5" y="497.05" width="6.2" height="92.55" fill="#16162a"/>
<rect x="410.3" y="558.33" width="4.6" height="30.92" fill="#2e3592"/>
<rect x="410.3" y="555.01" width="4.6" height="2.62" fill="#d93a25"/>
<rect x="410.3" y="508.91" width="4.6" height="45.4" fill="#e2704c"/>
<rect x="410.3" y="502.27" width="4.6" height="5.94" fill="#f2a283"/>
<rect x="410.3" y="497.75" width="4.6" height="3.82" fill="#5a2d82"/>
<rect x="417" y="497.05" width="6.2" height="92.55" fill="#16162a"/>
<rect x="417.8" y="555.74" width="4.6" height="33.51" fill="#2e3592"/>
<rect x="417.8" y="543.67" width="4.6" height="11.38" fill="#d93a25"/>
<rect x="417.8" y="517.94" width="4.6" height="25.02" fill="#e2704c"/>
<rect x="417.8" y="502.64" width="4.6" height="14.61" fill="#f2a283"/>
<rect x="417.8" y="499.32" width="4.6" height="2.62" fill="#f29a1c"/>
<rect x="417.8" y="497.75" width="4.6" height="0.87" fill="#5a2d82"/>
<rect x="424.5" y="497.05" width="6.2" height="92.55" fill="#16162a"/>
<rect x="425.3" y="575.47" width="4.6" height="13.78" fill="#2e3592"/>
<rect x="425.3" y="572.62" width="4.6" height="2.16" fill="#d93a25"/>
<rect x="425.3" y="511.76" width="4.6" height="60.15" fill="#e2704c"/>
<rect x="425.3" y="499.78" width="4.6" height="11.29" fill="#f2a283"/>
<rect x="425.3" y="497.75" width="4.6" height="1.33" fill="#5a2d82"/>
<rect x="432" y="497.05" width="6.2" height="92.55" fill="#16162a"/>
<rect x="432.8" y="571.51" width="4.6" height="17.74" fill="#2e3592"/>
<rect x="432.8" y="569.39" width="4.6" height="1.42" fill="#d93a25"/>
<rect x="432.8" y="521.45" width="4.6" height="47.24" fill="#e2704c"/>
<rect x="432.8" y="498.67" width="4.6" height="22.07" fill="#f2a283"/>
<rect x="432.8" y="497.75" width="4.6" height="0.22" fill="#5a2d82"/>
<rect x="439.5" y="497.05" width="6.2" height="92.55" fill="#16162a"/>
<rect x="440.3" y="578.61" width="4.6" height="10.64" fill="#2e3592"/>
<rect x="440.3" y="562.66" width="4.6" height="15.25" fill="#d93a25"/>
<rect x="440.3" y="517.94" width="4.6" height="44.02" fill="#e2704c"/>
<rect x="440.3" y="501.44" width="4.6" height="15.8" fill="#f2a283"/>
<rect x="440.3" y="498.67" width="4.6" height="2.07" fill="#f29a1c"/>
<rect x="440.3" y="497.75" width="4.6" height="0.22" fill="#5a2d82"/>
<rect x="447" y="497.05" width="6.2" height="92.55" fill="#16162a"/>
<rect x="447.8" y="587.92" width="4.6" height="1.33" fill="#2e3592"/>
<rect x="447.8" y="584.33" width="4.6" height="2.9" fill="#d93a25"/>
<rect x="447.8" y="521.45" width="4.6" height="62.18" fill="#e2704c"/>
<rect x="447.8" y="502.64" width="4.6" height="18.11" fill="#f2a283"/>
<rect x="447.8" y="499.78" width="4.6" height="2.16" fill="#f29a1c"/>
<rect x="447.8" y="497.75" width="4.6" height="1.33" fill="#5a2d82"/>
<rect x="454.5" y="497.05" width="6.2" height="92.55" fill="#16162a"/>
<rect x="455.3" y="587.92" width="4.6" height="1.33" fill="#2e3592"/>
<rect x="455.3" y="574.37" width="4.6" height="12.85" fill="#d93a25"/>
<rect x="455.3" y="520.8" width="4.6" height="52.87" fill="#e2704c"/>
<rect x="455.3" y="502.91" width="4.6" height="17.19" fill="#f2a283"/>
<rect x="455.3" y="498.67" width="4.6" height="3.54" fill="#f29a1c"/>
<rect x="455.3" y="497.75" width="4.6" height="0.22" fill="#5a2d82"/>
<line x1="292.9" y1="494.2" x2="292.9" y2="590.1" stroke="#111" stroke-width="1.2"/>
<line x1="290" y1="589.6" x2="462.3" y2="589.6" stroke="#111" stroke-width="1"/>
<line x1="290" y1="589.6" x2="293" y2="589.6" stroke="#111" stroke-width="0.9"/>
<text x="286" y="590.6" font-size="6.2" fill="#222" text-anchor="end">0</text>
<line x1="290" y1="571.16" x2="293" y2="571.16" stroke="#111" stroke-width="0.9"/>
<text x="286" y="572.16" font-size="6.2" fill="#222" text-anchor="end">20</text>
<line x1="290" y1="552.72" x2="293" y2="552.72" stroke="#111" stroke-width="0.9"/>
<text x="286" y="553.72" font-size="6.2" fill="#222" text-anchor="end">40</text>
<line x1="290" y1="534.28" x2="293" y2="534.28" stroke="#111" stroke-width="0.9"/>
<text x="286" y="535.28" font-size="6.2" fill="#222" text-anchor="end">60</text>
<line x1="290" y1="515.84" x2="293" y2="515.84" stroke="#111" stroke-width="0.9"/>
<text x="286" y="516.84" font-size="6.2" fill="#222" text-anchor="end">80</text>
<line x1="290" y1="497.4" x2="293" y2="497.4" stroke="#111" stroke-width="0.9"/>
<text x="286" y="498.4" font-size="6.2" fill="#222" text-anchor="end">100</text>
<line x1="300.1" y1="589.6" x2="300.1" y2="592.6" stroke="#111" stroke-width="0.8"/>
<text x="300.1" y="600.5" font-size="5.9" fill="#111" text-anchor="middle" textLength="6.6" lengthAdjust="spacingAndGlyphs">25</text>
<text transform="translate(302.5 605.5) rotate(-90)" font-size="7.2" fill="#3a8fd6" text-anchor="end" textLength="14.2" lengthAdjust="spacingAndGlyphs">ALL1</text>
<line x1="307.6" y1="589.6" x2="307.6" y2="592.6" stroke="#111" stroke-width="0.8"/>
<text x="307.6" y="600.5" font-size="5.9" fill="#111" text-anchor="middle" textLength="6.6" lengthAdjust="spacingAndGlyphs">18</text>
<text transform="translate(310 605.5) rotate(-90)" font-size="7.2" fill="#3a8fd6" text-anchor="end" textLength="14.2" lengthAdjust="spacingAndGlyphs">ALL1</text>
<line x1="315.1" y1="589.6" x2="315.1" y2="592.6" stroke="#111" stroke-width="0.8"/>
<text x="315.1" y="600.5" font-size="5.9" fill="#111" text-anchor="middle" textLength="6.6" lengthAdjust="spacingAndGlyphs">26</text>
<text transform="translate(317.5 605.5) rotate(-90)" font-size="7.2" fill="#3a8fd6" text-anchor="end" textLength="14.2" lengthAdjust="spacingAndGlyphs">ALL1</text>
<line x1="322.6" y1="589.6" x2="322.6" y2="592.6" stroke="#111" stroke-width="0.8"/>
<text x="322.6" y="600.5" font-size="5.9" fill="#111" text-anchor="middle" textLength="6.6" lengthAdjust="spacingAndGlyphs">17</text>
<text transform="translate(325 605.5) rotate(-90)" font-size="7.2" fill="#3a8fd6" text-anchor="end" textLength="14.2" lengthAdjust="spacingAndGlyphs">ALL1</text>
<line x1="330.1" y1="589.6" x2="330.1" y2="592.6" stroke="#111" stroke-width="0.8"/>
<text x="330.1" y="600.5" font-size="5.9" fill="#111" text-anchor="middle" textLength="6.6" lengthAdjust="spacingAndGlyphs">24</text>
<text transform="translate(332.5 605.5) rotate(-90)" font-size="7.2" fill="#3a8fd6" text-anchor="end" textLength="14.2" lengthAdjust="spacingAndGlyphs">ALL1</text>
<line x1="337.6" y1="589.6" x2="337.6" y2="592.6" stroke="#111" stroke-width="0.8"/>
<text x="337.6" y="600.5" font-size="5.9" fill="#111" text-anchor="middle" textLength="6.6" lengthAdjust="spacingAndGlyphs">14</text>
<text transform="translate(340 605.5) rotate(-90)" font-size="7.2" fill="#d83838" text-anchor="end" textLength="16.6" lengthAdjust="spacingAndGlyphs">AML2</text>
<line x1="345.1" y1="589.6" x2="345.1" y2="592.6" stroke="#111" stroke-width="0.8"/>
<text x="345.1" y="600.5" font-size="5.9" fill="#111" text-anchor="middle" textLength="6.6" lengthAdjust="spacingAndGlyphs">11</text>
<text transform="translate(347.5 605.5) rotate(-90)" font-size="7.2" fill="#d83838" text-anchor="end" textLength="16.6" lengthAdjust="spacingAndGlyphs">AML2</text>
<line x1="352.6" y1="589.6" x2="352.6" y2="592.6" stroke="#111" stroke-width="0.8"/>
<text x="352.6" y="600.5" font-size="5.9" fill="#111" text-anchor="middle" textLength="6.6" lengthAdjust="spacingAndGlyphs">08</text>
<text transform="translate(355 605.5) rotate(-90)" font-size="7.2" fill="#d83838" text-anchor="end" textLength="16.6" lengthAdjust="spacingAndGlyphs">AML1</text>
<line x1="360.1" y1="589.6" x2="360.1" y2="592.6" stroke="#111" stroke-width="0.8"/>
<text x="360.1" y="600.5" font-size="5.9" fill="#111" text-anchor="middle" textLength="6.6" lengthAdjust="spacingAndGlyphs">23</text>
<text transform="translate(362.5 605.5) rotate(-90)" font-size="7.2" fill="#d83838" text-anchor="end" textLength="16.6" lengthAdjust="spacingAndGlyphs">AML1</text>
<line x1="367.6" y1="589.6" x2="367.6" y2="592.6" stroke="#111" stroke-width="0.8"/>
<text x="367.6" y="600.5" font-size="5.9" fill="#111" text-anchor="middle" textLength="6.6" lengthAdjust="spacingAndGlyphs">22</text>
<text transform="translate(370 605.5) rotate(-90)" font-size="7.2" fill="#d83838" text-anchor="end" textLength="16.6" lengthAdjust="spacingAndGlyphs">AML1</text>
<line x1="375.1" y1="589.6" x2="375.1" y2="592.6" stroke="#111" stroke-width="0.8"/>
<text x="375.1" y="600.5" font-size="5.9" fill="#111" text-anchor="middle" textLength="6.6" lengthAdjust="spacingAndGlyphs">06</text>
<text transform="translate(377.5 605.5) rotate(-90)" font-size="7.2" fill="#d83838" text-anchor="end" textLength="16.6" lengthAdjust="spacingAndGlyphs">AML2</text>
<line x1="382.6" y1="589.6" x2="382.6" y2="592.6" stroke="#111" stroke-width="0.8"/>
<text x="382.6" y="600.5" font-size="5.9" fill="#111" text-anchor="middle" textLength="6.6" lengthAdjust="spacingAndGlyphs">15</text>
<text transform="translate(385 605.5) rotate(-90)" font-size="7.2" fill="#d83838" text-anchor="end" textLength="16.6" lengthAdjust="spacingAndGlyphs">AML2</text>
<line x1="390.1" y1="589.6" x2="390.1" y2="592.6" stroke="#111" stroke-width="0.8"/>
<text x="390.1" y="600.5" font-size="5.9" fill="#111" text-anchor="middle" textLength="6.6" lengthAdjust="spacingAndGlyphs">27</text>
<text transform="translate(392.5 605.5) rotate(-90)" font-size="7.2" fill="#d83838" text-anchor="end" textLength="16.6" lengthAdjust="spacingAndGlyphs">AML3</text>
<line x1="397.6" y1="589.6" x2="397.6" y2="592.6" stroke="#111" stroke-width="0.8"/>
<text x="397.6" y="600.5" font-size="5.9" fill="#111" text-anchor="middle" textLength="6.6" lengthAdjust="spacingAndGlyphs">20</text>
<text transform="translate(400 605.5) rotate(-90)" font-size="7.2" fill="#d83838" text-anchor="end" textLength="16.6" lengthAdjust="spacingAndGlyphs">AML3</text>
<line x1="405.1" y1="589.6" x2="405.1" y2="592.6" stroke="#111" stroke-width="0.8"/>
<text x="405.1" y="600.5" font-size="5.9" fill="#111" text-anchor="middle" textLength="6.6" lengthAdjust="spacingAndGlyphs">19</text>
<text transform="translate(407.5 605.5) rotate(-90)" font-size="7.2" fill="#d83838" text-anchor="end" textLength="16.6" lengthAdjust="spacingAndGlyphs">AML3</text>
<line x1="412.6" y1="589.6" x2="412.6" y2="592.6" stroke="#111" stroke-width="0.8"/>
<text x="412.6" y="600.5" font-size="5.9" fill="#111" text-anchor="middle" textLength="6.6" lengthAdjust="spacingAndGlyphs">09</text>
<text transform="translate(415 605.5) rotate(-90)" font-size="7.2" fill="#d83838" text-anchor="end" textLength="16.6" lengthAdjust="spacingAndGlyphs">AML2</text>
<line x1="420.1" y1="589.6" x2="420.1" y2="592.6" stroke="#111" stroke-width="0.8"/>
<text x="420.1" y="600.5" font-size="5.9" fill="#111" text-anchor="middle" textLength="6.6" lengthAdjust="spacingAndGlyphs">16</text>
<text transform="translate(422.5 605.5) rotate(-90)" font-size="7.2" fill="#d83838" text-anchor="end" textLength="16.6" lengthAdjust="spacingAndGlyphs">AML2</text>
<line x1="427.6" y1="589.6" x2="427.6" y2="592.6" stroke="#111" stroke-width="0.8"/>
<text x="427.6" y="600.5" font-size="5.9" fill="#111" text-anchor="middle" textLength="6.6" lengthAdjust="spacingAndGlyphs">10</text>
<text transform="translate(430 605.5) rotate(-90)" font-size="7.2" fill="#d83838" text-anchor="end" textLength="16.6" lengthAdjust="spacingAndGlyphs">AML2</text>
<line x1="435.1" y1="589.6" x2="435.1" y2="592.6" stroke="#111" stroke-width="0.8"/>
<text x="435.1" y="600.5" font-size="5.9" fill="#111" text-anchor="middle" textLength="6.6" lengthAdjust="spacingAndGlyphs">21</text>
<text transform="translate(437.5 605.5) rotate(-90)" font-size="7.2" fill="#d83838" text-anchor="end" textLength="16.6" lengthAdjust="spacingAndGlyphs">AML2</text>
<line x1="442.6" y1="589.6" x2="442.6" y2="592.6" stroke="#111" stroke-width="0.8"/>
<text x="442.6" y="600.5" font-size="5.9" fill="#111" text-anchor="middle" textLength="6.6" lengthAdjust="spacingAndGlyphs">13</text>
<text transform="translate(445 605.5) rotate(-90)" font-size="7.2" fill="#d83838" text-anchor="end" textLength="16.6" lengthAdjust="spacingAndGlyphs">AML2</text>
<line x1="450.1" y1="589.6" x2="450.1" y2="592.6" stroke="#111" stroke-width="0.8"/>
<text x="450.1" y="600.5" font-size="5.9" fill="#111" text-anchor="middle" textLength="6.6" lengthAdjust="spacingAndGlyphs">12</text>
<text transform="translate(452.5 605.5) rotate(-90)" font-size="7.2" fill="#d83838" text-anchor="end" textLength="16.6" lengthAdjust="spacingAndGlyphs">AML2</text>
<line x1="457.6" y1="589.6" x2="457.6" y2="592.6" stroke="#111" stroke-width="0.8"/>
<text x="457.6" y="600.5" font-size="5.9" fill="#111" text-anchor="middle" textLength="6.6" lengthAdjust="spacingAndGlyphs">07</text>
<text transform="translate(460 605.5) rotate(-90)" font-size="7.2" fill="#d83838" text-anchor="end" textLength="16.6" lengthAdjust="spacingAndGlyphs">AML2</text>
<text transform="translate(270.2 541.6) rotate(-90)" font-size="7.8" fill="#222" text-anchor="middle" textLength="42.5" lengthAdjust="spacingAndGlyphs" font-weight="bold">% of population</text>
<rect x="296.55" y="488.2" width="7.1" height="6.3" fill="#3b5fb5" stroke="#151515" stroke-width="0.8"/>
<rect x="304.05" y="488.2" width="7.1" height="6.3" fill="#3b5fb5" stroke="#151515" stroke-width="0.8"/>
<rect x="311.55" y="488.2" width="7.1" height="6.3" fill="#3b5fb5" stroke="#151515" stroke-width="0.8"/>
<rect x="319.05" y="488.2" width="7.1" height="6.3" fill="#3b5fb5" stroke="#151515" stroke-width="0.8"/>
<rect x="326.55" y="488.2" width="7.1" height="6.3" fill="#3b5fb5" stroke="#151515" stroke-width="0.8"/>
<rect x="334.05" y="488.2" width="7.1" height="6.3" fill="#5cb048" stroke="#151515" stroke-width="0.8"/>
<rect x="341.55" y="488.2" width="7.1" height="6.3" fill="#5cb048" stroke="#151515" stroke-width="0.8"/>
<rect x="349.05" y="488.2" width="7.1" height="6.3" fill="#5cb048" stroke="#151515" stroke-width="0.8"/>
<rect x="356.55" y="488.2" width="7.1" height="6.3" fill="#e03222" stroke="#151515" stroke-width="0.8"/>
<rect x="364.05" y="488.2" width="7.1" height="6.3" fill="#e03222" stroke="#151515" stroke-width="0.8"/>
<rect x="371.55" y="488.2" width="7.1" height="6.3" fill="#e03222" stroke="#151515" stroke-width="0.8"/>
<rect x="379.05" y="488.2" width="7.1" height="6.3" fill="#e03222" stroke="#151515" stroke-width="0.8"/>
<rect x="386.55" y="488.2" width="7.1" height="6.3" fill="#5cb048" stroke="#151515" stroke-width="0.8"/>
<rect x="394.05" y="488.2" width="7.1" height="6.3" fill="#5cb048" stroke="#151515" stroke-width="0.8"/>
<rect x="401.55" y="488.2" width="7.1" height="6.3" fill="#5cb048" stroke="#151515" stroke-width="0.8"/>
<rect x="409.05" y="488.2" width="7.1" height="6.3" fill="#e03222" stroke="#151515" stroke-width="0.8"/>
<rect x="416.55" y="488.2" width="7.1" height="6.3" fill="#e03222" stroke="#151515" stroke-width="0.8"/>
<rect x="424.05" y="488.2" width="7.1" height="6.3" fill="#5cb048" stroke="#151515" stroke-width="0.8"/>
<rect x="431.55" y="488.2" width="7.1" height="6.3" fill="#e03222" stroke="#151515" stroke-width="0.8"/>
<rect x="439.05" y="488.2" width="7.1" height="6.3" fill="#5cb048" stroke="#151515" stroke-width="0.8"/>
<rect x="446.55" y="488.2" width="7.1" height="6.3" fill="#e03222" stroke="#151515" stroke-width="0.8"/>
<rect x="454.05" y="488.2" width="7.1" height="6.3" fill="#e03222" stroke="#151515" stroke-width="0.8"/>
<line x1="309.7" y1="457.3" x2="378.8" y2="457.3" stroke="#111" stroke-width="0.9"/>
<line x1="309.7" y1="457.3" x2="309.7" y2="486.2" stroke="#111" stroke-width="0.9"/>
<line x1="378.8" y1="457.3" x2="378.8" y2="470.3" stroke="#111" stroke-width="0.9"/>
<line x1="349.5" y1="470.3" x2="407.5" y2="470.3" stroke="#111" stroke-width="0.9"/>
<line x1="349.5" y1="470.3" x2="349.5" y2="484.8" stroke="#111" stroke-width="0.9"/>
<line x1="407.5" y1="470.3" x2="407.5" y2="475.8" stroke="#111" stroke-width="0.9"/>
<line x1="387" y1="475.8" x2="427.3" y2="475.8" stroke="#111" stroke-width="0.9"/>
<line x1="387" y1="475.8" x2="387" y2="485.4" stroke="#111" stroke-width="0.9"/>
<line x1="427.3" y1="475.8" x2="427.3" y2="483.2" stroke="#111" stroke-width="0.9"/>
<line x1="415.7" y1="483.2" x2="439.9" y2="483.2" stroke="#111" stroke-width="0.9"/>
<line x1="415.7" y1="483.2" x2="415.7" y2="486.2" stroke="#111" stroke-width="0.9"/>
<line x1="439.9" y1="483.2" x2="439.9" y2="485.6" stroke="#111" stroke-width="0.9"/>
<line x1="300.1" y1="486.3" x2="319" y2="486.3" stroke="#222" stroke-width="0.8"/>
<line x1="300.1" y1="486.3" x2="300.1" y2="488.2" stroke="#222" stroke-width="0.7"/>
<line x1="319" y1="486.3" x2="319" y2="488.2" stroke="#222" stroke-width="0.7"/>
<line x1="319" y1="487" x2="330.2" y2="487" stroke="#888" stroke-width="0.8"/>
<line x1="319" y1="487" x2="319" y2="488.2" stroke="#888" stroke-width="0.7"/>
<line x1="330.2" y1="487" x2="330.2" y2="488.2" stroke="#888" stroke-width="0.7"/>
<line x1="337.5" y1="484.8" x2="358" y2="484.8" stroke="#222" stroke-width="0.8"/>
<line x1="337.5" y1="484.8" x2="337.5" y2="488.2" stroke="#222" stroke-width="0.7"/>
<line x1="358" y1="484.8" x2="358" y2="488.2" stroke="#222" stroke-width="0.7"/>
<line x1="358" y1="486.2" x2="367.7" y2="486.2" stroke="#888" stroke-width="0.8"/>
<line x1="358" y1="486.2" x2="358" y2="488.2" stroke="#888" stroke-width="0.7"/>
<line x1="367.7" y1="486.2" x2="367.7" y2="488.2" stroke="#888" stroke-width="0.7"/>
<line x1="341" y1="486.6" x2="352" y2="486.6" stroke="#666" stroke-width="0.8"/>
<line x1="341" y1="486.6" x2="341" y2="488.2" stroke="#666" stroke-width="0.7"/>
<line x1="352" y1="486.6" x2="352" y2="488.2" stroke="#666" stroke-width="0.7"/>
<line x1="378.5" y1="485.4" x2="395.8" y2="485.4" stroke="#222" stroke-width="0.8"/>
<line x1="378.5" y1="485.4" x2="378.5" y2="488.2" stroke="#222" stroke-width="0.7"/>
<line x1="395.8" y1="485.4" x2="395.8" y2="488.2" stroke="#222" stroke-width="0.7"/>
<line x1="382" y1="486.6" x2="405.5" y2="486.6" stroke="#888" stroke-width="0.8"/>
<line x1="382" y1="486.6" x2="382" y2="488.2" stroke="#888" stroke-width="0.7"/>
<line x1="405.5" y1="486.6" x2="405.5" y2="488.2" stroke="#888" stroke-width="0.7"/>
<line x1="412" y1="486.3" x2="420.5" y2="486.3" stroke="#666" stroke-width="0.8"/>
<line x1="412" y1="486.3" x2="412" y2="488.2" stroke="#666" stroke-width="0.7"/>
<line x1="420.5" y1="486.3" x2="420.5" y2="488.2" stroke="#666" stroke-width="0.7"/>
<line x1="432" y1="485.7" x2="457.5" y2="485.7" stroke="#333" stroke-width="0.8"/>
<line x1="432" y1="485.7" x2="432" y2="488.2" stroke="#333" stroke-width="0.7"/>
<line x1="457.5" y1="485.7" x2="457.5" y2="488.2" stroke="#333" stroke-width="0.7"/>
<line x1="445" y1="486.8" x2="457.6" y2="486.8" stroke="#888" stroke-width="0.8"/>
<line x1="445" y1="486.8" x2="445" y2="488.2" stroke="#888" stroke-width="0.7"/>
<line x1="457.6" y1="486.8" x2="457.6" y2="488.2" stroke="#888" stroke-width="0.7"/>
<text x="463.8" y="473.83" font-size="6.4" fill="#111" textLength="38.1" lengthAdjust="spacingAndGlyphs">leukemia type</text>
<text x="463.8" y="482.73" font-size="6.4" fill="#111" textLength="44.3" lengthAdjust="spacingAndGlyphs">(flow cytometry)</text>
<rect x="464.6" y="488.55" width="6.7" height="5.3" fill="#3b5fb5" stroke="#151515" stroke-width="0.9"/>
<text x="475.6" y="493.54" font-size="6.8" fill="#111" textLength="11.4" lengthAdjust="spacingAndGlyphs">ALL</text>
<rect x="464.6" y="499.25" width="6.7" height="5.3" fill="#e03222" stroke="#151515" stroke-width="0.9"/>
<text x="482.3" y="504.24" font-size="6.8" fill="#111" text-anchor="middle">AML</text>
<rect x="464.6" y="509.35" width="6.7" height="5.3" fill="#5cb048" stroke="#151515" stroke-width="0.9"/>
<text x="484.55" y="514.34" font-size="6.8" fill="#111" text-anchor="middle">MPAL</text>
<rect x="464.4" y="529.15" width="8.1" height="5.5" fill="#5a2d82" stroke="#151515" stroke-width="0.9"/>
<text x="475.6" y="534.24" font-size="6.8" fill="#111" textLength="33.2" lengthAdjust="spacingAndGlyphs">Unclassified</text>
<rect x="464.4" y="537.95" width="8.1" height="5.5" fill="#f29a1c" stroke="#151515" stroke-width="0.9"/>
<text x="475.6" y="543.04" font-size="6.8" fill="#111" textLength="18.9" lengthAdjust="spacingAndGlyphs">AML4</text>
<rect x="464.4" y="546.85" width="8.1" height="5.5" fill="#f2a283" stroke="#151515" stroke-width="0.9"/>
<text x="475.6" y="551.94" font-size="6.8" fill="#111" textLength="18.9" lengthAdjust="spacingAndGlyphs">AML3</text>
<rect x="464.4" y="555.35" width="8.1" height="5.5" fill="#e2704c" stroke="#151515" stroke-width="0.9"/>
<text x="475.6" y="560.44" font-size="6.8" fill="#111" textLength="18.9" lengthAdjust="spacingAndGlyphs">AML2</text>
<rect x="464.4" y="564.15" width="8.1" height="5.5" fill="#d93a25" stroke="#151515" stroke-width="0.9"/>
<text x="484.55" y="569.24" font-size="6.8" fill="#111" text-anchor="middle">AML1</text>
<rect x="464.4" y="572.85" width="8.1" height="5.5" fill="#2eaae2" stroke="#151515" stroke-width="0.9"/>
<text x="483.3" y="577.94" font-size="6.8" fill="#111" text-anchor="middle">ALL2</text>
<rect x="464.4" y="581.75" width="8.1" height="5.5" fill="#2e3592" stroke="#151515" stroke-width="0.9"/>
<text x="475.6" y="586.84" font-size="6.8" fill="#111" textLength="14.9" lengthAdjust="spacingAndGlyphs">ALL1</text>
<text x="465" y="600.7" font-size="6.4" fill="#111" textLength="27.5" lengthAdjust="spacingAndGlyphs">sample ID</text>
<text x="465" y="610.53" font-size="6.4" fill="#111" textLength="38.1" lengthAdjust="spacingAndGlyphs">leukemia type</text>
<text x="465" y="619.03" font-size="6.4" fill="#111" textLength="47.8" lengthAdjust="spacingAndGlyphs">(mass cytometry)</text>
<text x="6.2" y="19.1" font-size="12.65" font-weight="bold" textLength="8.6" lengthAdjust="spacingAndGlyphs">A</text>
<text x="7.3" y="233.8" font-size="12.21" font-weight="bold" textLength="7.7" lengthAdjust="spacingAndGlyphs">B</text>
<text x="193.8" y="234.2" font-size="12.5" font-weight="bold" textLength="8.4" lengthAdjust="spacingAndGlyphs">C</text>
<text x="6.2" y="430" font-size="12.79" font-weight="bold" textLength="8.8" lengthAdjust="spacingAndGlyphs">D</text>
<text x="264.4" y="429.8" font-size="12.79" font-weight="bold" textLength="6.8" lengthAdjust="spacingAndGlyphs">E</text>
<rect x="0.6" y="0.6" width="518.8" height="684.8" fill="none" stroke="#000" stroke-width="1.3"/>
</svg>
</body></html>
